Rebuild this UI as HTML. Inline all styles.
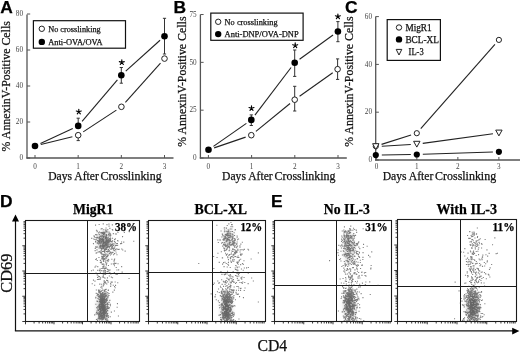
<!DOCTYPE html>
<html><head><meta charset="utf-8"><style>
html,body{margin:0;padding:0;background:#fff;}
body{width:520px;height:352px;overflow:hidden;font-family:"Liberation Serif",serif;}
svg{display:block;filter:grayscale(1);}
</style></head><body>
<svg width="520" height="352" viewBox="0 0 520 352">
<rect width="520" height="352" fill="#fff"/>
<text x="0.3" y="12.9" font-family="Liberation Sans" font-size="17.4" font-weight="bold" text-anchor="start" fill="#000" stroke="#000" stroke-width="0.25" >A</text>
<text x="173.6" y="12.6" font-family="Liberation Sans" font-size="17.4" font-weight="bold" text-anchor="start" fill="#000" stroke="#000" stroke-width="0.25" >B</text>
<text x="345.0" y="12.7" font-family="Liberation Sans" font-size="17.4" font-weight="bold" text-anchor="start" fill="#000" stroke="#000" stroke-width="0.25" >C</text>
<text x="0.0" y="207.3" font-family="Liberation Sans" font-size="17.4" font-weight="bold" text-anchor="start" fill="#000" stroke="#000" stroke-width="0.25" >D</text>
<text x="270.9" y="207.3" font-family="Liberation Sans" font-size="17.4" font-weight="bold" text-anchor="start" fill="#000" stroke="#000" stroke-width="0.25" >E</text>
<line x1="27" y1="14.5" x2="27" y2="158.5" stroke="#555" stroke-width="1.3"/>
<line x1="26.4" y1="158" x2="173.5" y2="158" stroke="#555" stroke-width="1.3"/>
<line x1="27" y1="158.0" x2="30.2" y2="158.0" stroke="#555" stroke-width="1"/>
<text x="23" y="160.2" font-family="Liberation Serif" font-size="7.2" font-weight="normal" text-anchor="end" fill="#444" >0</text>
<line x1="27" y1="122.0" x2="30.2" y2="122.0" stroke="#555" stroke-width="1"/>
<text x="23" y="124.2" font-family="Liberation Serif" font-size="7.2" font-weight="normal" text-anchor="end" fill="#444" >20</text>
<line x1="27" y1="86.0" x2="30.2" y2="86.0" stroke="#555" stroke-width="1"/>
<text x="23" y="88.2" font-family="Liberation Serif" font-size="7.2" font-weight="normal" text-anchor="end" fill="#444" >40</text>
<line x1="27" y1="50.0" x2="30.2" y2="50.0" stroke="#555" stroke-width="1"/>
<text x="23" y="52.2" font-family="Liberation Serif" font-size="7.2" font-weight="normal" text-anchor="end" fill="#444" >60</text>
<line x1="27" y1="14.0" x2="30.2" y2="14.0" stroke="#555" stroke-width="1"/>
<text x="23" y="16.2" font-family="Liberation Serif" font-size="7.2" font-weight="normal" text-anchor="end" fill="#444" >80</text>
<line x1="35.0" y1="158" x2="35.0" y2="155" stroke="#555" stroke-width="1"/>
<text x="35.0" y="168.5" font-family="Liberation Serif" font-size="7.2" font-weight="normal" text-anchor="middle" fill="#444" >0</text>
<line x1="78.17" y1="158" x2="78.17" y2="155" stroke="#555" stroke-width="1"/>
<text x="78.17" y="168.5" font-family="Liberation Serif" font-size="7.2" font-weight="normal" text-anchor="middle" fill="#444" >1</text>
<line x1="121.34" y1="158" x2="121.34" y2="155" stroke="#555" stroke-width="1"/>
<text x="121.34" y="168.5" font-family="Liberation Serif" font-size="7.2" font-weight="normal" text-anchor="middle" fill="#444" >2</text>
<line x1="164.51" y1="158" x2="164.51" y2="155" stroke="#555" stroke-width="1"/>
<text x="164.51" y="168.5" font-family="Liberation Serif" font-size="7.2" font-weight="normal" text-anchor="middle" fill="#444" >3</text>
<text x="0" y="0" font-family="Liberation Serif" font-size="12" text-anchor="middle" fill="#111" stroke="#111" stroke-width="0.25" textLength="130.2" lengthAdjust="spacingAndGlyphs" transform="translate(10.3,86.3) rotate(-90)">% AnnexinV-Positive Cells</text>
<text x="48.2" y="179.5" font-family="Liberation Serif" font-size="12" font-weight="normal" text-anchor="start" fill="#111" textLength="50.6" lengthAdjust="spacingAndGlyphs" stroke="#111" stroke-width="0.25" >Days After</text>
<text x="100.6" y="179.5" font-family="Liberation Serif" font-size="12" font-weight="normal" text-anchor="start" fill="#111" textLength="61.0" lengthAdjust="spacingAndGlyphs" stroke="#111" stroke-width="0.25" >Crosslinking</text>
<rect x="33.4" y="20.7" width="92.1" height="27.500000000000004" fill="#fff" stroke="#111" stroke-width="1.2"/>
<circle cx="41.8" cy="28.8" r="2.7" fill="#fff" stroke="#222" stroke-width="1"/>
<text x="48.2" y="31.605" font-family="Liberation Serif" font-size="8.5" font-weight="normal" text-anchor="start" fill="#111" textLength="52.5" lengthAdjust="spacingAndGlyphs" stroke="#111" stroke-width="0.25" >No crosslinking</text>
<circle cx="41.8" cy="41.9" r="3.2" fill="#000"/>
<text x="48.2" y="44.705" font-family="Liberation Serif" font-size="8.5" font-weight="normal" text-anchor="start" fill="#111" textLength="54.4" lengthAdjust="spacingAndGlyphs" stroke="#111" stroke-width="0.25" >Anti-OVA/OVA</text>
<line x1="40.82" y1="144.54" x2="72.38" y2="136.66" stroke="#222" stroke-width="1.1"/>
<line x1="40.44" y1="143.47" x2="72.76" y2="128.43" stroke="#222" stroke-width="1.1"/>
<line x1="83.21" y1="131.9" x2="116.39" y2="110.1" stroke="#222" stroke-width="1.1"/>
<line x1="82.09" y1="121.33" x2="117.41" y2="79.77" stroke="#222" stroke-width="1.1"/>
<line x1="125.4" y1="102.33" x2="160.5" y2="63.07" stroke="#222" stroke-width="1.1"/>
<line x1="125.75" y1="71.18" x2="160.05" y2="40.22" stroke="#222" stroke-width="1.1"/>
<line x1="78.2" y1="118.2" x2="78.2" y2="126" stroke="#333" stroke-width="1"/>
<line x1="76.60000000000001" y1="118.2" x2="79.8" y2="118.2" stroke="#333" stroke-width="1"/>
<line x1="76.60000000000001" y1="126" x2="79.8" y2="126" stroke="#333" stroke-width="1"/>
<line x1="78.2" y1="135" x2="78.2" y2="140.6" stroke="#333" stroke-width="1"/>
<line x1="76.60000000000001" y1="135" x2="79.8" y2="135" stroke="#333" stroke-width="1"/>
<line x1="76.60000000000001" y1="140.6" x2="79.8" y2="140.6" stroke="#333" stroke-width="1"/>
<line x1="121.3" y1="67.5" x2="121.3" y2="83.2" stroke="#333" stroke-width="1"/>
<line x1="119.7" y1="67.5" x2="122.89999999999999" y2="67.5" stroke="#333" stroke-width="1"/>
<line x1="119.7" y1="83.2" x2="122.89999999999999" y2="83.2" stroke="#333" stroke-width="1"/>
<line x1="164.5" y1="18.3" x2="164.5" y2="54" stroke="#333" stroke-width="1"/>
<line x1="162.9" y1="18.3" x2="166.1" y2="18.3" stroke="#333" stroke-width="1"/>
<line x1="162.9" y1="54" x2="166.1" y2="54" stroke="#333" stroke-width="1"/>
<circle cx="78.2" cy="135.2" r="2.8" fill="#fff" stroke="#222" stroke-width="1"/>
<circle cx="121.4" cy="106.8" r="2.8" fill="#fff" stroke="#222" stroke-width="1"/>
<circle cx="164.5" cy="58.6" r="2.8" fill="#fff" stroke="#222" stroke-width="1"/>
<circle cx="35" cy="146" r="3.3" fill="#000"/>
<circle cx="78.2" cy="125.9" r="3.3" fill="#000"/>
<circle cx="121.3" cy="75.2" r="3.3" fill="#000"/>
<circle cx="164.5" cy="36.2" r="3.3" fill="#000"/>
<path d="M78.80,111.80L78.80,109.20M78.80,111.80L81.27,111.00M78.80,111.80L76.33,111.00M78.80,111.80L77.27,113.90M78.80,111.80L80.33,113.90" stroke="#000" stroke-width="1.15" stroke-linecap="round" fill="none"/>
<path d="M121.80,62.40L121.80,59.80M121.80,62.40L124.27,61.60M121.80,62.40L119.33,61.60M121.80,62.40L120.27,64.50M121.80,62.40L123.33,64.50" stroke="#000" stroke-width="1.15" stroke-linecap="round" fill="none"/>
<line x1="200.4" y1="14.5" x2="200.4" y2="158.5" stroke="#555" stroke-width="1.3"/>
<line x1="199.8" y1="158" x2="346.8" y2="158" stroke="#555" stroke-width="1.3"/>
<line x1="200.4" y1="158.0" x2="203.6" y2="158.0" stroke="#555" stroke-width="1"/>
<text x="196.6" y="160.2" font-family="Liberation Serif" font-size="7.2" font-weight="normal" text-anchor="end" fill="#444" >0</text>
<line x1="200.4" y1="110.175" x2="203.6" y2="110.175" stroke="#555" stroke-width="1"/>
<text x="196.6" y="112.375" font-family="Liberation Serif" font-size="7.2" font-weight="normal" text-anchor="end" fill="#444" >25</text>
<line x1="200.4" y1="62.349999999999994" x2="203.6" y2="62.349999999999994" stroke="#555" stroke-width="1"/>
<text x="196.6" y="64.55" font-family="Liberation Serif" font-size="7.2" font-weight="normal" text-anchor="end" fill="#444" >50</text>
<line x1="200.4" y1="14.525000000000006" x2="203.6" y2="14.525000000000006" stroke="#555" stroke-width="1"/>
<text x="196.6" y="16.725000000000005" font-family="Liberation Serif" font-size="7.2" font-weight="normal" text-anchor="end" fill="#444" >75</text>
<line x1="208.4" y1="158" x2="208.4" y2="155" stroke="#555" stroke-width="1"/>
<text x="208.4" y="168.5" font-family="Liberation Serif" font-size="7.2" font-weight="normal" text-anchor="middle" fill="#444" >0</text>
<line x1="251.60000000000002" y1="158" x2="251.60000000000002" y2="155" stroke="#555" stroke-width="1"/>
<text x="251.60000000000002" y="168.5" font-family="Liberation Serif" font-size="7.2" font-weight="normal" text-anchor="middle" fill="#444" >1</text>
<line x1="294.8" y1="158" x2="294.8" y2="155" stroke="#555" stroke-width="1"/>
<text x="294.8" y="168.5" font-family="Liberation Serif" font-size="7.2" font-weight="normal" text-anchor="middle" fill="#444" >2</text>
<line x1="338.0" y1="158" x2="338.0" y2="155" stroke="#555" stroke-width="1"/>
<text x="338.0" y="168.5" font-family="Liberation Serif" font-size="7.2" font-weight="normal" text-anchor="middle" fill="#444" >3</text>
<text x="0" y="0" font-family="Liberation Serif" font-size="12" text-anchor="middle" fill="#111" stroke="#111" stroke-width="0.25" textLength="130.2" lengthAdjust="spacingAndGlyphs" transform="translate(186,81.6) rotate(-90)">% AnnexinV-Positive Cells</text>
<text x="222.1" y="179.5" font-family="Liberation Serif" font-size="12" font-weight="normal" text-anchor="start" fill="#111" textLength="50.6" lengthAdjust="spacingAndGlyphs" stroke="#111" stroke-width="0.25" >Days After</text>
<text x="274.5" y="179.5" font-family="Liberation Serif" font-size="12" font-weight="normal" text-anchor="start" fill="#111" textLength="61.0" lengthAdjust="spacingAndGlyphs" stroke="#111" stroke-width="0.25" >Crosslinking</text>
<rect x="210.8" y="13.1" width="92.30000000000001" height="27.199999999999996" fill="#fff" stroke="#111" stroke-width="1.2"/>
<circle cx="218.2" cy="21.8" r="2.7" fill="#fff" stroke="#222" stroke-width="1"/>
<text x="224.6" y="24.605" font-family="Liberation Serif" font-size="8.5" font-weight="normal" text-anchor="start" fill="#111" textLength="53.1" lengthAdjust="spacingAndGlyphs" stroke="#111" stroke-width="0.25" >No crosslinking</text>
<circle cx="218.2" cy="34.1" r="3.2" fill="#000"/>
<text x="224.6" y="36.905" font-family="Liberation Serif" font-size="8.5" font-weight="normal" text-anchor="start" fill="#111" textLength="74" lengthAdjust="spacingAndGlyphs" stroke="#111" stroke-width="0.25" >Anti-DNP/OVA-DNP</text>
<line x1="214.18" y1="147.86" x2="245.62" y2="137.14" stroke="#222" stroke-width="1.1"/>
<line x1="213.42" y1="146.36" x2="246.38" y2="123.34" stroke="#222" stroke-width="1.1"/>
<line x1="255.94" y1="131.4" x2="290.06" y2="103.5" stroke="#222" stroke-width="1.1"/>
<line x1="254.93" y1="115.12" x2="291.07" y2="67.48" stroke="#222" stroke-width="1.1"/>
<line x1="299.59" y1="96.22" x2="332.71" y2="72.68" stroke="#222" stroke-width="1.1"/>
<line x1="299.56" y1="59.19" x2="333.04" y2="35.01" stroke="#222" stroke-width="1.1"/>
<line x1="251.3" y1="114.9" x2="251.3" y2="125.5" stroke="#333" stroke-width="1"/>
<line x1="249.70000000000002" y1="114.9" x2="252.9" y2="114.9" stroke="#333" stroke-width="1"/>
<line x1="249.70000000000002" y1="125.5" x2="252.9" y2="125.5" stroke="#333" stroke-width="1"/>
<line x1="294.7" y1="50" x2="294.7" y2="76.4" stroke="#333" stroke-width="1"/>
<line x1="293.09999999999997" y1="50" x2="296.3" y2="50" stroke="#333" stroke-width="1"/>
<line x1="293.09999999999997" y1="76.4" x2="296.3" y2="76.4" stroke="#333" stroke-width="1"/>
<line x1="294.7" y1="86.3" x2="294.7" y2="111" stroke="#333" stroke-width="1"/>
<line x1="293.09999999999997" y1="86.3" x2="296.3" y2="86.3" stroke="#333" stroke-width="1"/>
<line x1="293.09999999999997" y1="111" x2="296.3" y2="111" stroke="#333" stroke-width="1"/>
<line x1="337.9" y1="21.6" x2="337.9" y2="41.7" stroke="#333" stroke-width="1"/>
<line x1="336.29999999999995" y1="21.6" x2="339.5" y2="21.6" stroke="#333" stroke-width="1"/>
<line x1="336.29999999999995" y1="41.7" x2="339.5" y2="41.7" stroke="#333" stroke-width="1"/>
<line x1="337.6" y1="58.9" x2="337.6" y2="79.4" stroke="#333" stroke-width="1"/>
<line x1="336.0" y1="58.9" x2="339.20000000000005" y2="58.9" stroke="#333" stroke-width="1"/>
<line x1="336.0" y1="79.4" x2="339.20000000000005" y2="79.4" stroke="#333" stroke-width="1"/>
<circle cx="251.3" cy="135.2" r="2.8" fill="#fff" stroke="#222" stroke-width="1"/>
<circle cx="294.7" cy="99.7" r="2.8" fill="#fff" stroke="#222" stroke-width="1"/>
<circle cx="337.6" cy="69.2" r="2.8" fill="#fff" stroke="#222" stroke-width="1"/>
<circle cx="208.5" cy="149.8" r="3.3" fill="#000"/>
<circle cx="251.3" cy="119.9" r="3.3" fill="#000"/>
<circle cx="294.7" cy="62.7" r="3.3" fill="#000"/>
<circle cx="337.9" cy="31.5" r="3.3" fill="#000"/>
<path d="M251.50,108.30L251.50,105.70M251.50,108.30L253.97,107.50M251.50,108.30L249.03,107.50M251.50,108.30L249.97,110.40M251.50,108.30L253.03,110.40" stroke="#000" stroke-width="1.15" stroke-linecap="round" fill="none"/>
<path d="M295.20,45.50L295.20,42.90M295.20,45.50L297.67,44.70M295.20,45.50L292.73,44.70M295.20,45.50L293.67,47.60M295.20,45.50L296.73,47.60" stroke="#000" stroke-width="1.15" stroke-linecap="round" fill="none"/>
<path d="M337.90,16.60L337.90,14.00M337.90,16.60L340.37,15.80M337.90,16.60L335.43,15.80M337.90,16.60L336.37,18.70M337.90,16.60L339.43,18.70" stroke="#000" stroke-width="1.15" stroke-linecap="round" fill="none"/>
<line x1="375.7" y1="16.5" x2="375.7" y2="160.5" stroke="#555" stroke-width="1.3"/>
<line x1="375.09999999999997" y1="160" x2="520" y2="160" stroke="#555" stroke-width="1.3"/>
<line x1="375.7" y1="160.0" x2="378.9" y2="160.0" stroke="#555" stroke-width="1"/>
<text x="372" y="162.2" font-family="Liberation Serif" font-size="7.2" font-weight="normal" text-anchor="end" fill="#444" >0</text>
<line x1="375.7" y1="112.19999999999999" x2="378.9" y2="112.19999999999999" stroke="#555" stroke-width="1"/>
<text x="372" y="114.39999999999999" font-family="Liberation Serif" font-size="7.2" font-weight="normal" text-anchor="end" fill="#444" >20</text>
<line x1="375.7" y1="64.39999999999999" x2="378.9" y2="64.39999999999999" stroke="#555" stroke-width="1"/>
<text x="372" y="66.6" font-family="Liberation Serif" font-size="7.2" font-weight="normal" text-anchor="end" fill="#444" >40</text>
<line x1="375.7" y1="16.599999999999994" x2="378.9" y2="16.599999999999994" stroke="#555" stroke-width="1"/>
<text x="372" y="18.799999999999994" font-family="Liberation Serif" font-size="7.2" font-weight="normal" text-anchor="end" fill="#444" >60</text>
<line x1="376.6" y1="160" x2="376.6" y2="157" stroke="#555" stroke-width="1"/>
<text x="376.6" y="169.3" font-family="Liberation Serif" font-size="7.2" font-weight="normal" text-anchor="middle" fill="#444" >0</text>
<line x1="416.83000000000004" y1="160" x2="416.83000000000004" y2="157" stroke="#555" stroke-width="1"/>
<text x="416.83000000000004" y="169.3" font-family="Liberation Serif" font-size="7.2" font-weight="normal" text-anchor="middle" fill="#444" >1</text>
<line x1="457.86" y1="160" x2="457.86" y2="157" stroke="#555" stroke-width="1"/>
<text x="457.86" y="169.3" font-family="Liberation Serif" font-size="7.2" font-weight="normal" text-anchor="middle" fill="#444" >2</text>
<line x1="498.89" y1="160" x2="498.89" y2="157" stroke="#555" stroke-width="1"/>
<text x="498.89" y="169.3" font-family="Liberation Serif" font-size="7.2" font-weight="normal" text-anchor="middle" fill="#444" >3</text>
<text x="0" y="0" font-family="Liberation Serif" font-size="12" text-anchor="middle" fill="#111" stroke="#111" stroke-width="0.25" textLength="130.2" lengthAdjust="spacingAndGlyphs" transform="translate(353.2,81.6) rotate(-90)">% AnnexinV-Positive Cells</text>
<text x="382.7" y="180" font-family="Liberation Serif" font-size="12" font-weight="normal" text-anchor="start" fill="#111" textLength="50.6" lengthAdjust="spacingAndGlyphs" stroke="#111" stroke-width="0.25" >Days After</text>
<text x="435.1" y="180" font-family="Liberation Serif" font-size="12" font-weight="normal" text-anchor="start" fill="#111" textLength="61.0" lengthAdjust="spacingAndGlyphs" stroke="#111" stroke-width="0.25" >Crosslinking</text>
<rect x="387.2" y="19.6" width="53.19999999999999" height="40.8" fill="#fff" stroke="#111" stroke-width="1.2"/>
<circle cx="399" cy="27.5" r="2.7" fill="#fff" stroke="#222" stroke-width="1"/>
<text x="405.4" y="30.602" font-family="Liberation Serif" font-size="9.4" font-weight="normal" text-anchor="start" fill="#111" textLength="26.3" lengthAdjust="spacingAndGlyphs" stroke="#111" stroke-width="0.25" >MigR1</text>
<circle cx="399" cy="39.4" r="3.2" fill="#000"/>
<text x="405.4" y="42.501999999999995" font-family="Liberation Serif" font-size="9.4" font-weight="normal" text-anchor="start" fill="#111" textLength="33.4" lengthAdjust="spacingAndGlyphs" stroke="#111" stroke-width="0.25" >BCL-XL</text>
<path d="M396.2,49.400000000000006 L401.8,49.400000000000006 L399,55.0 Z" fill="#fff" stroke="#222" stroke-width="1"/>
<text x="408.6" y="55.30200000000001" font-family="Liberation Serif" font-size="9.4" font-weight="normal" text-anchor="start" fill="#111" textLength="15.1" lengthAdjust="spacingAndGlyphs" stroke="#111" stroke-width="0.25" >IL-3</text>
<line x1="381.52" y1="144.39" x2="411.08" y2="135.01" stroke="#222" stroke-width="1.1"/>
<line x1="420.76" y1="128.7" x2="494.94" y2="44.4" stroke="#222" stroke-width="1.1"/>
<line x1="381.8" y1="154.93" x2="410.8" y2="154.57" stroke="#222" stroke-width="1.1"/>
<line x1="422.8" y1="154.3" x2="492.9" y2="152.0" stroke="#222" stroke-width="1.1"/>
<line x1="381.79" y1="146.25" x2="410.81" y2="144.55" stroke="#222" stroke-width="1.1"/>
<line x1="422.74" y1="143.39" x2="492.96" y2="133.81" stroke="#222" stroke-width="1.1"/>
<circle cx="375.8" cy="146.2" r="2.6" fill="#fff" stroke="#222" stroke-width="1"/>
<circle cx="416.8" cy="133.2" r="2.6" fill="#fff" stroke="#222" stroke-width="1"/>
<circle cx="498.9" cy="39.9" r="2.6" fill="#fff" stroke="#222" stroke-width="1"/>
<path d="M372.6,143.7 L379.0,143.7 L375.8,149.5 Z" fill="#fff" stroke="#222" stroke-width="1"/>
<path d="M413.6,141.29999999999998 L420.0,141.29999999999998 L416.8,147.1 Z" fill="#fff" stroke="#222" stroke-width="1"/>
<path d="M495.7,130.1 L502.09999999999997,130.1 L498.9,135.9 Z" fill="#fff" stroke="#222" stroke-width="1"/>
<circle cx="375.8" cy="155" r="3.1" fill="#000"/>
<circle cx="416.8" cy="154.5" r="3.1" fill="#000"/>
<circle cx="498.9" cy="151.8" r="3.1" fill="#000"/>
<line x1="15.5" y1="220" x2="15.5" y2="331" stroke="#111" stroke-width="1.2"/>
<path d="M12,221.5 L15.5,214.6 L19,221.5 Z" fill="#000"/>
<line x1="14.9" y1="330.9" x2="513" y2="330.9" stroke="#111" stroke-width="1.3"/>
<path d="M512.2,327.8 L519.4,331 L512.2,334.6 Z" fill="#000"/>
<text x="11.6" y="273.2" font-family="Liberation Serif" font-size="16.3" font-weight="normal" text-anchor="middle" fill="#111" textLength="39" lengthAdjust="spacingAndGlyphs" stroke="#111" stroke-width="0.25" transform="rotate(-90 11.6 273.2)">CD69</text>
<text x="257.4" y="350.8" font-family="Liberation Serif" font-size="16" font-weight="normal" text-anchor="start" fill="#111" textLength="29.8" lengthAdjust="spacingAndGlyphs" stroke="#111" stroke-width="0.25" >CD4</text>
<line x1="22.3" y1="321.5" x2="25.5" y2="321.5" stroke="#222" stroke-width="0.9"/>
<line x1="23.5" y1="313.9" x2="25.5" y2="313.9" stroke="#222" stroke-width="0.9"/>
<line x1="23.5" y1="309.45" x2="25.5" y2="309.45" stroke="#222" stroke-width="0.9"/>
<line x1="23.5" y1="306.3" x2="25.5" y2="306.3" stroke="#222" stroke-width="0.9"/>
<line x1="23.5" y1="303.85" x2="25.5" y2="303.85" stroke="#222" stroke-width="0.9"/>
<line x1="23.5" y1="301.85" x2="25.5" y2="301.85" stroke="#222" stroke-width="0.9"/>
<line x1="23.5" y1="300.16" x2="25.5" y2="300.16" stroke="#222" stroke-width="0.9"/>
<line x1="23.5" y1="298.7" x2="25.5" y2="298.7" stroke="#222" stroke-width="0.9"/>
<line x1="23.5" y1="297.41" x2="25.5" y2="297.41" stroke="#222" stroke-width="0.9"/>
<line x1="22.3" y1="296.25" x2="25.5" y2="296.25" stroke="#222" stroke-width="0.9"/>
<line x1="23.5" y1="288.65" x2="25.5" y2="288.65" stroke="#222" stroke-width="0.9"/>
<line x1="23.5" y1="284.2" x2="25.5" y2="284.2" stroke="#222" stroke-width="0.9"/>
<line x1="23.5" y1="281.05" x2="25.5" y2="281.05" stroke="#222" stroke-width="0.9"/>
<line x1="23.5" y1="278.6" x2="25.5" y2="278.6" stroke="#222" stroke-width="0.9"/>
<line x1="23.5" y1="276.6" x2="25.5" y2="276.6" stroke="#222" stroke-width="0.9"/>
<line x1="23.5" y1="274.91" x2="25.5" y2="274.91" stroke="#222" stroke-width="0.9"/>
<line x1="23.5" y1="273.45" x2="25.5" y2="273.45" stroke="#222" stroke-width="0.9"/>
<line x1="23.5" y1="272.16" x2="25.5" y2="272.16" stroke="#222" stroke-width="0.9"/>
<line x1="22.3" y1="271.0" x2="25.5" y2="271.0" stroke="#222" stroke-width="0.9"/>
<line x1="23.5" y1="263.4" x2="25.5" y2="263.4" stroke="#222" stroke-width="0.9"/>
<line x1="23.5" y1="258.95" x2="25.5" y2="258.95" stroke="#222" stroke-width="0.9"/>
<line x1="23.5" y1="255.8" x2="25.5" y2="255.8" stroke="#222" stroke-width="0.9"/>
<line x1="23.5" y1="253.35" x2="25.5" y2="253.35" stroke="#222" stroke-width="0.9"/>
<line x1="23.5" y1="251.35" x2="25.5" y2="251.35" stroke="#222" stroke-width="0.9"/>
<line x1="23.5" y1="249.66" x2="25.5" y2="249.66" stroke="#222" stroke-width="0.9"/>
<line x1="23.5" y1="248.2" x2="25.5" y2="248.2" stroke="#222" stroke-width="0.9"/>
<line x1="23.5" y1="246.91" x2="25.5" y2="246.91" stroke="#222" stroke-width="0.9"/>
<line x1="22.3" y1="245.75" x2="25.5" y2="245.75" stroke="#222" stroke-width="0.9"/>
<line x1="23.5" y1="238.15" x2="25.5" y2="238.15" stroke="#222" stroke-width="0.9"/>
<line x1="23.5" y1="233.7" x2="25.5" y2="233.7" stroke="#222" stroke-width="0.9"/>
<line x1="23.5" y1="230.55" x2="25.5" y2="230.55" stroke="#222" stroke-width="0.9"/>
<line x1="23.5" y1="228.1" x2="25.5" y2="228.1" stroke="#222" stroke-width="0.9"/>
<line x1="23.5" y1="226.1" x2="25.5" y2="226.1" stroke="#222" stroke-width="0.9"/>
<line x1="23.5" y1="224.41" x2="25.5" y2="224.41" stroke="#222" stroke-width="0.9"/>
<line x1="23.5" y1="222.95" x2="25.5" y2="222.95" stroke="#222" stroke-width="0.9"/>
<line x1="23.5" y1="221.66" x2="25.5" y2="221.66" stroke="#222" stroke-width="0.9"/>
<line x1="25.5" y1="321.5" x2="25.5" y2="324.3" stroke="#222" stroke-width="0.9"/>
<line x1="34.08" y1="321.5" x2="34.08" y2="323.5" stroke="#222" stroke-width="0.9"/>
<line x1="39.1" y1="321.5" x2="39.1" y2="323.5" stroke="#222" stroke-width="0.9"/>
<line x1="42.66" y1="321.5" x2="42.66" y2="323.5" stroke="#222" stroke-width="0.9"/>
<line x1="45.42" y1="321.5" x2="45.42" y2="323.5" stroke="#222" stroke-width="0.9"/>
<line x1="47.68" y1="321.5" x2="47.68" y2="323.5" stroke="#222" stroke-width="0.9"/>
<line x1="49.59" y1="321.5" x2="49.59" y2="323.5" stroke="#222" stroke-width="0.9"/>
<line x1="51.24" y1="321.5" x2="51.24" y2="323.5" stroke="#222" stroke-width="0.9"/>
<line x1="52.7" y1="321.5" x2="52.7" y2="323.5" stroke="#222" stroke-width="0.9"/>
<line x1="54.0" y1="321.5" x2="54.0" y2="324.3" stroke="#222" stroke-width="0.9"/>
<line x1="62.58" y1="321.5" x2="62.58" y2="323.5" stroke="#222" stroke-width="0.9"/>
<line x1="67.6" y1="321.5" x2="67.6" y2="323.5" stroke="#222" stroke-width="0.9"/>
<line x1="71.16" y1="321.5" x2="71.16" y2="323.5" stroke="#222" stroke-width="0.9"/>
<line x1="73.92" y1="321.5" x2="73.92" y2="323.5" stroke="#222" stroke-width="0.9"/>
<line x1="76.18" y1="321.5" x2="76.18" y2="323.5" stroke="#222" stroke-width="0.9"/>
<line x1="78.09" y1="321.5" x2="78.09" y2="323.5" stroke="#222" stroke-width="0.9"/>
<line x1="79.74" y1="321.5" x2="79.74" y2="323.5" stroke="#222" stroke-width="0.9"/>
<line x1="81.2" y1="321.5" x2="81.2" y2="323.5" stroke="#222" stroke-width="0.9"/>
<line x1="82.5" y1="321.5" x2="82.5" y2="324.3" stroke="#222" stroke-width="0.9"/>
<line x1="91.08" y1="321.5" x2="91.08" y2="323.5" stroke="#222" stroke-width="0.9"/>
<line x1="96.1" y1="321.5" x2="96.1" y2="323.5" stroke="#222" stroke-width="0.9"/>
<line x1="99.66" y1="321.5" x2="99.66" y2="323.5" stroke="#222" stroke-width="0.9"/>
<line x1="102.42" y1="321.5" x2="102.42" y2="323.5" stroke="#222" stroke-width="0.9"/>
<line x1="104.68" y1="321.5" x2="104.68" y2="323.5" stroke="#222" stroke-width="0.9"/>
<line x1="106.59" y1="321.5" x2="106.59" y2="323.5" stroke="#222" stroke-width="0.9"/>
<line x1="108.24" y1="321.5" x2="108.24" y2="323.5" stroke="#222" stroke-width="0.9"/>
<line x1="109.7" y1="321.5" x2="109.7" y2="323.5" stroke="#222" stroke-width="0.9"/>
<line x1="111.0" y1="321.5" x2="111.0" y2="324.3" stroke="#222" stroke-width="0.9"/>
<line x1="119.58" y1="321.5" x2="119.58" y2="323.5" stroke="#222" stroke-width="0.9"/>
<line x1="124.6" y1="321.5" x2="124.6" y2="323.5" stroke="#222" stroke-width="0.9"/>
<line x1="128.16" y1="321.5" x2="128.16" y2="323.5" stroke="#222" stroke-width="0.9"/>
<line x1="130.92" y1="321.5" x2="130.92" y2="323.5" stroke="#222" stroke-width="0.9"/>
<line x1="133.18" y1="321.5" x2="133.18" y2="323.5" stroke="#222" stroke-width="0.9"/>
<line x1="135.09" y1="321.5" x2="135.09" y2="323.5" stroke="#222" stroke-width="0.9"/>
<line x1="136.74" y1="321.5" x2="136.74" y2="323.5" stroke="#222" stroke-width="0.9"/>
<line x1="138.2" y1="321.5" x2="138.2" y2="323.5" stroke="#222" stroke-width="0.9"/>
<rect x="25.5" y="220.5" width="114.0" height="101.0" fill="none" stroke="#1a1a1a" stroke-width="1.1"/>
<line x1="25.5" y1="273.5" x2="139.5" y2="273.5" stroke="#1a1a1a" stroke-width="1.0"/>
<line x1="87.5" y1="220.5" x2="87.5" y2="321.5" stroke="#1a1a1a" stroke-width="1.0"/>
<text x="73" y="213.8" font-family="Liberation Serif" font-size="14" font-weight="bold" text-anchor="start" fill="#000" textLength="40.3" lengthAdjust="spacingAndGlyphs" stroke="#000" stroke-width="0.25" >MigR1</text>
<text x="115" y="230.8" font-family="Liberation Serif" font-size="12" font-weight="bold" text-anchor="start" fill="#000" textLength="22" lengthAdjust="spacingAndGlyphs" stroke="#000" stroke-width="0.25" >38%</text>
<line x1="145.3" y1="321.5" x2="148.5" y2="321.5" stroke="#222" stroke-width="0.9"/>
<line x1="146.5" y1="313.9" x2="148.5" y2="313.9" stroke="#222" stroke-width="0.9"/>
<line x1="146.5" y1="309.45" x2="148.5" y2="309.45" stroke="#222" stroke-width="0.9"/>
<line x1="146.5" y1="306.3" x2="148.5" y2="306.3" stroke="#222" stroke-width="0.9"/>
<line x1="146.5" y1="303.85" x2="148.5" y2="303.85" stroke="#222" stroke-width="0.9"/>
<line x1="146.5" y1="301.85" x2="148.5" y2="301.85" stroke="#222" stroke-width="0.9"/>
<line x1="146.5" y1="300.16" x2="148.5" y2="300.16" stroke="#222" stroke-width="0.9"/>
<line x1="146.5" y1="298.7" x2="148.5" y2="298.7" stroke="#222" stroke-width="0.9"/>
<line x1="146.5" y1="297.41" x2="148.5" y2="297.41" stroke="#222" stroke-width="0.9"/>
<line x1="145.3" y1="296.25" x2="148.5" y2="296.25" stroke="#222" stroke-width="0.9"/>
<line x1="146.5" y1="288.65" x2="148.5" y2="288.65" stroke="#222" stroke-width="0.9"/>
<line x1="146.5" y1="284.2" x2="148.5" y2="284.2" stroke="#222" stroke-width="0.9"/>
<line x1="146.5" y1="281.05" x2="148.5" y2="281.05" stroke="#222" stroke-width="0.9"/>
<line x1="146.5" y1="278.6" x2="148.5" y2="278.6" stroke="#222" stroke-width="0.9"/>
<line x1="146.5" y1="276.6" x2="148.5" y2="276.6" stroke="#222" stroke-width="0.9"/>
<line x1="146.5" y1="274.91" x2="148.5" y2="274.91" stroke="#222" stroke-width="0.9"/>
<line x1="146.5" y1="273.45" x2="148.5" y2="273.45" stroke="#222" stroke-width="0.9"/>
<line x1="146.5" y1="272.16" x2="148.5" y2="272.16" stroke="#222" stroke-width="0.9"/>
<line x1="145.3" y1="271.0" x2="148.5" y2="271.0" stroke="#222" stroke-width="0.9"/>
<line x1="146.5" y1="263.4" x2="148.5" y2="263.4" stroke="#222" stroke-width="0.9"/>
<line x1="146.5" y1="258.95" x2="148.5" y2="258.95" stroke="#222" stroke-width="0.9"/>
<line x1="146.5" y1="255.8" x2="148.5" y2="255.8" stroke="#222" stroke-width="0.9"/>
<line x1="146.5" y1="253.35" x2="148.5" y2="253.35" stroke="#222" stroke-width="0.9"/>
<line x1="146.5" y1="251.35" x2="148.5" y2="251.35" stroke="#222" stroke-width="0.9"/>
<line x1="146.5" y1="249.66" x2="148.5" y2="249.66" stroke="#222" stroke-width="0.9"/>
<line x1="146.5" y1="248.2" x2="148.5" y2="248.2" stroke="#222" stroke-width="0.9"/>
<line x1="146.5" y1="246.91" x2="148.5" y2="246.91" stroke="#222" stroke-width="0.9"/>
<line x1="145.3" y1="245.75" x2="148.5" y2="245.75" stroke="#222" stroke-width="0.9"/>
<line x1="146.5" y1="238.15" x2="148.5" y2="238.15" stroke="#222" stroke-width="0.9"/>
<line x1="146.5" y1="233.7" x2="148.5" y2="233.7" stroke="#222" stroke-width="0.9"/>
<line x1="146.5" y1="230.55" x2="148.5" y2="230.55" stroke="#222" stroke-width="0.9"/>
<line x1="146.5" y1="228.1" x2="148.5" y2="228.1" stroke="#222" stroke-width="0.9"/>
<line x1="146.5" y1="226.1" x2="148.5" y2="226.1" stroke="#222" stroke-width="0.9"/>
<line x1="146.5" y1="224.41" x2="148.5" y2="224.41" stroke="#222" stroke-width="0.9"/>
<line x1="146.5" y1="222.95" x2="148.5" y2="222.95" stroke="#222" stroke-width="0.9"/>
<line x1="146.5" y1="221.66" x2="148.5" y2="221.66" stroke="#222" stroke-width="0.9"/>
<line x1="148.5" y1="321.5" x2="148.5" y2="324.3" stroke="#222" stroke-width="0.9"/>
<line x1="157.31" y1="321.5" x2="157.31" y2="323.5" stroke="#222" stroke-width="0.9"/>
<line x1="162.46" y1="321.5" x2="162.46" y2="323.5" stroke="#222" stroke-width="0.9"/>
<line x1="166.11" y1="321.5" x2="166.11" y2="323.5" stroke="#222" stroke-width="0.9"/>
<line x1="168.94" y1="321.5" x2="168.94" y2="323.5" stroke="#222" stroke-width="0.9"/>
<line x1="171.26" y1="321.5" x2="171.26" y2="323.5" stroke="#222" stroke-width="0.9"/>
<line x1="173.22" y1="321.5" x2="173.22" y2="323.5" stroke="#222" stroke-width="0.9"/>
<line x1="174.92" y1="321.5" x2="174.92" y2="323.5" stroke="#222" stroke-width="0.9"/>
<line x1="176.41" y1="321.5" x2="176.41" y2="323.5" stroke="#222" stroke-width="0.9"/>
<line x1="177.75" y1="321.5" x2="177.75" y2="324.3" stroke="#222" stroke-width="0.9"/>
<line x1="186.56" y1="321.5" x2="186.56" y2="323.5" stroke="#222" stroke-width="0.9"/>
<line x1="191.71" y1="321.5" x2="191.71" y2="323.5" stroke="#222" stroke-width="0.9"/>
<line x1="195.36" y1="321.5" x2="195.36" y2="323.5" stroke="#222" stroke-width="0.9"/>
<line x1="198.19" y1="321.5" x2="198.19" y2="323.5" stroke="#222" stroke-width="0.9"/>
<line x1="200.51" y1="321.5" x2="200.51" y2="323.5" stroke="#222" stroke-width="0.9"/>
<line x1="202.47" y1="321.5" x2="202.47" y2="323.5" stroke="#222" stroke-width="0.9"/>
<line x1="204.17" y1="321.5" x2="204.17" y2="323.5" stroke="#222" stroke-width="0.9"/>
<line x1="205.66" y1="321.5" x2="205.66" y2="323.5" stroke="#222" stroke-width="0.9"/>
<line x1="207.0" y1="321.5" x2="207.0" y2="324.3" stroke="#222" stroke-width="0.9"/>
<line x1="215.81" y1="321.5" x2="215.81" y2="323.5" stroke="#222" stroke-width="0.9"/>
<line x1="220.96" y1="321.5" x2="220.96" y2="323.5" stroke="#222" stroke-width="0.9"/>
<line x1="224.61" y1="321.5" x2="224.61" y2="323.5" stroke="#222" stroke-width="0.9"/>
<line x1="227.44" y1="321.5" x2="227.44" y2="323.5" stroke="#222" stroke-width="0.9"/>
<line x1="229.76" y1="321.5" x2="229.76" y2="323.5" stroke="#222" stroke-width="0.9"/>
<line x1="231.72" y1="321.5" x2="231.72" y2="323.5" stroke="#222" stroke-width="0.9"/>
<line x1="233.42" y1="321.5" x2="233.42" y2="323.5" stroke="#222" stroke-width="0.9"/>
<line x1="234.91" y1="321.5" x2="234.91" y2="323.5" stroke="#222" stroke-width="0.9"/>
<line x1="236.25" y1="321.5" x2="236.25" y2="324.3" stroke="#222" stroke-width="0.9"/>
<line x1="245.06" y1="321.5" x2="245.06" y2="323.5" stroke="#222" stroke-width="0.9"/>
<line x1="250.21" y1="321.5" x2="250.21" y2="323.5" stroke="#222" stroke-width="0.9"/>
<line x1="253.86" y1="321.5" x2="253.86" y2="323.5" stroke="#222" stroke-width="0.9"/>
<line x1="256.69" y1="321.5" x2="256.69" y2="323.5" stroke="#222" stroke-width="0.9"/>
<line x1="259.01" y1="321.5" x2="259.01" y2="323.5" stroke="#222" stroke-width="0.9"/>
<line x1="260.97" y1="321.5" x2="260.97" y2="323.5" stroke="#222" stroke-width="0.9"/>
<line x1="262.67" y1="321.5" x2="262.67" y2="323.5" stroke="#222" stroke-width="0.9"/>
<line x1="264.16" y1="321.5" x2="264.16" y2="323.5" stroke="#222" stroke-width="0.9"/>
<rect x="148.5" y="220.5" width="117.0" height="101.0" fill="none" stroke="#1a1a1a" stroke-width="1.1"/>
<line x1="148.5" y1="272.5" x2="265.5" y2="272.5" stroke="#1a1a1a" stroke-width="1.0"/>
<line x1="212.5" y1="220.5" x2="212.5" y2="321.5" stroke="#1a1a1a" stroke-width="1.0"/>
<text x="194.5" y="213.8" font-family="Liberation Serif" font-size="14" font-weight="bold" text-anchor="start" fill="#000" textLength="52.5" lengthAdjust="spacingAndGlyphs" stroke="#000" stroke-width="0.25" >BCL-XL</text>
<text x="240.4" y="230.8" font-family="Liberation Serif" font-size="12" font-weight="bold" text-anchor="start" fill="#000" textLength="21.9" lengthAdjust="spacingAndGlyphs" stroke="#000" stroke-width="0.25" >12%</text>
<line x1="271.3" y1="321.5" x2="274.5" y2="321.5" stroke="#222" stroke-width="0.9"/>
<line x1="272.5" y1="313.9" x2="274.5" y2="313.9" stroke="#222" stroke-width="0.9"/>
<line x1="272.5" y1="309.45" x2="274.5" y2="309.45" stroke="#222" stroke-width="0.9"/>
<line x1="272.5" y1="306.3" x2="274.5" y2="306.3" stroke="#222" stroke-width="0.9"/>
<line x1="272.5" y1="303.85" x2="274.5" y2="303.85" stroke="#222" stroke-width="0.9"/>
<line x1="272.5" y1="301.85" x2="274.5" y2="301.85" stroke="#222" stroke-width="0.9"/>
<line x1="272.5" y1="300.16" x2="274.5" y2="300.16" stroke="#222" stroke-width="0.9"/>
<line x1="272.5" y1="298.7" x2="274.5" y2="298.7" stroke="#222" stroke-width="0.9"/>
<line x1="272.5" y1="297.41" x2="274.5" y2="297.41" stroke="#222" stroke-width="0.9"/>
<line x1="271.3" y1="296.25" x2="274.5" y2="296.25" stroke="#222" stroke-width="0.9"/>
<line x1="272.5" y1="288.65" x2="274.5" y2="288.65" stroke="#222" stroke-width="0.9"/>
<line x1="272.5" y1="284.2" x2="274.5" y2="284.2" stroke="#222" stroke-width="0.9"/>
<line x1="272.5" y1="281.05" x2="274.5" y2="281.05" stroke="#222" stroke-width="0.9"/>
<line x1="272.5" y1="278.6" x2="274.5" y2="278.6" stroke="#222" stroke-width="0.9"/>
<line x1="272.5" y1="276.6" x2="274.5" y2="276.6" stroke="#222" stroke-width="0.9"/>
<line x1="272.5" y1="274.91" x2="274.5" y2="274.91" stroke="#222" stroke-width="0.9"/>
<line x1="272.5" y1="273.45" x2="274.5" y2="273.45" stroke="#222" stroke-width="0.9"/>
<line x1="272.5" y1="272.16" x2="274.5" y2="272.16" stroke="#222" stroke-width="0.9"/>
<line x1="271.3" y1="271.0" x2="274.5" y2="271.0" stroke="#222" stroke-width="0.9"/>
<line x1="272.5" y1="263.4" x2="274.5" y2="263.4" stroke="#222" stroke-width="0.9"/>
<line x1="272.5" y1="258.95" x2="274.5" y2="258.95" stroke="#222" stroke-width="0.9"/>
<line x1="272.5" y1="255.8" x2="274.5" y2="255.8" stroke="#222" stroke-width="0.9"/>
<line x1="272.5" y1="253.35" x2="274.5" y2="253.35" stroke="#222" stroke-width="0.9"/>
<line x1="272.5" y1="251.35" x2="274.5" y2="251.35" stroke="#222" stroke-width="0.9"/>
<line x1="272.5" y1="249.66" x2="274.5" y2="249.66" stroke="#222" stroke-width="0.9"/>
<line x1="272.5" y1="248.2" x2="274.5" y2="248.2" stroke="#222" stroke-width="0.9"/>
<line x1="272.5" y1="246.91" x2="274.5" y2="246.91" stroke="#222" stroke-width="0.9"/>
<line x1="271.3" y1="245.75" x2="274.5" y2="245.75" stroke="#222" stroke-width="0.9"/>
<line x1="272.5" y1="238.15" x2="274.5" y2="238.15" stroke="#222" stroke-width="0.9"/>
<line x1="272.5" y1="233.7" x2="274.5" y2="233.7" stroke="#222" stroke-width="0.9"/>
<line x1="272.5" y1="230.55" x2="274.5" y2="230.55" stroke="#222" stroke-width="0.9"/>
<line x1="272.5" y1="228.1" x2="274.5" y2="228.1" stroke="#222" stroke-width="0.9"/>
<line x1="272.5" y1="226.1" x2="274.5" y2="226.1" stroke="#222" stroke-width="0.9"/>
<line x1="272.5" y1="224.41" x2="274.5" y2="224.41" stroke="#222" stroke-width="0.9"/>
<line x1="272.5" y1="222.95" x2="274.5" y2="222.95" stroke="#222" stroke-width="0.9"/>
<line x1="272.5" y1="221.66" x2="274.5" y2="221.66" stroke="#222" stroke-width="0.9"/>
<line x1="274.5" y1="321.5" x2="274.5" y2="324.3" stroke="#222" stroke-width="0.9"/>
<line x1="283.31" y1="321.5" x2="283.31" y2="323.5" stroke="#222" stroke-width="0.9"/>
<line x1="288.46" y1="321.5" x2="288.46" y2="323.5" stroke="#222" stroke-width="0.9"/>
<line x1="292.11" y1="321.5" x2="292.11" y2="323.5" stroke="#222" stroke-width="0.9"/>
<line x1="294.94" y1="321.5" x2="294.94" y2="323.5" stroke="#222" stroke-width="0.9"/>
<line x1="297.26" y1="321.5" x2="297.26" y2="323.5" stroke="#222" stroke-width="0.9"/>
<line x1="299.22" y1="321.5" x2="299.22" y2="323.5" stroke="#222" stroke-width="0.9"/>
<line x1="300.92" y1="321.5" x2="300.92" y2="323.5" stroke="#222" stroke-width="0.9"/>
<line x1="302.41" y1="321.5" x2="302.41" y2="323.5" stroke="#222" stroke-width="0.9"/>
<line x1="303.75" y1="321.5" x2="303.75" y2="324.3" stroke="#222" stroke-width="0.9"/>
<line x1="312.56" y1="321.5" x2="312.56" y2="323.5" stroke="#222" stroke-width="0.9"/>
<line x1="317.71" y1="321.5" x2="317.71" y2="323.5" stroke="#222" stroke-width="0.9"/>
<line x1="321.36" y1="321.5" x2="321.36" y2="323.5" stroke="#222" stroke-width="0.9"/>
<line x1="324.19" y1="321.5" x2="324.19" y2="323.5" stroke="#222" stroke-width="0.9"/>
<line x1="326.51" y1="321.5" x2="326.51" y2="323.5" stroke="#222" stroke-width="0.9"/>
<line x1="328.47" y1="321.5" x2="328.47" y2="323.5" stroke="#222" stroke-width="0.9"/>
<line x1="330.17" y1="321.5" x2="330.17" y2="323.5" stroke="#222" stroke-width="0.9"/>
<line x1="331.66" y1="321.5" x2="331.66" y2="323.5" stroke="#222" stroke-width="0.9"/>
<line x1="333.0" y1="321.5" x2="333.0" y2="324.3" stroke="#222" stroke-width="0.9"/>
<line x1="341.81" y1="321.5" x2="341.81" y2="323.5" stroke="#222" stroke-width="0.9"/>
<line x1="346.96" y1="321.5" x2="346.96" y2="323.5" stroke="#222" stroke-width="0.9"/>
<line x1="350.61" y1="321.5" x2="350.61" y2="323.5" stroke="#222" stroke-width="0.9"/>
<line x1="353.44" y1="321.5" x2="353.44" y2="323.5" stroke="#222" stroke-width="0.9"/>
<line x1="355.76" y1="321.5" x2="355.76" y2="323.5" stroke="#222" stroke-width="0.9"/>
<line x1="357.72" y1="321.5" x2="357.72" y2="323.5" stroke="#222" stroke-width="0.9"/>
<line x1="359.42" y1="321.5" x2="359.42" y2="323.5" stroke="#222" stroke-width="0.9"/>
<line x1="360.91" y1="321.5" x2="360.91" y2="323.5" stroke="#222" stroke-width="0.9"/>
<line x1="362.25" y1="321.5" x2="362.25" y2="324.3" stroke="#222" stroke-width="0.9"/>
<line x1="371.06" y1="321.5" x2="371.06" y2="323.5" stroke="#222" stroke-width="0.9"/>
<line x1="376.21" y1="321.5" x2="376.21" y2="323.5" stroke="#222" stroke-width="0.9"/>
<line x1="379.86" y1="321.5" x2="379.86" y2="323.5" stroke="#222" stroke-width="0.9"/>
<line x1="382.69" y1="321.5" x2="382.69" y2="323.5" stroke="#222" stroke-width="0.9"/>
<line x1="385.01" y1="321.5" x2="385.01" y2="323.5" stroke="#222" stroke-width="0.9"/>
<line x1="386.97" y1="321.5" x2="386.97" y2="323.5" stroke="#222" stroke-width="0.9"/>
<line x1="388.67" y1="321.5" x2="388.67" y2="323.5" stroke="#222" stroke-width="0.9"/>
<line x1="390.16" y1="321.5" x2="390.16" y2="323.5" stroke="#222" stroke-width="0.9"/>
<rect x="274.5" y="220.5" width="117.0" height="101.0" fill="none" stroke="#1a1a1a" stroke-width="1.1"/>
<line x1="274.5" y1="285.5" x2="391.5" y2="285.5" stroke="#1a1a1a" stroke-width="1.0"/>
<line x1="336.5" y1="220.5" x2="336.5" y2="321.5" stroke="#1a1a1a" stroke-width="1.0"/>
<text x="323.8" y="213.8" font-family="Liberation Serif" font-size="14" font-weight="bold" text-anchor="start" fill="#000" textLength="46.2" lengthAdjust="spacingAndGlyphs" stroke="#000" stroke-width="0.25" >No IL-3</text>
<text x="365.3" y="230.8" font-family="Liberation Serif" font-size="12" font-weight="bold" text-anchor="start" fill="#000" textLength="22.2" lengthAdjust="spacingAndGlyphs" stroke="#000" stroke-width="0.25" >31%</text>
<line x1="394.3" y1="321.5" x2="397.5" y2="321.5" stroke="#222" stroke-width="0.9"/>
<line x1="395.5" y1="313.82" x2="397.5" y2="313.82" stroke="#222" stroke-width="0.9"/>
<line x1="395.5" y1="309.33" x2="397.5" y2="309.33" stroke="#222" stroke-width="0.9"/>
<line x1="395.5" y1="306.15" x2="397.5" y2="306.15" stroke="#222" stroke-width="0.9"/>
<line x1="395.5" y1="303.68" x2="397.5" y2="303.68" stroke="#222" stroke-width="0.9"/>
<line x1="395.5" y1="301.66" x2="397.5" y2="301.66" stroke="#222" stroke-width="0.9"/>
<line x1="395.5" y1="299.95" x2="397.5" y2="299.95" stroke="#222" stroke-width="0.9"/>
<line x1="395.5" y1="298.47" x2="397.5" y2="298.47" stroke="#222" stroke-width="0.9"/>
<line x1="395.5" y1="297.17" x2="397.5" y2="297.17" stroke="#222" stroke-width="0.9"/>
<line x1="394.3" y1="296.0" x2="397.5" y2="296.0" stroke="#222" stroke-width="0.9"/>
<line x1="395.5" y1="288.32" x2="397.5" y2="288.32" stroke="#222" stroke-width="0.9"/>
<line x1="395.5" y1="283.83" x2="397.5" y2="283.83" stroke="#222" stroke-width="0.9"/>
<line x1="395.5" y1="280.65" x2="397.5" y2="280.65" stroke="#222" stroke-width="0.9"/>
<line x1="395.5" y1="278.18" x2="397.5" y2="278.18" stroke="#222" stroke-width="0.9"/>
<line x1="395.5" y1="276.16" x2="397.5" y2="276.16" stroke="#222" stroke-width="0.9"/>
<line x1="395.5" y1="274.45" x2="397.5" y2="274.45" stroke="#222" stroke-width="0.9"/>
<line x1="395.5" y1="272.97" x2="397.5" y2="272.97" stroke="#222" stroke-width="0.9"/>
<line x1="395.5" y1="271.67" x2="397.5" y2="271.67" stroke="#222" stroke-width="0.9"/>
<line x1="394.3" y1="270.5" x2="397.5" y2="270.5" stroke="#222" stroke-width="0.9"/>
<line x1="395.5" y1="262.82" x2="397.5" y2="262.82" stroke="#222" stroke-width="0.9"/>
<line x1="395.5" y1="258.33" x2="397.5" y2="258.33" stroke="#222" stroke-width="0.9"/>
<line x1="395.5" y1="255.15" x2="397.5" y2="255.15" stroke="#222" stroke-width="0.9"/>
<line x1="395.5" y1="252.68" x2="397.5" y2="252.68" stroke="#222" stroke-width="0.9"/>
<line x1="395.5" y1="250.66" x2="397.5" y2="250.66" stroke="#222" stroke-width="0.9"/>
<line x1="395.5" y1="248.95" x2="397.5" y2="248.95" stroke="#222" stroke-width="0.9"/>
<line x1="395.5" y1="247.47" x2="397.5" y2="247.47" stroke="#222" stroke-width="0.9"/>
<line x1="395.5" y1="246.17" x2="397.5" y2="246.17" stroke="#222" stroke-width="0.9"/>
<line x1="394.3" y1="245.0" x2="397.5" y2="245.0" stroke="#222" stroke-width="0.9"/>
<line x1="395.5" y1="237.32" x2="397.5" y2="237.32" stroke="#222" stroke-width="0.9"/>
<line x1="395.5" y1="232.83" x2="397.5" y2="232.83" stroke="#222" stroke-width="0.9"/>
<line x1="395.5" y1="229.65" x2="397.5" y2="229.65" stroke="#222" stroke-width="0.9"/>
<line x1="395.5" y1="227.18" x2="397.5" y2="227.18" stroke="#222" stroke-width="0.9"/>
<line x1="395.5" y1="225.16" x2="397.5" y2="225.16" stroke="#222" stroke-width="0.9"/>
<line x1="395.5" y1="223.45" x2="397.5" y2="223.45" stroke="#222" stroke-width="0.9"/>
<line x1="395.5" y1="221.97" x2="397.5" y2="221.97" stroke="#222" stroke-width="0.9"/>
<line x1="395.5" y1="220.67" x2="397.5" y2="220.67" stroke="#222" stroke-width="0.9"/>
<line x1="397.5" y1="321.5" x2="397.5" y2="324.3" stroke="#222" stroke-width="0.9"/>
<line x1="406.46" y1="321.5" x2="406.46" y2="323.5" stroke="#222" stroke-width="0.9"/>
<line x1="411.69" y1="321.5" x2="411.69" y2="323.5" stroke="#222" stroke-width="0.9"/>
<line x1="415.41" y1="321.5" x2="415.41" y2="323.5" stroke="#222" stroke-width="0.9"/>
<line x1="418.29" y1="321.5" x2="418.29" y2="323.5" stroke="#222" stroke-width="0.9"/>
<line x1="420.65" y1="321.5" x2="420.65" y2="323.5" stroke="#222" stroke-width="0.9"/>
<line x1="422.64" y1="321.5" x2="422.64" y2="323.5" stroke="#222" stroke-width="0.9"/>
<line x1="424.37" y1="321.5" x2="424.37" y2="323.5" stroke="#222" stroke-width="0.9"/>
<line x1="425.89" y1="321.5" x2="425.89" y2="323.5" stroke="#222" stroke-width="0.9"/>
<line x1="427.25" y1="321.5" x2="427.25" y2="324.3" stroke="#222" stroke-width="0.9"/>
<line x1="436.21" y1="321.5" x2="436.21" y2="323.5" stroke="#222" stroke-width="0.9"/>
<line x1="441.44" y1="321.5" x2="441.44" y2="323.5" stroke="#222" stroke-width="0.9"/>
<line x1="445.16" y1="321.5" x2="445.16" y2="323.5" stroke="#222" stroke-width="0.9"/>
<line x1="448.04" y1="321.5" x2="448.04" y2="323.5" stroke="#222" stroke-width="0.9"/>
<line x1="450.4" y1="321.5" x2="450.4" y2="323.5" stroke="#222" stroke-width="0.9"/>
<line x1="452.39" y1="321.5" x2="452.39" y2="323.5" stroke="#222" stroke-width="0.9"/>
<line x1="454.12" y1="321.5" x2="454.12" y2="323.5" stroke="#222" stroke-width="0.9"/>
<line x1="455.64" y1="321.5" x2="455.64" y2="323.5" stroke="#222" stroke-width="0.9"/>
<line x1="457.0" y1="321.5" x2="457.0" y2="324.3" stroke="#222" stroke-width="0.9"/>
<line x1="465.96" y1="321.5" x2="465.96" y2="323.5" stroke="#222" stroke-width="0.9"/>
<line x1="471.19" y1="321.5" x2="471.19" y2="323.5" stroke="#222" stroke-width="0.9"/>
<line x1="474.91" y1="321.5" x2="474.91" y2="323.5" stroke="#222" stroke-width="0.9"/>
<line x1="477.79" y1="321.5" x2="477.79" y2="323.5" stroke="#222" stroke-width="0.9"/>
<line x1="480.15" y1="321.5" x2="480.15" y2="323.5" stroke="#222" stroke-width="0.9"/>
<line x1="482.14" y1="321.5" x2="482.14" y2="323.5" stroke="#222" stroke-width="0.9"/>
<line x1="483.87" y1="321.5" x2="483.87" y2="323.5" stroke="#222" stroke-width="0.9"/>
<line x1="485.39" y1="321.5" x2="485.39" y2="323.5" stroke="#222" stroke-width="0.9"/>
<line x1="486.75" y1="321.5" x2="486.75" y2="324.3" stroke="#222" stroke-width="0.9"/>
<line x1="495.71" y1="321.5" x2="495.71" y2="323.5" stroke="#222" stroke-width="0.9"/>
<line x1="500.94" y1="321.5" x2="500.94" y2="323.5" stroke="#222" stroke-width="0.9"/>
<line x1="504.66" y1="321.5" x2="504.66" y2="323.5" stroke="#222" stroke-width="0.9"/>
<line x1="507.54" y1="321.5" x2="507.54" y2="323.5" stroke="#222" stroke-width="0.9"/>
<line x1="509.9" y1="321.5" x2="509.9" y2="323.5" stroke="#222" stroke-width="0.9"/>
<line x1="511.89" y1="321.5" x2="511.89" y2="323.5" stroke="#222" stroke-width="0.9"/>
<line x1="513.62" y1="321.5" x2="513.62" y2="323.5" stroke="#222" stroke-width="0.9"/>
<line x1="515.14" y1="321.5" x2="515.14" y2="323.5" stroke="#222" stroke-width="0.9"/>
<rect x="397.5" y="219.5" width="119.0" height="102.0" fill="none" stroke="#1a1a1a" stroke-width="1.1"/>
<line x1="397.5" y1="286.5" x2="516.5" y2="286.5" stroke="#1a1a1a" stroke-width="1.0"/>
<line x1="460.5" y1="219.5" x2="460.5" y2="321.5" stroke="#1a1a1a" stroke-width="1.0"/>
<text x="436.5" y="213.8" font-family="Liberation Serif" font-size="14" font-weight="bold" text-anchor="start" fill="#000" textLength="60.6" lengthAdjust="spacingAndGlyphs" stroke="#000" stroke-width="0.25" >With IL-3</text>
<text x="492.5" y="230.8" font-family="Liberation Serif" font-size="12" font-weight="bold" text-anchor="start" fill="#000" textLength="22.3" lengthAdjust="spacingAndGlyphs" stroke="#000" stroke-width="0.25" >11%</text>
<defs><filter id="bl" x="-50%" y="-50%" width="200%" height="200%"><feGaussianBlur stdDeviation="2.2"/></filter></defs>
<clipPath id="cp0"><rect x="26.1" y="221.1" width="112.8" height="99.8"/></clipPath>
<clipPath id="cp1"><rect x="149.1" y="221.1" width="115.8" height="99.8"/></clipPath>
<clipPath id="cp2"><rect x="275.1" y="221.1" width="115.8" height="99.8"/></clipPath>
<clipPath id="cp3"><rect x="398.1" y="220.1" width="117.8" height="100.8"/></clipPath>
<g clip-path="url(#cp0)"><ellipse cx="103.5" cy="241" rx="6" ry="9" fill="#555" fill-opacity="0.35" filter="url(#bl)"/></g>
<g clip-path="url(#cp0)"><ellipse cx="102.5" cy="307" rx="4.5" ry="13" fill="#555" fill-opacity="0.45" filter="url(#bl)"/></g>
<path d="M102.3 244.3h1.1v1.1h-1.1zM102.5 239.0h1.1v1.1h-1.1zM99.3 239.6h1.1v1.1h-1.1zM108.5 243.8h1.1v1.1h-1.1zM108.2 242.6h1.1v1.1h-1.1zM105.3 242.2h1.1v1.1h-1.1zM96.0 246.6h1.1v1.1h-1.1zM105.8 244.2h1.1v1.1h-1.1zM95.9 229.7h1.1v1.1h-1.1zM99.5 238.0h1.1v1.1h-1.1zM104.9 240.7h1.1v1.1h-1.1zM105.8 236.8h1.1v1.1h-1.1zM104.9 243.6h1.1v1.1h-1.1zM100.5 252.2h1.1v1.1h-1.1zM106.0 248.8h1.1v1.1h-1.1zM100.7 236.2h1.1v1.1h-1.1zM102.0 240.3h1.1v1.1h-1.1zM106.3 242.6h1.1v1.1h-1.1zM101.5 234.8h1.1v1.1h-1.1zM101.2 248.9h1.1v1.1h-1.1zM99.9 242.6h1.1v1.1h-1.1zM105.4 231.3h1.1v1.1h-1.1zM103.7 249.5h1.1v1.1h-1.1zM94.4 238.9h1.1v1.1h-1.1zM103.0 235.7h1.1v1.1h-1.1zM105.7 240.6h1.1v1.1h-1.1zM96.9 246.4h1.1v1.1h-1.1zM106.5 247.1h1.1v1.1h-1.1zM110.0 243.4h1.1v1.1h-1.1zM104.0 232.6h1.1v1.1h-1.1zM106.3 237.0h1.1v1.1h-1.1zM101.5 232.8h1.1v1.1h-1.1zM99.1 237.5h1.1v1.1h-1.1zM109.3 227.8h1.1v1.1h-1.1zM96.9 242.6h1.1v1.1h-1.1zM110.0 244.8h1.1v1.1h-1.1zM95.0 224.6h1.1v1.1h-1.1zM105.1 236.2h1.1v1.1h-1.1zM98.5 247.4h1.1v1.1h-1.1zM108.5 242.0h1.1v1.1h-1.1zM104.6 243.8h1.1v1.1h-1.1zM110.7 245.0h1.1v1.1h-1.1zM105.8 244.6h1.1v1.1h-1.1zM96.4 249.3h1.1v1.1h-1.1zM107.8 244.4h1.1v1.1h-1.1zM94.6 236.9h1.1v1.1h-1.1zM107.3 229.2h1.1v1.1h-1.1zM102.7 247.6h1.1v1.1h-1.1zM97.6 251.5h1.1v1.1h-1.1zM106.0 240.0h1.1v1.1h-1.1zM105.0 245.2h1.1v1.1h-1.1zM104.0 248.4h1.1v1.1h-1.1zM100.5 238.3h1.1v1.1h-1.1zM108.2 241.2h1.1v1.1h-1.1zM99.5 247.2h1.1v1.1h-1.1zM110.1 238.1h1.1v1.1h-1.1zM97.3 240.1h1.1v1.1h-1.1zM102.8 239.1h1.1v1.1h-1.1zM109.8 234.3h1.1v1.1h-1.1zM109.2 232.8h1.1v1.1h-1.1zM100.0 245.1h1.1v1.1h-1.1zM108.6 246.6h1.1v1.1h-1.1zM105.1 241.9h1.1v1.1h-1.1zM104.2 244.7h1.1v1.1h-1.1zM102.7 242.8h1.1v1.1h-1.1zM106.1 241.0h1.1v1.1h-1.1zM106.9 244.7h1.1v1.1h-1.1zM112.5 243.1h1.1v1.1h-1.1zM101.6 238.6h1.1v1.1h-1.1zM103.4 247.0h1.1v1.1h-1.1zM102.0 243.5h1.1v1.1h-1.1zM111.8 224.3h1.1v1.1h-1.1zM98.4 242.6h1.1v1.1h-1.1zM105.3 242.6h1.1v1.1h-1.1zM101.6 245.3h1.1v1.1h-1.1zM104.8 237.6h1.1v1.1h-1.1zM114.4 243.3h1.1v1.1h-1.1zM101.0 240.4h1.1v1.1h-1.1zM102.5 240.6h1.1v1.1h-1.1zM91.2 237.8h1.1v1.1h-1.1zM108.0 233.4h1.1v1.1h-1.1zM103.2 247.2h1.1v1.1h-1.1zM107.4 250.7h1.1v1.1h-1.1zM95.8 238.7h1.1v1.1h-1.1zM102.0 245.1h1.1v1.1h-1.1zM108.4 223.6h1.1v1.1h-1.1zM108.4 231.6h1.1v1.1h-1.1zM106.6 231.3h1.1v1.1h-1.1zM104.3 248.8h1.1v1.1h-1.1zM102.8 242.2h1.1v1.1h-1.1zM107.1 241.9h1.1v1.1h-1.1zM103.1 251.0h1.1v1.1h-1.1zM108.2 239.1h1.1v1.1h-1.1zM115.9 233.5h1.1v1.1h-1.1zM107.6 239.3h1.1v1.1h-1.1zM104.1 245.6h1.1v1.1h-1.1zM104.5 245.2h1.1v1.1h-1.1zM96.6 231.2h1.1v1.1h-1.1zM106.3 234.7h1.1v1.1h-1.1zM98.9 231.4h1.1v1.1h-1.1zM109.2 245.9h1.1v1.1h-1.1zM110.1 234.9h1.1v1.1h-1.1zM103.5 233.6h1.1v1.1h-1.1zM106.9 251.3h1.1v1.1h-1.1zM99.5 251.1h1.1v1.1h-1.1zM107.9 239.8h1.1v1.1h-1.1zM94.6 250.1h1.1v1.1h-1.1zM103.1 237.1h1.1v1.1h-1.1zM105.3 243.7h1.1v1.1h-1.1zM110.2 234.4h1.1v1.1h-1.1zM108.6 250.7h1.1v1.1h-1.1zM110.0 239.8h1.1v1.1h-1.1zM100.2 247.6h1.1v1.1h-1.1zM104.0 241.8h1.1v1.1h-1.1zM109.9 239.3h1.1v1.1h-1.1zM93.2 238.5h1.1v1.1h-1.1zM95.2 246.3h1.1v1.1h-1.1zM104.9 237.0h1.1v1.1h-1.1zM103.5 246.4h1.1v1.1h-1.1zM103.9 249.6h1.1v1.1h-1.1zM103.2 247.8h1.1v1.1h-1.1zM110.2 251.5h1.1v1.1h-1.1zM100.5 246.7h1.1v1.1h-1.1zM95.1 234.0h1.1v1.1h-1.1zM94.7 247.9h1.1v1.1h-1.1zM98.0 240.9h1.1v1.1h-1.1zM102.6 240.8h1.1v1.1h-1.1zM100.8 242.5h1.1v1.1h-1.1zM111.6 241.3h1.1v1.1h-1.1zM105.9 247.5h1.1v1.1h-1.1zM102.6 232.8h1.1v1.1h-1.1zM101.0 248.0h1.1v1.1h-1.1zM96.1 237.1h1.1v1.1h-1.1zM108.0 246.2h1.1v1.1h-1.1zM103.5 246.2h1.1v1.1h-1.1zM104.2 233.3h1.1v1.1h-1.1zM96.5 236.8h1.1v1.1h-1.1zM107.7 237.3h1.1v1.1h-1.1zM99.4 236.0h1.1v1.1h-1.1zM96.6 240.2h1.1v1.1h-1.1zM98.2 243.4h1.1v1.1h-1.1zM92.9 243.1h1.1v1.1h-1.1zM100.6 228.4h1.1v1.1h-1.1zM106.8 239.2h1.1v1.1h-1.1zM93.5 235.3h1.1v1.1h-1.1zM104.8 238.0h1.1v1.1h-1.1zM107.0 245.9h1.1v1.1h-1.1zM106.5 243.1h1.1v1.1h-1.1zM109.5 245.3h1.1v1.1h-1.1zM105.5 227.5h1.1v1.1h-1.1zM107.5 249.5h1.1v1.1h-1.1zM102.2 237.9h1.1v1.1h-1.1zM112.2 229.6h1.1v1.1h-1.1zM105.6 256.8h1.1v1.1h-1.1zM99.3 245.5h1.1v1.1h-1.1zM112.0 240.2h1.1v1.1h-1.1zM106.0 246.9h1.1v1.1h-1.1zM99.4 240.4h1.1v1.1h-1.1zM104.8 246.4h1.1v1.1h-1.1zM103.3 239.7h1.1v1.1h-1.1zM98.9 238.7h1.1v1.1h-1.1zM107.5 241.7h1.1v1.1h-1.1zM99.7 235.5h1.1v1.1h-1.1zM115.5 248.4h1.1v1.1h-1.1zM106.4 224.1h1.1v1.1h-1.1zM106.3 244.1h1.1v1.1h-1.1zM111.1 243.8h1.1v1.1h-1.1zM103.2 244.4h1.1v1.1h-1.1zM94.8 247.7h1.1v1.1h-1.1zM105.0 236.4h1.1v1.1h-1.1zM109.5 252.8h1.1v1.1h-1.1zM97.2 236.7h1.1v1.1h-1.1zM104.8 242.2h1.1v1.1h-1.1zM101.7 234.7h1.1v1.1h-1.1zM113.0 247.7h1.1v1.1h-1.1zM98.1 232.3h1.1v1.1h-1.1zM111.2 247.4h1.1v1.1h-1.1zM111.7 246.3h1.1v1.1h-1.1zM99.6 242.7h1.1v1.1h-1.1zM93.8 236.1h1.1v1.1h-1.1zM103.2 244.4h1.1v1.1h-1.1zM100.2 240.2h1.1v1.1h-1.1zM105.6 243.4h1.1v1.1h-1.1zM106.4 242.4h1.1v1.1h-1.1zM102.0 246.1h1.1v1.1h-1.1zM103.7 235.6h1.1v1.1h-1.1zM100.7 241.0h1.1v1.1h-1.1zM103.0 242.0h1.1v1.1h-1.1zM103.5 242.1h1.1v1.1h-1.1zM102.9 232.8h1.1v1.1h-1.1zM105.4 247.8h1.1v1.1h-1.1zM105.5 239.8h1.1v1.1h-1.1zM105.5 234.7h1.1v1.1h-1.1zM95.0 241.4h1.1v1.1h-1.1zM99.3 245.8h1.1v1.1h-1.1zM98.6 223.9h1.1v1.1h-1.1zM98.8 251.3h1.1v1.1h-1.1zM101.8 232.1h1.1v1.1h-1.1zM100.1 244.4h1.1v1.1h-1.1zM105.7 242.1h1.1v1.1h-1.1zM110.2 245.6h1.1v1.1h-1.1zM103.4 244.9h1.1v1.1h-1.1zM110.9 247.3h1.1v1.1h-1.1zM108.1 234.0h1.1v1.1h-1.1zM102.8 245.7h1.1v1.1h-1.1zM102.2 247.9h1.1v1.1h-1.1zM106.2 246.9h1.1v1.1h-1.1zM102.5 257.6h1.1v1.1h-1.1zM109.1 239.6h1.1v1.1h-1.1zM103.9 257.9h1.1v1.1h-1.1zM102.0 246.7h1.1v1.1h-1.1zM107.9 241.0h1.1v1.1h-1.1zM98.2 242.2h1.1v1.1h-1.1zM105.1 248.3h1.1v1.1h-1.1zM107.0 241.2h1.1v1.1h-1.1zM107.3 244.5h1.1v1.1h-1.1zM104.4 241.4h1.1v1.1h-1.1zM102.4 245.5h1.1v1.1h-1.1zM98.8 236.9h1.1v1.1h-1.1zM103.5 231.5h1.1v1.1h-1.1zM101.5 227.9h1.1v1.1h-1.1zM100.4 244.7h1.1v1.1h-1.1zM106.0 240.6h1.1v1.1h-1.1zM102.5 231.8h1.1v1.1h-1.1zM111.7 244.4h1.1v1.1h-1.1zM108.4 235.3h1.1v1.1h-1.1zM102.7 229.2h1.1v1.1h-1.1zM107.0 247.1h1.1v1.1h-1.1zM95.0 240.7h1.1v1.1h-1.1zM106.3 229.5h1.1v1.1h-1.1zM95.3 234.1h1.1v1.1h-1.1zM100.7 231.9h1.1v1.1h-1.1zM103.6 242.6h1.1v1.1h-1.1zM106.4 245.6h1.1v1.1h-1.1zM110.3 248.6h1.1v1.1h-1.1zM97.6 237.7h1.1v1.1h-1.1zM98.7 234.0h1.1v1.1h-1.1zM103.1 241.0h1.1v1.1h-1.1zM105.7 230.7h1.1v1.1h-1.1zM97.9 240.8h1.1v1.1h-1.1zM102.6 239.0h1.1v1.1h-1.1zM103.2 236.1h1.1v1.1h-1.1zM106.7 243.3h1.1v1.1h-1.1zM103.1 236.6h1.1v1.1h-1.1zM102.7 223.3h1.1v1.1h-1.1zM99.1 241.2h1.1v1.1h-1.1zM96.7 242.3h1.1v1.1h-1.1zM104.2 232.0h1.1v1.1h-1.1zM102.4 239.0h1.1v1.1h-1.1zM105.6 245.0h1.1v1.1h-1.1zM103.3 235.5h1.1v1.1h-1.1zM102.9 240.6h1.1v1.1h-1.1zM106.8 242.9h1.1v1.1h-1.1zM100.2 232.2h1.1v1.1h-1.1zM101.8 236.2h1.1v1.1h-1.1zM98.5 240.2h1.1v1.1h-1.1zM101.3 241.7h1.1v1.1h-1.1zM105.9 238.3h1.1v1.1h-1.1zM114.0 238.9h1.1v1.1h-1.1zM108.5 241.8h1.1v1.1h-1.1zM108.5 225.6h1.1v1.1h-1.1zM100.1 242.6h1.1v1.1h-1.1zM106.2 256.2h1.1v1.1h-1.1zM105.0 249.3h1.1v1.1h-1.1zM106.9 247.2h1.1v1.1h-1.1zM105.8 240.0h1.1v1.1h-1.1zM105.8 234.0h1.1v1.1h-1.1zM108.8 234.4h1.1v1.1h-1.1zM104.6 254.8h1.1v1.1h-1.1zM102.5 241.1h1.1v1.1h-1.1zM108.7 241.2h1.1v1.1h-1.1zM99.9 242.7h1.1v1.1h-1.1zM106.1 245.6h1.1v1.1h-1.1zM100.0 252.4h1.1v1.1h-1.1zM111.0 241.1h1.1v1.1h-1.1zM104.7 238.2h1.1v1.1h-1.1zM109.9 236.4h1.1v1.1h-1.1zM106.5 237.9h1.1v1.1h-1.1zM100.4 245.7h1.1v1.1h-1.1zM109.5 240.9h1.1v1.1h-1.1zM100.5 246.3h1.1v1.1h-1.1zM103.3 243.0h1.1v1.1h-1.1zM110.4 248.4h1.1v1.1h-1.1zM101.2 255.8h1.1v1.1h-1.1zM103.5 246.1h1.1v1.1h-1.1zM100.6 240.7h1.1v1.1h-1.1zM95.6 252.6h1.1v1.1h-1.1zM109.6 233.1h1.1v1.1h-1.1zM96.7 230.5h1.1v1.1h-1.1zM108.8 238.0h1.1v1.1h-1.1zM103.2 239.0h1.1v1.1h-1.1zM103.0 233.9h1.1v1.1h-1.1zM103.6 231.7h1.1v1.1h-1.1zM103.2 243.0h1.1v1.1h-1.1zM105.6 239.5h1.1v1.1h-1.1zM99.4 242.0h1.1v1.1h-1.1zM101.3 251.2h1.1v1.1h-1.1zM107.0 240.3h1.1v1.1h-1.1zM101.4 236.4h1.1v1.1h-1.1zM99.3 238.7h1.1v1.1h-1.1zM113.8 250.1h1.1v1.1h-1.1zM115.4 262.8h1.1v1.1h-1.1zM107.8 246.1h1.1v1.1h-1.1zM128.8 231.1h1.1v1.1h-1.1zM108.9 247.4h1.1v1.1h-1.1zM112.9 249.3h1.1v1.1h-1.1zM110.6 248.9h1.1v1.1h-1.1zM112.3 252.2h1.1v1.1h-1.1zM100.6 238.9h1.1v1.1h-1.1zM112.0 237.7h1.1v1.1h-1.1zM105.7 251.0h1.1v1.1h-1.1zM108.1 251.1h1.1v1.1h-1.1zM116.5 248.5h1.1v1.1h-1.1zM115.0 245.2h1.1v1.1h-1.1zM103.5 245.8h1.1v1.1h-1.1zM114.7 241.8h1.1v1.1h-1.1zM111.4 252.0h1.1v1.1h-1.1zM106.7 251.1h1.1v1.1h-1.1zM123.2 241.6h1.1v1.1h-1.1zM112.9 244.8h1.1v1.1h-1.1zM121.2 248.5h1.1v1.1h-1.1zM117.4 240.5h1.1v1.1h-1.1zM111.9 245.9h1.1v1.1h-1.1zM101.3 257.5h1.1v1.1h-1.1zM117.4 232.0h1.1v1.1h-1.1zM116.5 245.0h1.1v1.1h-1.1zM114.7 248.9h1.1v1.1h-1.1zM103.0 244.3h1.1v1.1h-1.1zM121.0 241.4h1.1v1.1h-1.1zM105.9 235.1h1.1v1.1h-1.1zM104.7 248.7h1.1v1.1h-1.1zM122.2 249.4h1.1v1.1h-1.1zM113.5 263.9h1.1v1.1h-1.1zM108.9 240.6h1.1v1.1h-1.1zM115.2 250.4h1.1v1.1h-1.1zM105.9 236.6h1.1v1.1h-1.1zM113.7 248.0h1.1v1.1h-1.1zM104.2 244.4h1.1v1.1h-1.1zM108.7 249.7h1.1v1.1h-1.1zM111.3 245.3h1.1v1.1h-1.1zM109.9 254.4h1.1v1.1h-1.1zM120.3 243.1h1.1v1.1h-1.1zM117.1 239.9h1.1v1.1h-1.1zM112.4 252.0h1.1v1.1h-1.1zM121.1 242.9h1.1v1.1h-1.1zM111.6 247.6h1.1v1.1h-1.1zM103.0 246.1h1.1v1.1h-1.1zM107.9 249.0h1.1v1.1h-1.1zM105.2 230.2h1.1v1.1h-1.1zM112.2 248.1h1.1v1.1h-1.1zM108.7 253.1h1.1v1.1h-1.1zM110.4 241.2h1.1v1.1h-1.1zM114.9 233.5h1.1v1.1h-1.1zM107.9 245.8h1.1v1.1h-1.1zM117.1 244.7h1.1v1.1h-1.1zM113.9 240.8h1.1v1.1h-1.1zM113.8 259.3h1.1v1.1h-1.1zM107.9 264.9h1.1v1.1h-1.1zM108.1 246.1h1.1v1.1h-1.1zM113.0 254.2h1.1v1.1h-1.1zM104.6 229.2h1.1v1.1h-1.1zM115.6 252.4h1.1v1.1h-1.1zM115.7 267.0h1.1v1.1h-1.1zM113.2 248.0h1.1v1.1h-1.1zM117.6 249.0h1.1v1.1h-1.1zM122.0 236.1h1.1v1.1h-1.1zM116.9 243.0h1.1v1.1h-1.1zM117.5 263.2h1.1v1.1h-1.1zM112.0 244.0h1.1v1.1h-1.1zM109.0 239.3h1.1v1.1h-1.1zM108.2 251.1h1.1v1.1h-1.1zM112.2 246.5h1.1v1.1h-1.1zM111.0 253.3h1.1v1.1h-1.1zM115.0 244.9h1.1v1.1h-1.1zM116.0 244.8h1.1v1.1h-1.1zM105.1 257.6h1.1v1.1h-1.1zM114.8 238.3h1.1v1.1h-1.1zM118.5 248.8h1.1v1.1h-1.1zM102.6 258.9h1.1v1.1h-1.1zM114.0 253.1h1.1v1.1h-1.1zM113.2 244.8h1.1v1.1h-1.1zM102.7 253.8h1.1v1.1h-1.1zM112.2 243.7h1.1v1.1h-1.1zM114.1 246.6h1.1v1.1h-1.1zM116.1 243.0h1.1v1.1h-1.1zM111.8 228.9h1.1v1.1h-1.1zM109.5 251.4h1.1v1.1h-1.1zM120.0 243.1h1.1v1.1h-1.1zM111.3 258.7h1.1v1.1h-1.1zM110.0 251.9h1.1v1.1h-1.1zM96.3 252.2h1.1v1.1h-1.1zM102.8 265.7h1.1v1.1h-1.1zM104.2 252.0h1.1v1.1h-1.1zM104.5 270.9h1.1v1.1h-1.1zM103.3 256.4h1.1v1.1h-1.1zM98.4 256.9h1.1v1.1h-1.1zM98.9 269.7h1.1v1.1h-1.1zM105.6 258.1h1.1v1.1h-1.1zM103.9 269.6h1.1v1.1h-1.1zM104.1 267.8h1.1v1.1h-1.1zM102.1 251.0h1.1v1.1h-1.1zM97.0 277.0h1.1v1.1h-1.1zM103.7 258.3h1.1v1.1h-1.1zM99.8 261.9h1.1v1.1h-1.1zM105.1 254.5h1.1v1.1h-1.1zM97.2 266.1h1.1v1.1h-1.1zM107.0 268.7h1.1v1.1h-1.1zM101.8 256.4h1.1v1.1h-1.1zM105.1 268.0h1.1v1.1h-1.1zM108.1 259.5h1.1v1.1h-1.1zM105.7 263.2h1.1v1.1h-1.1zM102.9 271.4h1.1v1.1h-1.1zM95.4 265.5h1.1v1.1h-1.1zM103.9 250.5h1.1v1.1h-1.1zM102.6 270.1h1.1v1.1h-1.1zM104.3 259.1h1.1v1.1h-1.1zM99.5 268.4h1.1v1.1h-1.1zM100.6 261.3h1.1v1.1h-1.1zM95.9 258.3h1.1v1.1h-1.1zM100.6 251.9h1.1v1.1h-1.1zM104.2 255.8h1.1v1.1h-1.1zM107.1 256.2h1.1v1.1h-1.1zM103.4 265.8h1.1v1.1h-1.1zM101.3 258.3h1.1v1.1h-1.1zM108.1 259.6h1.1v1.1h-1.1zM103.5 264.4h1.1v1.1h-1.1zM101.7 257.6h1.1v1.1h-1.1zM107.0 255.5h1.1v1.1h-1.1zM105.5 260.2h1.1v1.1h-1.1zM106.6 271.0h1.1v1.1h-1.1zM106.0 256.0h1.1v1.1h-1.1zM104.5 272.1h1.1v1.1h-1.1zM103.3 267.4h1.1v1.1h-1.1zM105.6 267.6h1.1v1.1h-1.1zM100.8 262.2h1.1v1.1h-1.1zM103.4 257.9h1.1v1.1h-1.1zM102.3 266.2h1.1v1.1h-1.1zM105.6 263.4h1.1v1.1h-1.1zM106.6 254.6h1.1v1.1h-1.1zM105.2 273.2h1.1v1.1h-1.1zM102.6 270.2h1.1v1.1h-1.1zM100.1 259.8h1.1v1.1h-1.1zM105.3 266.4h1.1v1.1h-1.1zM100.6 262.4h1.1v1.1h-1.1zM107.5 271.2h1.1v1.1h-1.1zM106.3 253.5h1.1v1.1h-1.1zM104.9 270.0h1.1v1.1h-1.1zM102.7 258.4h1.1v1.1h-1.1zM107.8 254.6h1.1v1.1h-1.1zM104.0 273.3h1.1v1.1h-1.1zM104.4 271.6h1.1v1.1h-1.1zM100.8 252.4h1.1v1.1h-1.1zM105.9 264.4h1.1v1.1h-1.1zM105.0 261.6h1.1v1.1h-1.1zM103.2 261.0h1.1v1.1h-1.1zM103.1 263.5h1.1v1.1h-1.1zM99.7 268.4h1.1v1.1h-1.1zM103.2 254.8h1.1v1.1h-1.1zM103.6 253.9h1.1v1.1h-1.1zM102.9 260.7h1.1v1.1h-1.1zM105.4 268.2h1.1v1.1h-1.1zM102.9 267.7h1.1v1.1h-1.1zM108.1 259.0h1.1v1.1h-1.1zM95.2 259.0h1.1v1.1h-1.1zM101.2 267.9h1.1v1.1h-1.1zM103.4 267.6h1.1v1.1h-1.1zM107.6 273.0h1.1v1.1h-1.1zM104.1 273.2h1.1v1.1h-1.1zM108.4 270.2h1.1v1.1h-1.1zM101.5 258.2h1.1v1.1h-1.1zM102.0 263.7h1.1v1.1h-1.1zM102.9 255.8h1.1v1.1h-1.1zM104.6 253.3h1.1v1.1h-1.1zM97.2 269.8h1.1v1.1h-1.1zM101.6 255.8h1.1v1.1h-1.1zM100.9 261.9h1.1v1.1h-1.1zM101.7 267.9h1.1v1.1h-1.1zM108.8 275.5h1.1v1.1h-1.1zM106.3 262.4h1.1v1.1h-1.1zM102.8 260.2h1.1v1.1h-1.1zM99.8 259.8h1.1v1.1h-1.1zM102.1 255.7h1.1v1.1h-1.1zM107.3 269.2h1.1v1.1h-1.1zM100.7 270.1h1.1v1.1h-1.1zM103.0 259.1h1.1v1.1h-1.1zM100.9 253.5h1.1v1.1h-1.1zM102.0 263.6h1.1v1.1h-1.1zM102.5 256.5h1.1v1.1h-1.1zM104.1 251.5h1.1v1.1h-1.1zM106.9 259.9h1.1v1.1h-1.1zM99.6 278.8h1.1v1.1h-1.1zM98.2 276.2h1.1v1.1h-1.1zM112.3 291.6h1.1v1.1h-1.1zM103.1 284.4h1.1v1.1h-1.1zM110.1 285.8h1.1v1.1h-1.1zM110.2 273.4h1.1v1.1h-1.1zM99.2 283.7h1.1v1.1h-1.1zM111.6 281.6h1.1v1.1h-1.1zM97.8 278.9h1.1v1.1h-1.1zM99.0 275.9h1.1v1.1h-1.1zM112.0 277.2h1.1v1.1h-1.1zM103.1 294.0h1.1v1.1h-1.1zM110.1 283.0h1.1v1.1h-1.1zM99.3 283.5h1.1v1.1h-1.1zM112.7 284.7h1.1v1.1h-1.1zM110.6 281.6h1.1v1.1h-1.1zM106.1 279.8h1.1v1.1h-1.1zM105.6 288.8h1.1v1.1h-1.1zM94.4 280.6h1.1v1.1h-1.1zM104.4 277.6h1.1v1.1h-1.1zM101.2 285.7h1.1v1.1h-1.1zM115.0 284.8h1.1v1.1h-1.1zM105.0 271.7h1.1v1.1h-1.1zM114.6 281.5h1.1v1.1h-1.1zM102.8 274.3h1.1v1.1h-1.1zM102.7 274.4h1.1v1.1h-1.1zM103.4 283.8h1.1v1.1h-1.1zM103.2 282.7h1.1v1.1h-1.1zM97.9 289.6h1.1v1.1h-1.1zM99.1 270.1h1.1v1.1h-1.1zM101.9 276.4h1.1v1.1h-1.1zM96.9 278.9h1.1v1.1h-1.1zM104.7 273.9h1.1v1.1h-1.1zM102.2 289.6h1.1v1.1h-1.1zM107.1 280.1h1.1v1.1h-1.1zM103.8 280.3h1.1v1.1h-1.1zM102.7 285.4h1.1v1.1h-1.1zM102.4 266.6h1.1v1.1h-1.1zM102.9 275.7h1.1v1.1h-1.1zM106.9 277.3h1.1v1.1h-1.1zM103.9 294.1h1.1v1.1h-1.1zM96.7 274.3h1.1v1.1h-1.1zM94.5 266.6h1.1v1.1h-1.1zM91.7 283.2h1.1v1.1h-1.1zM99.2 269.8h1.1v1.1h-1.1zM94.1 284.7h1.1v1.1h-1.1zM98.3 278.8h1.1v1.1h-1.1zM105.0 289.1h1.1v1.1h-1.1zM114.6 287.2h1.1v1.1h-1.1zM103.9 282.1h1.1v1.1h-1.1zM113.8 289.6h1.1v1.1h-1.1zM101.1 283.7h1.1v1.1h-1.1zM104.7 281.3h1.1v1.1h-1.1zM100.0 273.0h1.1v1.1h-1.1zM99.8 271.7h1.1v1.1h-1.1zM110.3 284.2h1.1v1.1h-1.1zM95.8 289.4h1.1v1.1h-1.1zM108.4 269.5h1.1v1.1h-1.1zM114.0 285.9h1.1v1.1h-1.1zM115.4 273.6h1.1v1.1h-1.1zM106.2 283.5h1.1v1.1h-1.1zM104.2 282.0h1.1v1.1h-1.1zM109.3 272.0h1.1v1.1h-1.1zM95.5 272.6h1.1v1.1h-1.1zM99.7 277.4h1.1v1.1h-1.1zM105.2 282.6h1.1v1.1h-1.1zM103.2 276.9h1.1v1.1h-1.1zM100.3 286.7h1.1v1.1h-1.1zM107.6 281.6h1.1v1.1h-1.1zM101.1 290.3h1.1v1.1h-1.1zM109.3 299.8h1.1v1.1h-1.1zM99.0 307.8h1.1v1.1h-1.1zM104.0 290.1h1.1v1.1h-1.1zM106.1 312.4h1.1v1.1h-1.1zM108.1 308.0h1.1v1.1h-1.1zM100.6 294.2h1.1v1.1h-1.1zM107.2 292.0h1.1v1.1h-1.1zM100.5 306.1h1.1v1.1h-1.1zM106.9 303.7h1.1v1.1h-1.1zM101.5 300.4h1.1v1.1h-1.1zM99.0 296.7h1.1v1.1h-1.1zM101.4 293.8h1.1v1.1h-1.1zM97.3 313.5h1.1v1.1h-1.1zM104.7 308.6h1.1v1.1h-1.1zM101.5 303.5h1.1v1.1h-1.1zM102.6 319.0h1.1v1.1h-1.1zM100.2 300.8h1.1v1.1h-1.1zM100.8 303.5h1.1v1.1h-1.1zM101.3 301.5h1.1v1.1h-1.1zM100.1 312.5h1.1v1.1h-1.1zM107.1 303.0h1.1v1.1h-1.1zM100.5 310.8h1.1v1.1h-1.1zM98.4 304.6h1.1v1.1h-1.1zM103.8 290.7h1.1v1.1h-1.1zM104.7 298.7h1.1v1.1h-1.1zM100.9 312.7h1.1v1.1h-1.1zM105.0 295.7h1.1v1.1h-1.1zM104.6 307.6h1.1v1.1h-1.1zM101.5 299.9h1.1v1.1h-1.1zM102.0 295.0h1.1v1.1h-1.1zM101.8 306.1h1.1v1.1h-1.1zM103.1 311.8h1.1v1.1h-1.1zM103.6 311.2h1.1v1.1h-1.1zM102.9 304.6h1.1v1.1h-1.1zM99.0 313.9h1.1v1.1h-1.1zM102.7 308.9h1.1v1.1h-1.1zM105.1 306.4h1.1v1.1h-1.1zM104.0 315.9h1.1v1.1h-1.1zM103.3 312.2h1.1v1.1h-1.1zM98.8 315.2h1.1v1.1h-1.1zM98.7 313.8h1.1v1.1h-1.1zM103.0 308.6h1.1v1.1h-1.1zM104.1 311.6h1.1v1.1h-1.1zM98.2 313.8h1.1v1.1h-1.1zM103.8 296.5h1.1v1.1h-1.1zM104.7 307.1h1.1v1.1h-1.1zM106.3 320.1h1.1v1.1h-1.1zM104.5 312.6h1.1v1.1h-1.1zM95.3 296.8h1.1v1.1h-1.1zM104.6 308.7h1.1v1.1h-1.1zM98.8 306.7h1.1v1.1h-1.1zM99.1 311.3h1.1v1.1h-1.1zM101.6 304.6h1.1v1.1h-1.1zM105.5 308.9h1.1v1.1h-1.1zM102.0 296.5h1.1v1.1h-1.1zM105.3 292.4h1.1v1.1h-1.1zM103.8 289.6h1.1v1.1h-1.1zM104.2 311.0h1.1v1.1h-1.1zM95.2 297.5h1.1v1.1h-1.1zM107.6 307.5h1.1v1.1h-1.1zM103.8 303.0h1.1v1.1h-1.1zM98.3 315.3h1.1v1.1h-1.1zM101.5 303.8h1.1v1.1h-1.1zM105.7 318.2h1.1v1.1h-1.1zM99.2 316.5h1.1v1.1h-1.1zM101.8 298.8h1.1v1.1h-1.1zM106.9 313.6h1.1v1.1h-1.1zM103.9 297.9h1.1v1.1h-1.1zM102.5 303.8h1.1v1.1h-1.1zM104.5 312.4h1.1v1.1h-1.1zM102.7 298.0h1.1v1.1h-1.1zM99.9 309.1h1.1v1.1h-1.1zM101.5 319.3h1.1v1.1h-1.1zM99.4 318.7h1.1v1.1h-1.1zM98.6 296.6h1.1v1.1h-1.1zM102.8 296.4h1.1v1.1h-1.1zM103.7 310.7h1.1v1.1h-1.1zM107.5 295.6h1.1v1.1h-1.1zM107.6 303.9h1.1v1.1h-1.1zM107.8 316.8h1.1v1.1h-1.1zM97.9 309.8h1.1v1.1h-1.1zM96.7 318.7h1.1v1.1h-1.1zM98.8 296.1h1.1v1.1h-1.1zM104.6 309.4h1.1v1.1h-1.1zM104.5 307.5h1.1v1.1h-1.1zM102.3 294.5h1.1v1.1h-1.1zM105.0 306.4h1.1v1.1h-1.1zM100.8 302.1h1.1v1.1h-1.1zM99.5 292.4h1.1v1.1h-1.1zM97.3 305.9h1.1v1.1h-1.1zM106.0 297.8h1.1v1.1h-1.1zM99.1 291.4h1.1v1.1h-1.1zM99.4 289.5h1.1v1.1h-1.1zM109.7 316.2h1.1v1.1h-1.1zM102.9 302.1h1.1v1.1h-1.1zM98.2 291.5h1.1v1.1h-1.1zM100.1 302.4h1.1v1.1h-1.1zM101.5 301.8h1.1v1.1h-1.1zM103.5 295.4h1.1v1.1h-1.1zM100.1 308.4h1.1v1.1h-1.1zM104.3 313.9h1.1v1.1h-1.1zM102.0 293.7h1.1v1.1h-1.1zM99.7 311.1h1.1v1.1h-1.1zM106.1 299.7h1.1v1.1h-1.1zM101.5 310.2h1.1v1.1h-1.1zM99.8 314.6h1.1v1.1h-1.1zM102.6 292.4h1.1v1.1h-1.1zM100.4 299.1h1.1v1.1h-1.1zM95.9 311.8h1.1v1.1h-1.1zM99.5 307.3h1.1v1.1h-1.1zM99.7 309.4h1.1v1.1h-1.1zM99.4 296.3h1.1v1.1h-1.1zM103.4 314.9h1.1v1.1h-1.1zM95.7 292.8h1.1v1.1h-1.1zM106.4 308.1h1.1v1.1h-1.1zM101.4 313.2h1.1v1.1h-1.1zM103.5 298.5h1.1v1.1h-1.1zM96.9 301.0h1.1v1.1h-1.1zM102.0 292.1h1.1v1.1h-1.1zM98.7 295.5h1.1v1.1h-1.1zM102.5 318.2h1.1v1.1h-1.1zM98.4 298.7h1.1v1.1h-1.1zM102.8 318.4h1.1v1.1h-1.1zM100.7 293.2h1.1v1.1h-1.1zM102.3 295.7h1.1v1.1h-1.1zM107.7 315.3h1.1v1.1h-1.1zM101.1 294.4h1.1v1.1h-1.1zM100.1 291.2h1.1v1.1h-1.1zM103.2 313.3h1.1v1.1h-1.1zM96.6 313.3h1.1v1.1h-1.1zM104.4 315.3h1.1v1.1h-1.1zM104.0 307.8h1.1v1.1h-1.1zM101.2 301.7h1.1v1.1h-1.1zM102.7 294.2h1.1v1.1h-1.1zM103.5 317.0h1.1v1.1h-1.1zM107.4 314.9h1.1v1.1h-1.1zM103.4 307.4h1.1v1.1h-1.1zM104.0 305.5h1.1v1.1h-1.1zM99.6 295.9h1.1v1.1h-1.1zM100.0 308.9h1.1v1.1h-1.1zM95.3 303.7h1.1v1.1h-1.1zM101.3 313.0h1.1v1.1h-1.1zM101.5 295.9h1.1v1.1h-1.1zM105.9 314.5h1.1v1.1h-1.1zM105.0 296.5h1.1v1.1h-1.1zM98.6 301.2h1.1v1.1h-1.1zM100.0 318.5h1.1v1.1h-1.1zM105.4 290.9h1.1v1.1h-1.1zM96.6 310.3h1.1v1.1h-1.1zM97.6 294.1h1.1v1.1h-1.1zM101.3 315.6h1.1v1.1h-1.1zM98.0 317.6h1.1v1.1h-1.1zM103.3 317.9h1.1v1.1h-1.1zM100.4 308.0h1.1v1.1h-1.1zM101.4 314.8h1.1v1.1h-1.1zM99.3 308.2h1.1v1.1h-1.1zM107.3 297.1h1.1v1.1h-1.1zM102.6 313.9h1.1v1.1h-1.1zM100.1 315.4h1.1v1.1h-1.1zM98.5 311.7h1.1v1.1h-1.1zM102.9 304.0h1.1v1.1h-1.1zM104.1 297.1h1.1v1.1h-1.1zM105.2 310.4h1.1v1.1h-1.1zM102.1 301.9h1.1v1.1h-1.1zM102.2 294.3h1.1v1.1h-1.1zM98.4 291.8h1.1v1.1h-1.1zM100.7 294.2h1.1v1.1h-1.1zM102.4 307.1h1.1v1.1h-1.1zM107.5 307.8h1.1v1.1h-1.1zM100.6 307.0h1.1v1.1h-1.1zM101.8 317.1h1.1v1.1h-1.1zM104.1 292.5h1.1v1.1h-1.1zM103.5 295.9h1.1v1.1h-1.1zM104.2 312.4h1.1v1.1h-1.1zM107.5 306.6h1.1v1.1h-1.1zM100.6 296.1h1.1v1.1h-1.1zM99.7 318.7h1.1v1.1h-1.1zM108.9 307.2h1.1v1.1h-1.1zM107.5 296.1h1.1v1.1h-1.1zM101.5 318.5h1.1v1.1h-1.1zM98.1 313.9h1.1v1.1h-1.1zM100.6 316.4h1.1v1.1h-1.1zM99.6 297.1h1.1v1.1h-1.1zM104.4 293.5h1.1v1.1h-1.1zM102.5 293.5h1.1v1.1h-1.1zM105.8 300.0h1.1v1.1h-1.1zM100.4 291.1h1.1v1.1h-1.1zM101.4 293.3h1.1v1.1h-1.1zM102.7 294.3h1.1v1.1h-1.1zM98.8 320.4h1.1v1.1h-1.1zM107.0 302.6h1.1v1.1h-1.1zM101.1 304.6h1.1v1.1h-1.1zM104.0 300.6h1.1v1.1h-1.1zM107.1 310.1h1.1v1.1h-1.1zM103.2 298.0h1.1v1.1h-1.1zM100.0 300.1h1.1v1.1h-1.1zM102.4 294.3h1.1v1.1h-1.1zM99.6 295.1h1.1v1.1h-1.1zM102.6 295.7h1.1v1.1h-1.1zM105.0 299.3h1.1v1.1h-1.1zM108.5 292.9h1.1v1.1h-1.1zM99.8 292.5h1.1v1.1h-1.1zM102.4 301.3h1.1v1.1h-1.1zM102.0 314.7h1.1v1.1h-1.1zM101.2 305.3h1.1v1.1h-1.1zM103.7 309.0h1.1v1.1h-1.1zM100.4 313.8h1.1v1.1h-1.1zM104.4 295.7h1.1v1.1h-1.1zM104.3 305.7h1.1v1.1h-1.1zM97.0 308.4h1.1v1.1h-1.1zM103.4 308.7h1.1v1.1h-1.1zM104.9 310.3h1.1v1.1h-1.1zM99.8 293.3h1.1v1.1h-1.1zM99.7 317.8h1.1v1.1h-1.1zM100.5 293.4h1.1v1.1h-1.1zM104.2 317.0h1.1v1.1h-1.1zM103.6 315.1h1.1v1.1h-1.1zM102.1 302.0h1.1v1.1h-1.1zM103.5 304.3h1.1v1.1h-1.1zM96.9 293.8h1.1v1.1h-1.1zM106.6 315.6h1.1v1.1h-1.1zM101.2 302.4h1.1v1.1h-1.1zM101.3 319.4h1.1v1.1h-1.1zM101.6 304.0h1.1v1.1h-1.1zM101.9 293.0h1.1v1.1h-1.1zM103.7 297.7h1.1v1.1h-1.1zM102.6 316.4h1.1v1.1h-1.1zM102.8 312.1h1.1v1.1h-1.1zM100.6 306.8h1.1v1.1h-1.1zM105.9 315.3h1.1v1.1h-1.1zM102.7 313.5h1.1v1.1h-1.1zM102.3 304.2h1.1v1.1h-1.1zM103.2 293.8h1.1v1.1h-1.1zM101.0 309.5h1.1v1.1h-1.1zM100.5 308.2h1.1v1.1h-1.1zM101.2 317.6h1.1v1.1h-1.1zM99.2 304.9h1.1v1.1h-1.1zM100.4 306.1h1.1v1.1h-1.1zM105.0 301.3h1.1v1.1h-1.1zM101.7 307.7h1.1v1.1h-1.1zM97.0 319.9h1.1v1.1h-1.1zM101.5 287.6h1.1v1.1h-1.1zM105.4 319.0h1.1v1.1h-1.1zM105.1 308.4h1.1v1.1h-1.1zM103.8 290.9h1.1v1.1h-1.1zM108.4 295.0h1.1v1.1h-1.1zM100.7 316.9h1.1v1.1h-1.1zM98.2 318.4h1.1v1.1h-1.1zM100.5 291.0h1.1v1.1h-1.1zM106.0 311.0h1.1v1.1h-1.1zM100.7 317.6h1.1v1.1h-1.1zM105.3 302.1h1.1v1.1h-1.1zM106.4 298.6h1.1v1.1h-1.1zM98.1 290.5h1.1v1.1h-1.1zM105.6 306.2h1.1v1.1h-1.1zM103.5 307.6h1.1v1.1h-1.1zM105.3 294.4h1.1v1.1h-1.1zM103.6 299.7h1.1v1.1h-1.1zM98.8 308.9h1.1v1.1h-1.1zM100.7 307.3h1.1v1.1h-1.1zM103.2 309.9h1.1v1.1h-1.1zM102.8 307.7h1.1v1.1h-1.1zM105.8 298.7h1.1v1.1h-1.1zM102.1 302.2h1.1v1.1h-1.1zM100.6 302.5h1.1v1.1h-1.1zM102.4 306.1h1.1v1.1h-1.1zM107.3 319.7h1.1v1.1h-1.1zM104.8 299.5h1.1v1.1h-1.1zM103.4 306.0h1.1v1.1h-1.1zM100.9 304.1h1.1v1.1h-1.1zM101.1 300.9h1.1v1.1h-1.1zM104.7 294.7h1.1v1.1h-1.1zM98.4 308.4h1.1v1.1h-1.1zM101.8 312.4h1.1v1.1h-1.1zM98.9 313.4h1.1v1.1h-1.1zM95.9 313.4h1.1v1.1h-1.1zM102.1 294.9h1.1v1.1h-1.1zM100.5 312.0h1.1v1.1h-1.1zM100.9 318.0h1.1v1.1h-1.1zM99.4 316.4h1.1v1.1h-1.1zM103.3 300.3h1.1v1.1h-1.1zM105.2 312.2h1.1v1.1h-1.1zM104.1 306.3h1.1v1.1h-1.1zM99.4 316.0h1.1v1.1h-1.1zM104.6 305.0h1.1v1.1h-1.1zM100.5 293.0h1.1v1.1h-1.1zM101.0 295.2h1.1v1.1h-1.1zM95.9 319.0h1.1v1.1h-1.1zM105.2 293.2h1.1v1.1h-1.1zM103.4 293.8h1.1v1.1h-1.1zM99.8 308.9h1.1v1.1h-1.1zM102.3 309.6h1.1v1.1h-1.1zM99.6 305.7h1.1v1.1h-1.1zM100.7 300.2h1.1v1.1h-1.1zM99.0 318.3h1.1v1.1h-1.1zM104.5 292.5h1.1v1.1h-1.1zM99.5 304.2h1.1v1.1h-1.1zM102.6 317.8h1.1v1.1h-1.1zM102.2 311.6h1.1v1.1h-1.1zM100.6 307.4h1.1v1.1h-1.1zM101.5 304.2h1.1v1.1h-1.1zM106.4 309.6h1.1v1.1h-1.1zM94.1 314.3h1.1v1.1h-1.1zM103.1 316.6h1.1v1.1h-1.1zM102.0 297.3h1.1v1.1h-1.1zM106.2 297.8h1.1v1.1h-1.1zM109.9 305.2h1.1v1.1h-1.1zM103.1 312.1h1.1v1.1h-1.1zM106.6 313.6h1.1v1.1h-1.1zM107.7 289.8h1.1v1.1h-1.1zM100.6 307.9h1.1v1.1h-1.1zM101.5 304.5h1.1v1.1h-1.1zM100.3 303.7h1.1v1.1h-1.1zM103.1 307.4h1.1v1.1h-1.1zM100.9 295.8h1.1v1.1h-1.1zM105.5 295.2h1.1v1.1h-1.1zM98.8 312.9h1.1v1.1h-1.1zM102.7 296.3h1.1v1.1h-1.1zM99.6 300.3h1.1v1.1h-1.1zM103.7 296.0h1.1v1.1h-1.1zM100.9 316.5h1.1v1.1h-1.1zM103.0 304.0h1.1v1.1h-1.1zM98.5 313.3h1.1v1.1h-1.1zM100.7 303.1h1.1v1.1h-1.1zM99.8 295.9h1.1v1.1h-1.1zM99.0 303.4h1.1v1.1h-1.1zM97.7 296.1h1.1v1.1h-1.1zM101.6 307.3h1.1v1.1h-1.1zM100.2 302.4h1.1v1.1h-1.1zM99.9 301.9h1.1v1.1h-1.1zM104.2 314.8h1.1v1.1h-1.1zM109.7 303.8h1.1v1.1h-1.1zM101.7 298.8h1.1v1.1h-1.1zM104.3 305.5h1.1v1.1h-1.1zM106.2 295.6h1.1v1.1h-1.1zM104.3 301.6h1.1v1.1h-1.1zM103.1 299.6h1.1v1.1h-1.1zM103.8 310.3h1.1v1.1h-1.1zM103.6 313.5h1.1v1.1h-1.1zM104.6 317.6h1.1v1.1h-1.1zM100.6 316.5h1.1v1.1h-1.1zM99.4 301.3h1.1v1.1h-1.1zM105.6 306.5h1.1v1.1h-1.1zM100.1 294.5h1.1v1.1h-1.1zM100.8 316.4h1.1v1.1h-1.1zM101.0 297.3h1.1v1.1h-1.1zM104.8 318.9h1.1v1.1h-1.1zM107.4 306.8h1.1v1.1h-1.1zM99.1 301.1h1.1v1.1h-1.1zM103.1 299.7h1.1v1.1h-1.1zM100.2 297.4h1.1v1.1h-1.1zM104.7 312.9h1.1v1.1h-1.1zM102.3 300.2h1.1v1.1h-1.1zM104.3 292.4h1.1v1.1h-1.1zM99.9 294.4h1.1v1.1h-1.1zM99.5 306.0h1.1v1.1h-1.1zM101.1 318.2h1.1v1.1h-1.1zM103.1 302.3h1.1v1.1h-1.1zM104.8 309.7h1.1v1.1h-1.1zM100.1 310.3h1.1v1.1h-1.1zM105.7 314.7h1.1v1.1h-1.1zM106.7 299.8h1.1v1.1h-1.1zM101.5 312.9h1.1v1.1h-1.1zM104.0 292.9h1.1v1.1h-1.1zM102.9 299.7h1.1v1.1h-1.1zM100.9 299.5h1.1v1.1h-1.1zM100.3 313.3h1.1v1.1h-1.1zM104.1 295.9h1.1v1.1h-1.1zM102.3 305.3h1.1v1.1h-1.1zM103.2 314.2h1.1v1.1h-1.1zM101.7 316.1h1.1v1.1h-1.1zM105.7 301.0h1.1v1.1h-1.1zM99.7 300.2h1.1v1.1h-1.1zM99.5 292.9h1.1v1.1h-1.1zM100.2 314.2h1.1v1.1h-1.1zM101.3 295.7h1.1v1.1h-1.1zM97.7 317.7h1.1v1.1h-1.1zM99.9 314.4h1.1v1.1h-1.1zM99.3 292.0h1.1v1.1h-1.1zM101.6 307.3h1.1v1.1h-1.1zM103.6 316.9h1.1v1.1h-1.1zM106.1 315.0h1.1v1.1h-1.1zM99.4 318.5h1.1v1.1h-1.1zM103.3 300.2h1.1v1.1h-1.1zM104.8 303.9h1.1v1.1h-1.1zM98.0 294.3h1.1v1.1h-1.1zM105.9 298.3h1.1v1.1h-1.1zM101.2 306.1h1.1v1.1h-1.1zM101.2 300.8h1.1v1.1h-1.1zM107.1 306.1h1.1v1.1h-1.1zM100.5 307.5h1.1v1.1h-1.1zM100.4 309.2h1.1v1.1h-1.1zM101.0 314.5h1.1v1.1h-1.1zM103.9 298.8h1.1v1.1h-1.1zM104.3 292.6h1.1v1.1h-1.1zM102.8 311.1h1.1v1.1h-1.1zM102.9 298.9h1.1v1.1h-1.1zM102.5 296.3h1.1v1.1h-1.1zM101.8 315.1h1.1v1.1h-1.1zM102.5 292.1h1.1v1.1h-1.1zM102.2 296.4h1.1v1.1h-1.1zM99.0 316.9h1.1v1.1h-1.1zM100.4 318.2h1.1v1.1h-1.1zM102.8 298.7h1.1v1.1h-1.1zM100.2 315.1h1.1v1.1h-1.1zM97.9 294.1h1.1v1.1h-1.1zM99.6 315.8h1.1v1.1h-1.1zM100.0 297.3h1.1v1.1h-1.1zM101.4 300.2h1.1v1.1h-1.1zM103.2 316.0h1.1v1.1h-1.1zM98.3 305.4h1.1v1.1h-1.1zM98.2 316.2h1.1v1.1h-1.1zM102.3 304.7h1.1v1.1h-1.1zM101.7 299.3h1.1v1.1h-1.1zM105.1 312.8h1.1v1.1h-1.1zM106.8 305.3h1.1v1.1h-1.1zM97.3 293.2h1.1v1.1h-1.1zM103.4 313.2h1.1v1.1h-1.1zM102.0 308.8h1.1v1.1h-1.1zM104.0 298.4h1.1v1.1h-1.1zM101.3 316.8h1.1v1.1h-1.1zM103.7 297.5h1.1v1.1h-1.1zM103.5 301.7h1.1v1.1h-1.1zM104.3 295.5h1.1v1.1h-1.1zM98.6 317.2h1.1v1.1h-1.1zM98.6 291.6h1.1v1.1h-1.1zM99.1 295.5h1.1v1.1h-1.1zM100.3 304.4h1.1v1.1h-1.1zM101.8 301.7h1.1v1.1h-1.1zM99.4 295.7h1.1v1.1h-1.1zM99.9 292.5h1.1v1.1h-1.1zM104.1 306.3h1.1v1.1h-1.1zM103.2 307.2h1.1v1.1h-1.1zM99.9 298.4h1.1v1.1h-1.1zM100.6 295.4h1.1v1.1h-1.1zM101.9 292.4h1.1v1.1h-1.1zM101.6 304.3h1.1v1.1h-1.1zM104.6 310.0h1.1v1.1h-1.1zM103.8 310.4h1.1v1.1h-1.1zM104.5 289.5h1.1v1.1h-1.1zM97.4 306.8h1.1v1.1h-1.1zM102.0 297.6h1.1v1.1h-1.1zM99.7 295.0h1.1v1.1h-1.1zM101.3 298.6h1.1v1.1h-1.1zM106.2 316.5h1.1v1.1h-1.1zM105.2 292.9h1.1v1.1h-1.1zM101.1 290.3h1.1v1.1h-1.1zM99.3 299.4h1.1v1.1h-1.1zM98.1 314.7h1.1v1.1h-1.1zM99.3 311.4h1.1v1.1h-1.1zM99.6 296.0h1.1v1.1h-1.1zM97.2 312.3h1.1v1.1h-1.1zM105.8 292.4h1.1v1.1h-1.1zM101.4 319.3h1.1v1.1h-1.1zM104.5 311.2h1.1v1.1h-1.1zM106.8 318.5h1.1v1.1h-1.1zM104.3 311.2h1.1v1.1h-1.1zM98.9 305.8h1.1v1.1h-1.1zM102.5 295.4h1.1v1.1h-1.1zM105.8 316.0h1.1v1.1h-1.1zM99.6 298.9h1.1v1.1h-1.1zM99.7 297.1h1.1v1.1h-1.1zM95.5 313.4h1.1v1.1h-1.1zM103.7 290.8h1.1v1.1h-1.1zM98.4 308.6h1.1v1.1h-1.1zM107.3 293.6h1.1v1.1h-1.1zM104.4 309.6h1.1v1.1h-1.1zM99.8 296.9h1.1v1.1h-1.1zM101.5 316.6h1.1v1.1h-1.1zM108.5 301.8h1.1v1.1h-1.1zM102.8 309.9h1.1v1.1h-1.1zM103.1 299.3h1.1v1.1h-1.1zM102.6 302.5h1.1v1.1h-1.1zM102.8 308.2h1.1v1.1h-1.1zM102.2 305.4h1.1v1.1h-1.1zM100.2 294.6h1.1v1.1h-1.1zM102.3 297.6h1.1v1.1h-1.1zM101.0 303.1h1.1v1.1h-1.1zM98.6 316.5h1.1v1.1h-1.1zM100.2 308.7h1.1v1.1h-1.1zM96.5 300.6h1.1v1.1h-1.1zM100.0 318.4h1.1v1.1h-1.1zM98.7 313.7h1.1v1.1h-1.1zM105.4 308.6h1.1v1.1h-1.1zM103.3 304.9h1.1v1.1h-1.1zM102.1 303.0h1.1v1.1h-1.1zM104.5 302.1h1.1v1.1h-1.1zM102.6 301.6h1.1v1.1h-1.1zM103.2 315.1h1.1v1.1h-1.1zM104.0 307.7h1.1v1.1h-1.1zM104.7 292.4h1.1v1.1h-1.1zM100.1 308.3h1.1v1.1h-1.1zM100.4 303.5h1.1v1.1h-1.1zM105.9 294.5h1.1v1.1h-1.1zM106.4 318.5h1.1v1.1h-1.1zM101.5 304.4h1.1v1.1h-1.1zM100.9 306.8h1.1v1.1h-1.1zM102.6 299.9h1.1v1.1h-1.1zM100.3 298.6h1.1v1.1h-1.1zM106.2 303.8h1.1v1.1h-1.1zM100.7 316.1h1.1v1.1h-1.1zM101.4 315.7h1.1v1.1h-1.1zM96.6 294.9h1.1v1.1h-1.1zM103.8 302.1h1.1v1.1h-1.1zM99.3 309.1h1.1v1.1h-1.1zM104.9 319.1h1.1v1.1h-1.1zM99.8 312.3h1.1v1.1h-1.1zM103.2 311.0h1.1v1.1h-1.1zM103.5 306.1h1.1v1.1h-1.1zM102.4 298.3h1.1v1.1h-1.1zM102.4 298.4h1.1v1.1h-1.1zM98.8 313.3h1.1v1.1h-1.1zM99.1 290.3h1.1v1.1h-1.1zM103.3 301.8h1.1v1.1h-1.1zM101.0 295.4h1.1v1.1h-1.1zM104.0 313.2h1.1v1.1h-1.1zM100.8 305.9h1.1v1.1h-1.1zM106.6 307.4h1.1v1.1h-1.1zM97.4 297.9h1.1v1.1h-1.1zM107.1 313.0h1.1v1.1h-1.1zM121.1 266.1h1.1v1.1h-1.1zM105.4 300.0h1.1v1.1h-1.1zM113.9 265.2h1.1v1.1h-1.1zM121.6 271.6h1.1v1.1h-1.1zM96.4 234.3h1.1v1.1h-1.1zM110.8 311.6h1.1v1.1h-1.1zM110.4 273.2h1.1v1.1h-1.1zM110.8 276.6h1.1v1.1h-1.1zM92.7 269.6h1.1v1.1h-1.1zM103.5 280.6h1.1v1.1h-1.1zM116.6 306.7h1.1v1.1h-1.1zM114.3 263.0h1.1v1.1h-1.1zM128.5 277.9h1.1v1.1h-1.1zM90.9 270.2h1.1v1.1h-1.1zM96.0 307.2h1.1v1.1h-1.1zM97.7 275.5h1.1v1.1h-1.1zM112.7 263.2h1.1v1.1h-1.1zM107.5 260.9h1.1v1.1h-1.1zM100.6 249.9h1.1v1.1h-1.1zM110.8 263.4h1.1v1.1h-1.1zM96.7 259.9h1.1v1.1h-1.1zM133.2 240.7h1.1v1.1h-1.1zM102.0 257.2h1.1v1.1h-1.1zM107.9 289.5h1.1v1.1h-1.1zM100.0 277.3h1.1v1.1h-1.1zM113.9 310.4h1.1v1.1h-1.1zM101.7 253.6h1.1v1.1h-1.1zM116.4 269.4h1.1v1.1h-1.1zM101.7 263.8h1.1v1.1h-1.1zM123.8 231.8h1.1v1.1h-1.1zM105.8 311.5h1.1v1.1h-1.1zM112.3 251.7h1.1v1.1h-1.1zM101.2 295.1h1.1v1.1h-1.1zM113.5 260.6h1.1v1.1h-1.1zM101.4 239.2h1.1v1.1h-1.1zM92.9 279.6h1.1v1.1h-1.1zM114.1 258.5h1.1v1.1h-1.1zM116.4 254.2h1.1v1.1h-1.1zM117.9 315.5h1.1v1.1h-1.1zM118.1 269.3h1.1v1.1h-1.1zM113.8 271.9h1.1v1.1h-1.1zM109.6 269.4h1.1v1.1h-1.1zM113.8 262.5h1.1v1.1h-1.1zM107.5 258.7h1.1v1.1h-1.1zM116.9 303.1h1.1v1.1h-1.1zM117.2 282.2h1.1v1.1h-1.1zM124.6 250.6h1.1v1.1h-1.1zM132.7 222.9h1.1v1.1h-1.1zM116.6 273.8h1.1v1.1h-1.1zM112.8 233.1h1.1v1.1h-1.1z" fill="#333" fill-opacity="0.62"/>
<g clip-path="url(#cp1)"><ellipse cx="228.5" cy="238" rx="4.5" ry="9" fill="#555" fill-opacity="0.2" filter="url(#bl)"/></g>
<g clip-path="url(#cp1)"><ellipse cx="226.5" cy="308" rx="4.5" ry="13" fill="#555" fill-opacity="0.45" filter="url(#bl)"/></g>
<path d="M233.1 241.2h1.1v1.1h-1.1zM229.0 247.4h1.1v1.1h-1.1zM229.1 240.0h1.1v1.1h-1.1zM232.0 238.6h1.1v1.1h-1.1zM230.0 236.2h1.1v1.1h-1.1zM226.3 239.3h1.1v1.1h-1.1zM226.2 241.2h1.1v1.1h-1.1zM227.6 234.8h1.1v1.1h-1.1zM228.2 229.6h1.1v1.1h-1.1zM231.3 243.8h1.1v1.1h-1.1zM219.5 239.4h1.1v1.1h-1.1zM226.9 243.5h1.1v1.1h-1.1zM236.6 235.6h1.1v1.1h-1.1zM228.1 232.7h1.1v1.1h-1.1zM229.9 244.6h1.1v1.1h-1.1zM229.6 240.0h1.1v1.1h-1.1zM224.4 238.5h1.1v1.1h-1.1zM224.9 236.4h1.1v1.1h-1.1zM234.6 239.8h1.1v1.1h-1.1zM225.6 230.8h1.1v1.1h-1.1zM222.7 235.3h1.1v1.1h-1.1zM236.6 237.2h1.1v1.1h-1.1zM227.7 231.1h1.1v1.1h-1.1zM226.8 246.6h1.1v1.1h-1.1zM232.4 237.7h1.1v1.1h-1.1zM225.4 244.4h1.1v1.1h-1.1zM237.4 261.4h1.1v1.1h-1.1zM234.0 239.4h1.1v1.1h-1.1zM231.2 236.3h1.1v1.1h-1.1zM225.5 234.0h1.1v1.1h-1.1zM228.7 244.3h1.1v1.1h-1.1zM234.2 249.3h1.1v1.1h-1.1zM230.4 221.9h1.1v1.1h-1.1zM234.4 242.8h1.1v1.1h-1.1zM225.9 249.3h1.1v1.1h-1.1zM225.2 236.9h1.1v1.1h-1.1zM228.7 238.9h1.1v1.1h-1.1zM228.3 223.3h1.1v1.1h-1.1zM223.2 238.3h1.1v1.1h-1.1zM231.4 238.8h1.1v1.1h-1.1zM224.0 229.4h1.1v1.1h-1.1zM223.9 247.7h1.1v1.1h-1.1zM224.7 245.1h1.1v1.1h-1.1zM223.9 231.2h1.1v1.1h-1.1zM226.0 249.1h1.1v1.1h-1.1zM225.8 237.5h1.1v1.1h-1.1zM226.1 234.9h1.1v1.1h-1.1zM232.3 234.1h1.1v1.1h-1.1zM227.6 229.4h1.1v1.1h-1.1zM225.7 239.8h1.1v1.1h-1.1zM234.2 253.3h1.1v1.1h-1.1zM223.7 237.2h1.1v1.1h-1.1zM221.3 236.5h1.1v1.1h-1.1zM228.7 243.9h1.1v1.1h-1.1zM230.4 231.0h1.1v1.1h-1.1zM223.7 227.4h1.1v1.1h-1.1zM234.8 229.1h1.1v1.1h-1.1zM232.3 241.1h1.1v1.1h-1.1zM232.1 226.2h1.1v1.1h-1.1zM230.2 242.2h1.1v1.1h-1.1zM228.5 242.7h1.1v1.1h-1.1zM224.0 250.3h1.1v1.1h-1.1zM224.1 237.8h1.1v1.1h-1.1zM231.9 243.2h1.1v1.1h-1.1zM234.7 238.8h1.1v1.1h-1.1zM224.2 241.9h1.1v1.1h-1.1zM230.5 226.1h1.1v1.1h-1.1zM232.1 248.8h1.1v1.1h-1.1zM225.2 246.2h1.1v1.1h-1.1zM228.8 246.7h1.1v1.1h-1.1zM226.4 245.6h1.1v1.1h-1.1zM231.2 239.6h1.1v1.1h-1.1zM227.3 237.8h1.1v1.1h-1.1zM231.3 250.5h1.1v1.1h-1.1zM228.0 246.0h1.1v1.1h-1.1zM228.9 254.1h1.1v1.1h-1.1zM233.3 245.2h1.1v1.1h-1.1zM230.2 234.8h1.1v1.1h-1.1zM222.2 245.6h1.1v1.1h-1.1zM225.7 233.8h1.1v1.1h-1.1zM232.7 241.4h1.1v1.1h-1.1zM224.3 248.4h1.1v1.1h-1.1zM227.4 246.9h1.1v1.1h-1.1zM224.1 227.3h1.1v1.1h-1.1zM226.1 245.3h1.1v1.1h-1.1zM220.5 230.4h1.1v1.1h-1.1zM232.3 258.9h1.1v1.1h-1.1zM227.6 231.5h1.1v1.1h-1.1zM226.7 232.8h1.1v1.1h-1.1zM234.6 244.8h1.1v1.1h-1.1zM225.0 245.7h1.1v1.1h-1.1zM219.9 239.4h1.1v1.1h-1.1zM228.5 237.2h1.1v1.1h-1.1zM224.8 234.1h1.1v1.1h-1.1zM221.1 242.6h1.1v1.1h-1.1zM224.6 243.6h1.1v1.1h-1.1zM231.8 233.5h1.1v1.1h-1.1zM223.7 239.5h1.1v1.1h-1.1zM231.2 228.4h1.1v1.1h-1.1zM228.3 230.9h1.1v1.1h-1.1zM234.3 242.0h1.1v1.1h-1.1zM222.0 234.5h1.1v1.1h-1.1zM228.7 235.0h1.1v1.1h-1.1zM228.8 242.2h1.1v1.1h-1.1zM229.3 235.6h1.1v1.1h-1.1zM234.2 246.0h1.1v1.1h-1.1zM227.3 237.9h1.1v1.1h-1.1zM225.9 227.6h1.1v1.1h-1.1zM227.2 239.3h1.1v1.1h-1.1zM227.0 231.2h1.1v1.1h-1.1zM216.3 224.7h1.1v1.1h-1.1zM231.8 224.2h1.1v1.1h-1.1zM230.7 244.7h1.1v1.1h-1.1zM228.1 238.9h1.1v1.1h-1.1zM231.7 238.5h1.1v1.1h-1.1zM228.2 245.9h1.1v1.1h-1.1zM228.3 254.8h1.1v1.1h-1.1zM224.0 235.7h1.1v1.1h-1.1zM227.4 240.2h1.1v1.1h-1.1zM225.8 254.1h1.1v1.1h-1.1zM231.0 224.1h1.1v1.1h-1.1zM228.4 244.4h1.1v1.1h-1.1zM233.2 242.2h1.1v1.1h-1.1zM225.4 245.4h1.1v1.1h-1.1zM223.2 239.7h1.1v1.1h-1.1zM223.7 249.7h1.1v1.1h-1.1zM231.3 256.1h1.1v1.1h-1.1zM227.3 238.1h1.1v1.1h-1.1zM226.6 248.1h1.1v1.1h-1.1zM224.2 244.6h1.1v1.1h-1.1zM227.1 244.7h1.1v1.1h-1.1zM229.4 232.6h1.1v1.1h-1.1zM226.7 225.0h1.1v1.1h-1.1zM224.8 234.2h1.1v1.1h-1.1zM232.5 235.5h1.1v1.1h-1.1zM229.5 237.1h1.1v1.1h-1.1zM223.3 243.6h1.1v1.1h-1.1zM236.1 243.8h1.1v1.1h-1.1zM233.3 243.7h1.1v1.1h-1.1zM232.3 255.4h1.1v1.1h-1.1zM221.8 233.6h1.1v1.1h-1.1zM222.5 239.1h1.1v1.1h-1.1zM227.0 233.0h1.1v1.1h-1.1zM230.4 253.8h1.1v1.1h-1.1zM233.9 253.2h1.1v1.1h-1.1zM229.0 242.6h1.1v1.1h-1.1zM234.3 246.9h1.1v1.1h-1.1zM232.4 236.5h1.1v1.1h-1.1zM226.8 233.8h1.1v1.1h-1.1zM233.6 232.2h1.1v1.1h-1.1zM229.3 241.3h1.1v1.1h-1.1zM228.1 236.8h1.1v1.1h-1.1zM230.2 233.3h1.1v1.1h-1.1zM229.1 249.5h1.1v1.1h-1.1zM226.4 248.3h1.1v1.1h-1.1zM233.5 253.5h1.1v1.1h-1.1zM225.0 252.7h1.1v1.1h-1.1zM232.6 250.7h1.1v1.1h-1.1zM232.5 238.0h1.1v1.1h-1.1zM232.3 240.6h1.1v1.1h-1.1zM226.7 234.6h1.1v1.1h-1.1zM226.8 238.0h1.1v1.1h-1.1zM222.2 241.9h1.1v1.1h-1.1zM223.0 244.1h1.1v1.1h-1.1zM234.2 248.9h1.1v1.1h-1.1zM235.0 251.6h1.1v1.1h-1.1zM238.0 238.5h1.1v1.1h-1.1zM225.2 237.9h1.1v1.1h-1.1zM224.7 249.9h1.1v1.1h-1.1zM219.3 239.4h1.1v1.1h-1.1zM232.3 244.1h1.1v1.1h-1.1zM232.0 230.9h1.1v1.1h-1.1zM226.8 238.1h1.1v1.1h-1.1zM230.5 243.9h1.1v1.1h-1.1zM234.5 229.4h1.1v1.1h-1.1zM229.8 257.0h1.1v1.1h-1.1zM233.8 241.2h1.1v1.1h-1.1zM232.1 237.5h1.1v1.1h-1.1zM234.0 235.0h1.1v1.1h-1.1zM231.9 241.2h1.1v1.1h-1.1zM225.6 240.9h1.1v1.1h-1.1zM228.4 234.0h1.1v1.1h-1.1zM229.3 232.5h1.1v1.1h-1.1zM233.1 243.3h1.1v1.1h-1.1zM232.7 244.7h1.1v1.1h-1.1zM229.8 228.5h1.1v1.1h-1.1zM227.5 239.5h1.1v1.1h-1.1zM226.7 238.7h1.1v1.1h-1.1zM227.2 235.6h1.1v1.1h-1.1zM225.2 235.5h1.1v1.1h-1.1zM226.7 266.4h1.1v1.1h-1.1zM236.2 261.7h1.1v1.1h-1.1zM239.9 254.1h1.1v1.1h-1.1zM241.8 241.7h1.1v1.1h-1.1zM230.1 257.6h1.1v1.1h-1.1zM246.0 267.3h1.1v1.1h-1.1zM240.1 264.1h1.1v1.1h-1.1zM230.6 256.0h1.1v1.1h-1.1zM229.9 258.1h1.1v1.1h-1.1zM225.9 254.6h1.1v1.1h-1.1zM230.9 261.4h1.1v1.1h-1.1zM230.1 260.5h1.1v1.1h-1.1zM237.6 261.8h1.1v1.1h-1.1zM239.7 249.3h1.1v1.1h-1.1zM234.9 256.0h1.1v1.1h-1.1zM241.6 253.4h1.1v1.1h-1.1zM236.3 245.7h1.1v1.1h-1.1zM232.1 251.0h1.1v1.1h-1.1zM234.0 251.8h1.1v1.1h-1.1zM233.8 259.2h1.1v1.1h-1.1zM227.4 263.8h1.1v1.1h-1.1zM230.2 275.3h1.1v1.1h-1.1zM241.9 263.0h1.1v1.1h-1.1zM234.9 269.0h1.1v1.1h-1.1zM236.3 243.1h1.1v1.1h-1.1zM238.9 259.6h1.1v1.1h-1.1zM217.8 242.0h1.1v1.1h-1.1zM243.4 260.2h1.1v1.1h-1.1zM229.4 241.6h1.1v1.1h-1.1zM227.0 270.7h1.1v1.1h-1.1zM218.7 261.8h1.1v1.1h-1.1zM250.6 258.4h1.1v1.1h-1.1zM227.9 261.8h1.1v1.1h-1.1zM238.5 260.5h1.1v1.1h-1.1zM232.9 243.5h1.1v1.1h-1.1zM237.7 263.7h1.1v1.1h-1.1zM237.0 261.6h1.1v1.1h-1.1zM235.2 264.9h1.1v1.1h-1.1zM257.8 252.3h1.1v1.1h-1.1zM236.1 247.1h1.1v1.1h-1.1zM221.8 257.3h1.1v1.1h-1.1zM243.8 248.8h1.1v1.1h-1.1zM230.9 252.5h1.1v1.1h-1.1zM224.4 244.7h1.1v1.1h-1.1zM234.7 253.1h1.1v1.1h-1.1zM232.7 248.8h1.1v1.1h-1.1zM243.5 276.9h1.1v1.1h-1.1zM228.6 243.8h1.1v1.1h-1.1zM242.7 269.7h1.1v1.1h-1.1zM248.0 249.5h1.1v1.1h-1.1zM233.6 240.0h1.1v1.1h-1.1zM237.0 245.6h1.1v1.1h-1.1zM222.0 263.6h1.1v1.1h-1.1zM237.0 239.2h1.1v1.1h-1.1zM228.6 278.8h1.1v1.1h-1.1zM217.4 252.7h1.1v1.1h-1.1zM247.7 272.7h1.1v1.1h-1.1zM235.2 250.3h1.1v1.1h-1.1zM236.7 251.4h1.1v1.1h-1.1zM236.5 266.4h1.1v1.1h-1.1zM234.7 267.4h1.1v1.1h-1.1zM242.9 249.5h1.1v1.1h-1.1zM232.3 248.3h1.1v1.1h-1.1zM236.6 241.4h1.1v1.1h-1.1zM227.2 237.4h1.1v1.1h-1.1zM237.3 248.8h1.1v1.1h-1.1zM242.7 263.8h1.1v1.1h-1.1zM237.3 250.0h1.1v1.1h-1.1zM223.0 247.4h1.1v1.1h-1.1zM234.2 256.2h1.1v1.1h-1.1zM232.7 257.1h1.1v1.1h-1.1zM243.8 267.5h1.1v1.1h-1.1zM225.7 263.0h1.1v1.1h-1.1zM227.9 259.1h1.1v1.1h-1.1zM235.5 265.2h1.1v1.1h-1.1zM239.4 246.6h1.1v1.1h-1.1zM233.2 260.7h1.1v1.1h-1.1zM232.6 270.9h1.1v1.1h-1.1zM224.4 261.7h1.1v1.1h-1.1zM235.2 252.7h1.1v1.1h-1.1zM233.2 254.6h1.1v1.1h-1.1zM236.0 251.9h1.1v1.1h-1.1zM231.6 279.4h1.1v1.1h-1.1zM230.8 261.9h1.1v1.1h-1.1zM241.4 249.1h1.1v1.1h-1.1zM239.5 251.4h1.1v1.1h-1.1zM216.5 257.0h1.1v1.1h-1.1zM213.1 255.9h1.1v1.1h-1.1zM238.9 272.7h1.1v1.1h-1.1zM238.5 266.4h1.1v1.1h-1.1zM238.3 257.0h1.1v1.1h-1.1zM241.3 253.6h1.1v1.1h-1.1zM235.9 250.6h1.1v1.1h-1.1zM232.1 260.3h1.1v1.1h-1.1zM220.8 251.2h1.1v1.1h-1.1zM227.2 256.2h1.1v1.1h-1.1zM247.4 248.7h1.1v1.1h-1.1zM232.6 253.9h1.1v1.1h-1.1zM228.6 250.1h1.1v1.1h-1.1zM240.4 254.8h1.1v1.1h-1.1zM228.8 246.2h1.1v1.1h-1.1zM228.0 264.7h1.1v1.1h-1.1zM227.2 239.4h1.1v1.1h-1.1zM227.3 257.1h1.1v1.1h-1.1zM236.4 256.5h1.1v1.1h-1.1zM239.4 245.2h1.1v1.1h-1.1zM226.9 253.5h1.1v1.1h-1.1zM234.1 238.0h1.1v1.1h-1.1zM232.5 242.1h1.1v1.1h-1.1zM240.1 258.7h1.1v1.1h-1.1zM242.9 297.1h1.1v1.1h-1.1zM233.5 281.5h1.1v1.1h-1.1zM221.1 279.2h1.1v1.1h-1.1zM237.6 286.0h1.1v1.1h-1.1zM229.8 274.0h1.1v1.1h-1.1zM227.4 295.6h1.1v1.1h-1.1zM227.4 292.5h1.1v1.1h-1.1zM210.6 293.3h1.1v1.1h-1.1zM221.4 273.8h1.1v1.1h-1.1zM226.5 277.9h1.1v1.1h-1.1zM242.2 281.5h1.1v1.1h-1.1zM227.7 278.7h1.1v1.1h-1.1zM235.5 291.8h1.1v1.1h-1.1zM236.5 273.0h1.1v1.1h-1.1zM227.5 287.1h1.1v1.1h-1.1zM213.7 282.6h1.1v1.1h-1.1zM236.9 293.8h1.1v1.1h-1.1zM233.3 289.3h1.1v1.1h-1.1zM236.3 285.9h1.1v1.1h-1.1zM214.5 296.3h1.1v1.1h-1.1zM235.0 282.9h1.1v1.1h-1.1zM223.0 299.6h1.1v1.1h-1.1zM232.3 289.8h1.1v1.1h-1.1zM226.5 285.3h1.1v1.1h-1.1zM229.5 291.0h1.1v1.1h-1.1zM214.5 295.9h1.1v1.1h-1.1zM229.4 288.7h1.1v1.1h-1.1zM237.4 279.8h1.1v1.1h-1.1zM235.9 275.5h1.1v1.1h-1.1zM231.2 278.0h1.1v1.1h-1.1zM237.8 293.6h1.1v1.1h-1.1zM219.9 285.7h1.1v1.1h-1.1zM223.6 273.7h1.1v1.1h-1.1zM228.8 290.6h1.1v1.1h-1.1zM238.5 279.7h1.1v1.1h-1.1zM227.3 293.6h1.1v1.1h-1.1zM229.2 296.0h1.1v1.1h-1.1zM244.5 287.4h1.1v1.1h-1.1zM223.2 281.3h1.1v1.1h-1.1zM235.8 282.0h1.1v1.1h-1.1zM230.1 286.7h1.1v1.1h-1.1zM217.2 280.5h1.1v1.1h-1.1zM226.4 277.5h1.1v1.1h-1.1zM231.4 280.8h1.1v1.1h-1.1zM226.0 293.4h1.1v1.1h-1.1zM241.1 282.0h1.1v1.1h-1.1zM225.1 272.7h1.1v1.1h-1.1zM215.0 294.2h1.1v1.1h-1.1zM229.7 277.6h1.1v1.1h-1.1zM218.7 291.9h1.1v1.1h-1.1zM227.0 287.6h1.1v1.1h-1.1zM236.8 277.8h1.1v1.1h-1.1zM218.2 282.6h1.1v1.1h-1.1zM233.5 281.8h1.1v1.1h-1.1zM228.4 286.2h1.1v1.1h-1.1zM221.9 288.3h1.1v1.1h-1.1zM237.1 275.7h1.1v1.1h-1.1zM222.8 280.7h1.1v1.1h-1.1zM224.3 281.5h1.1v1.1h-1.1zM237.9 273.8h1.1v1.1h-1.1zM232.4 280.6h1.1v1.1h-1.1zM223.7 273.7h1.1v1.1h-1.1zM212.9 283.9h1.1v1.1h-1.1zM240.6 277.1h1.1v1.1h-1.1zM235.0 274.9h1.1v1.1h-1.1zM233.1 281.4h1.1v1.1h-1.1zM226.5 273.5h1.1v1.1h-1.1zM225.1 280.4h1.1v1.1h-1.1zM239.9 287.9h1.1v1.1h-1.1zM232.9 279.0h1.1v1.1h-1.1zM231.3 288.9h1.1v1.1h-1.1zM240.0 289.8h1.1v1.1h-1.1zM244.2 282.0h1.1v1.1h-1.1zM222.1 292.4h1.1v1.1h-1.1zM243.7 289.9h1.1v1.1h-1.1zM229.7 284.5h1.1v1.1h-1.1zM227.0 281.2h1.1v1.1h-1.1zM229.6 286.4h1.1v1.1h-1.1zM220.4 287.0h1.1v1.1h-1.1zM230.8 282.1h1.1v1.1h-1.1zM231.8 281.0h1.1v1.1h-1.1zM231.8 293.7h1.1v1.1h-1.1zM226.2 289.3h1.1v1.1h-1.1zM224.9 282.0h1.1v1.1h-1.1zM231.5 279.4h1.1v1.1h-1.1zM237.8 273.2h1.1v1.1h-1.1zM228.1 283.6h1.1v1.1h-1.1zM230.3 282.3h1.1v1.1h-1.1zM221.6 283.8h1.1v1.1h-1.1zM240.4 287.8h1.1v1.1h-1.1zM228.3 274.8h1.1v1.1h-1.1zM222.2 288.9h1.1v1.1h-1.1zM225.1 281.3h1.1v1.1h-1.1zM247.8 266.9h1.1v1.1h-1.1zM236.8 267.2h1.1v1.1h-1.1zM218.8 302.0h1.1v1.1h-1.1zM238.2 287.5h1.1v1.1h-1.1zM235.9 289.7h1.1v1.1h-1.1zM224.8 274.0h1.1v1.1h-1.1zM223.0 285.8h1.1v1.1h-1.1zM233.0 290.6h1.1v1.1h-1.1zM228.9 288.5h1.1v1.1h-1.1zM229.2 275.6h1.1v1.1h-1.1zM225.1 285.7h1.1v1.1h-1.1zM228.5 279.6h1.1v1.1h-1.1zM229.0 292.9h1.1v1.1h-1.1zM223.5 266.1h1.1v1.1h-1.1zM229.7 267.0h1.1v1.1h-1.1zM241.2 278.6h1.1v1.1h-1.1zM229.5 281.5h1.1v1.1h-1.1zM230.4 285.1h1.1v1.1h-1.1zM238.4 275.5h1.1v1.1h-1.1zM225.7 280.0h1.1v1.1h-1.1zM227.1 287.3h1.1v1.1h-1.1zM213.3 268.0h1.1v1.1h-1.1zM229.2 286.0h1.1v1.1h-1.1zM233.4 289.8h1.1v1.1h-1.1zM241.6 276.5h1.1v1.1h-1.1zM226.4 284.9h1.1v1.1h-1.1zM233.6 286.5h1.1v1.1h-1.1zM231.6 276.2h1.1v1.1h-1.1zM247.6 283.1h1.1v1.1h-1.1zM232.5 276.4h1.1v1.1h-1.1zM231.8 280.7h1.1v1.1h-1.1zM238.0 289.7h1.1v1.1h-1.1zM224.5 283.8h1.1v1.1h-1.1zM230.0 285.4h1.1v1.1h-1.1zM240.6 278.0h1.1v1.1h-1.1zM251.1 277.4h1.1v1.1h-1.1zM218.0 288.4h1.1v1.1h-1.1zM220.6 304.0h1.1v1.1h-1.1zM226.5 296.4h1.1v1.1h-1.1zM226.6 308.4h1.1v1.1h-1.1zM222.8 316.4h1.1v1.1h-1.1zM223.8 294.2h1.1v1.1h-1.1zM230.3 291.9h1.1v1.1h-1.1zM226.7 314.7h1.1v1.1h-1.1zM233.2 297.4h1.1v1.1h-1.1zM228.9 304.6h1.1v1.1h-1.1zM229.7 295.5h1.1v1.1h-1.1zM222.5 306.5h1.1v1.1h-1.1zM228.4 307.1h1.1v1.1h-1.1zM226.9 290.6h1.1v1.1h-1.1zM224.0 310.9h1.1v1.1h-1.1zM222.9 309.7h1.1v1.1h-1.1zM224.0 297.5h1.1v1.1h-1.1zM235.7 293.3h1.1v1.1h-1.1zM229.8 295.1h1.1v1.1h-1.1zM222.4 313.5h1.1v1.1h-1.1zM231.2 296.7h1.1v1.1h-1.1zM226.5 315.7h1.1v1.1h-1.1zM225.3 299.5h1.1v1.1h-1.1zM224.4 313.7h1.1v1.1h-1.1zM228.1 318.5h1.1v1.1h-1.1zM224.8 291.6h1.1v1.1h-1.1zM224.3 319.9h1.1v1.1h-1.1zM229.6 316.5h1.1v1.1h-1.1zM219.8 295.1h1.1v1.1h-1.1zM222.9 308.7h1.1v1.1h-1.1zM223.1 306.6h1.1v1.1h-1.1zM227.6 295.7h1.1v1.1h-1.1zM226.5 299.5h1.1v1.1h-1.1zM227.2 317.1h1.1v1.1h-1.1zM226.7 314.4h1.1v1.1h-1.1zM229.6 311.1h1.1v1.1h-1.1zM225.7 296.8h1.1v1.1h-1.1zM229.2 304.3h1.1v1.1h-1.1zM225.1 317.0h1.1v1.1h-1.1zM231.4 300.9h1.1v1.1h-1.1zM220.8 291.1h1.1v1.1h-1.1zM226.4 314.9h1.1v1.1h-1.1zM222.3 293.5h1.1v1.1h-1.1zM227.2 304.6h1.1v1.1h-1.1zM220.6 306.7h1.1v1.1h-1.1zM219.5 314.3h1.1v1.1h-1.1zM225.5 316.0h1.1v1.1h-1.1zM223.6 312.7h1.1v1.1h-1.1zM233.2 319.4h1.1v1.1h-1.1zM223.9 303.8h1.1v1.1h-1.1zM228.6 299.0h1.1v1.1h-1.1zM229.5 288.6h1.1v1.1h-1.1zM224.1 313.7h1.1v1.1h-1.1zM226.1 319.4h1.1v1.1h-1.1zM229.6 299.2h1.1v1.1h-1.1zM232.9 292.1h1.1v1.1h-1.1zM231.1 317.0h1.1v1.1h-1.1zM222.7 317.0h1.1v1.1h-1.1zM230.0 309.9h1.1v1.1h-1.1zM224.1 299.1h1.1v1.1h-1.1zM225.9 308.3h1.1v1.1h-1.1zM223.1 305.5h1.1v1.1h-1.1zM230.2 315.4h1.1v1.1h-1.1zM226.0 312.5h1.1v1.1h-1.1zM233.1 296.4h1.1v1.1h-1.1zM231.4 291.2h1.1v1.1h-1.1zM221.4 310.4h1.1v1.1h-1.1zM228.8 313.6h1.1v1.1h-1.1zM224.3 291.3h1.1v1.1h-1.1zM225.3 301.6h1.1v1.1h-1.1zM222.7 307.2h1.1v1.1h-1.1zM227.4 311.6h1.1v1.1h-1.1zM226.6 294.9h1.1v1.1h-1.1zM228.7 297.0h1.1v1.1h-1.1zM223.9 319.5h1.1v1.1h-1.1zM227.6 314.5h1.1v1.1h-1.1zM228.9 297.5h1.1v1.1h-1.1zM224.9 304.2h1.1v1.1h-1.1zM231.4 316.9h1.1v1.1h-1.1zM224.3 292.6h1.1v1.1h-1.1zM221.8 317.6h1.1v1.1h-1.1zM226.4 300.6h1.1v1.1h-1.1zM230.2 319.7h1.1v1.1h-1.1zM224.6 307.9h1.1v1.1h-1.1zM231.5 300.0h1.1v1.1h-1.1zM222.9 301.0h1.1v1.1h-1.1zM226.5 298.0h1.1v1.1h-1.1zM232.3 320.1h1.1v1.1h-1.1zM224.6 301.7h1.1v1.1h-1.1zM229.4 314.6h1.1v1.1h-1.1zM227.9 307.8h1.1v1.1h-1.1zM229.4 314.4h1.1v1.1h-1.1zM228.4 314.2h1.1v1.1h-1.1zM228.3 296.1h1.1v1.1h-1.1zM227.4 306.3h1.1v1.1h-1.1zM221.1 290.6h1.1v1.1h-1.1zM226.9 300.2h1.1v1.1h-1.1zM227.6 291.4h1.1v1.1h-1.1zM228.8 295.5h1.1v1.1h-1.1zM229.7 296.5h1.1v1.1h-1.1zM227.6 296.3h1.1v1.1h-1.1zM224.7 307.4h1.1v1.1h-1.1zM231.5 293.7h1.1v1.1h-1.1zM220.3 311.4h1.1v1.1h-1.1zM231.2 320.4h1.1v1.1h-1.1zM228.3 306.8h1.1v1.1h-1.1zM227.6 317.1h1.1v1.1h-1.1zM224.7 300.9h1.1v1.1h-1.1zM227.9 314.9h1.1v1.1h-1.1zM230.8 301.4h1.1v1.1h-1.1zM232.6 306.0h1.1v1.1h-1.1zM226.7 305.6h1.1v1.1h-1.1zM226.2 310.1h1.1v1.1h-1.1zM222.3 305.0h1.1v1.1h-1.1zM226.3 295.3h1.1v1.1h-1.1zM230.9 312.7h1.1v1.1h-1.1zM220.0 319.1h1.1v1.1h-1.1zM225.1 303.1h1.1v1.1h-1.1zM222.3 294.3h1.1v1.1h-1.1zM227.1 293.6h1.1v1.1h-1.1zM227.9 305.0h1.1v1.1h-1.1zM222.5 309.4h1.1v1.1h-1.1zM225.8 302.9h1.1v1.1h-1.1zM229.9 319.7h1.1v1.1h-1.1zM225.1 308.6h1.1v1.1h-1.1zM224.8 319.7h1.1v1.1h-1.1zM238.4 318.4h1.1v1.1h-1.1zM234.4 305.5h1.1v1.1h-1.1zM227.9 299.1h1.1v1.1h-1.1zM226.7 313.0h1.1v1.1h-1.1zM226.2 295.9h1.1v1.1h-1.1zM229.8 309.1h1.1v1.1h-1.1zM224.6 307.6h1.1v1.1h-1.1zM231.9 301.9h1.1v1.1h-1.1zM229.3 297.1h1.1v1.1h-1.1zM225.6 309.0h1.1v1.1h-1.1zM230.0 299.3h1.1v1.1h-1.1zM229.9 301.1h1.1v1.1h-1.1zM220.1 314.1h1.1v1.1h-1.1zM225.1 301.0h1.1v1.1h-1.1zM225.5 293.4h1.1v1.1h-1.1zM228.9 291.1h1.1v1.1h-1.1zM221.6 309.0h1.1v1.1h-1.1zM226.2 309.6h1.1v1.1h-1.1zM222.7 296.9h1.1v1.1h-1.1zM221.4 319.2h1.1v1.1h-1.1zM229.4 300.6h1.1v1.1h-1.1zM230.8 309.4h1.1v1.1h-1.1zM229.3 298.8h1.1v1.1h-1.1zM225.2 306.4h1.1v1.1h-1.1zM223.8 311.6h1.1v1.1h-1.1zM225.9 311.2h1.1v1.1h-1.1zM221.8 303.9h1.1v1.1h-1.1zM233.6 312.6h1.1v1.1h-1.1zM229.7 314.8h1.1v1.1h-1.1zM229.5 320.3h1.1v1.1h-1.1zM229.9 311.2h1.1v1.1h-1.1zM227.9 315.0h1.1v1.1h-1.1zM227.2 297.4h1.1v1.1h-1.1zM228.2 293.3h1.1v1.1h-1.1zM222.5 289.2h1.1v1.1h-1.1zM230.2 306.4h1.1v1.1h-1.1zM229.6 305.2h1.1v1.1h-1.1zM224.6 291.0h1.1v1.1h-1.1zM225.0 305.4h1.1v1.1h-1.1zM222.8 314.3h1.1v1.1h-1.1zM225.9 313.4h1.1v1.1h-1.1zM228.6 313.5h1.1v1.1h-1.1zM222.6 312.5h1.1v1.1h-1.1zM225.2 316.1h1.1v1.1h-1.1zM225.2 288.3h1.1v1.1h-1.1zM226.4 299.3h1.1v1.1h-1.1zM226.0 296.1h1.1v1.1h-1.1zM231.3 297.6h1.1v1.1h-1.1zM226.0 320.2h1.1v1.1h-1.1zM225.9 299.3h1.1v1.1h-1.1zM226.6 302.0h1.1v1.1h-1.1zM227.3 293.7h1.1v1.1h-1.1zM222.8 291.5h1.1v1.1h-1.1zM221.3 299.7h1.1v1.1h-1.1zM226.4 300.0h1.1v1.1h-1.1zM225.9 318.3h1.1v1.1h-1.1zM223.3 294.9h1.1v1.1h-1.1zM232.0 313.0h1.1v1.1h-1.1zM228.7 317.3h1.1v1.1h-1.1zM220.7 295.8h1.1v1.1h-1.1zM227.7 314.8h1.1v1.1h-1.1zM225.6 309.9h1.1v1.1h-1.1zM225.5 296.0h1.1v1.1h-1.1zM228.8 310.1h1.1v1.1h-1.1zM225.2 300.6h1.1v1.1h-1.1zM224.1 291.7h1.1v1.1h-1.1zM222.5 297.8h1.1v1.1h-1.1zM225.0 310.5h1.1v1.1h-1.1zM224.2 299.5h1.1v1.1h-1.1zM231.7 296.2h1.1v1.1h-1.1zM218.4 314.7h1.1v1.1h-1.1zM228.9 314.2h1.1v1.1h-1.1zM227.8 315.2h1.1v1.1h-1.1zM227.5 296.0h1.1v1.1h-1.1zM223.6 299.3h1.1v1.1h-1.1zM227.8 305.2h1.1v1.1h-1.1zM225.9 304.3h1.1v1.1h-1.1zM225.3 309.1h1.1v1.1h-1.1zM227.6 296.0h1.1v1.1h-1.1zM231.1 305.5h1.1v1.1h-1.1zM229.6 296.7h1.1v1.1h-1.1zM223.2 312.6h1.1v1.1h-1.1zM223.0 308.6h1.1v1.1h-1.1zM228.5 311.3h1.1v1.1h-1.1zM227.2 310.0h1.1v1.1h-1.1zM224.5 303.7h1.1v1.1h-1.1zM220.8 293.1h1.1v1.1h-1.1zM227.9 305.8h1.1v1.1h-1.1zM226.1 294.5h1.1v1.1h-1.1zM224.6 299.8h1.1v1.1h-1.1zM227.1 295.3h1.1v1.1h-1.1zM224.6 307.6h1.1v1.1h-1.1zM222.9 296.4h1.1v1.1h-1.1zM228.0 302.2h1.1v1.1h-1.1zM221.9 316.6h1.1v1.1h-1.1zM225.1 307.8h1.1v1.1h-1.1zM227.4 296.6h1.1v1.1h-1.1zM227.8 313.9h1.1v1.1h-1.1zM228.8 301.2h1.1v1.1h-1.1zM226.2 306.2h1.1v1.1h-1.1zM228.1 316.1h1.1v1.1h-1.1zM228.0 312.6h1.1v1.1h-1.1zM220.6 305.3h1.1v1.1h-1.1zM226.7 311.6h1.1v1.1h-1.1zM221.6 313.2h1.1v1.1h-1.1zM221.5 303.0h1.1v1.1h-1.1zM228.6 297.7h1.1v1.1h-1.1zM227.4 300.9h1.1v1.1h-1.1zM224.5 299.5h1.1v1.1h-1.1zM222.8 312.6h1.1v1.1h-1.1zM223.5 301.5h1.1v1.1h-1.1zM221.0 320.3h1.1v1.1h-1.1zM231.0 315.3h1.1v1.1h-1.1zM224.9 303.0h1.1v1.1h-1.1zM231.4 305.3h1.1v1.1h-1.1zM221.1 303.5h1.1v1.1h-1.1zM232.1 320.4h1.1v1.1h-1.1zM222.1 312.0h1.1v1.1h-1.1zM223.4 294.2h1.1v1.1h-1.1zM231.0 302.8h1.1v1.1h-1.1zM224.7 315.4h1.1v1.1h-1.1zM227.8 301.2h1.1v1.1h-1.1zM227.2 304.3h1.1v1.1h-1.1zM226.8 298.5h1.1v1.1h-1.1zM229.7 313.9h1.1v1.1h-1.1zM218.8 304.7h1.1v1.1h-1.1zM221.3 297.4h1.1v1.1h-1.1zM223.2 307.7h1.1v1.1h-1.1zM223.3 302.2h1.1v1.1h-1.1zM223.2 291.0h1.1v1.1h-1.1zM226.6 304.5h1.1v1.1h-1.1zM224.4 316.7h1.1v1.1h-1.1zM232.4 298.6h1.1v1.1h-1.1zM231.3 315.0h1.1v1.1h-1.1zM224.5 290.3h1.1v1.1h-1.1zM226.9 311.7h1.1v1.1h-1.1zM221.2 308.2h1.1v1.1h-1.1zM231.5 302.3h1.1v1.1h-1.1zM232.8 315.9h1.1v1.1h-1.1zM227.6 319.0h1.1v1.1h-1.1zM225.4 313.5h1.1v1.1h-1.1zM230.9 298.5h1.1v1.1h-1.1zM225.2 294.4h1.1v1.1h-1.1zM232.6 314.2h1.1v1.1h-1.1zM224.2 317.7h1.1v1.1h-1.1zM224.1 298.6h1.1v1.1h-1.1zM224.1 315.1h1.1v1.1h-1.1zM227.0 318.8h1.1v1.1h-1.1zM222.2 309.5h1.1v1.1h-1.1zM225.8 315.0h1.1v1.1h-1.1zM229.8 309.5h1.1v1.1h-1.1zM228.3 312.7h1.1v1.1h-1.1zM229.6 298.4h1.1v1.1h-1.1zM226.6 305.5h1.1v1.1h-1.1zM230.6 289.5h1.1v1.1h-1.1zM228.8 313.6h1.1v1.1h-1.1zM230.2 307.7h1.1v1.1h-1.1zM230.4 318.9h1.1v1.1h-1.1zM221.3 312.6h1.1v1.1h-1.1zM232.3 311.8h1.1v1.1h-1.1zM226.9 304.9h1.1v1.1h-1.1zM224.7 314.4h1.1v1.1h-1.1zM217.8 300.3h1.1v1.1h-1.1zM223.9 301.2h1.1v1.1h-1.1zM229.1 298.1h1.1v1.1h-1.1zM228.1 309.2h1.1v1.1h-1.1zM227.4 298.7h1.1v1.1h-1.1zM226.2 299.2h1.1v1.1h-1.1zM229.5 300.4h1.1v1.1h-1.1zM225.1 307.7h1.1v1.1h-1.1zM225.3 296.0h1.1v1.1h-1.1zM228.5 298.9h1.1v1.1h-1.1zM228.0 318.5h1.1v1.1h-1.1zM230.2 301.9h1.1v1.1h-1.1zM231.5 305.1h1.1v1.1h-1.1zM226.6 312.1h1.1v1.1h-1.1zM229.9 311.1h1.1v1.1h-1.1zM228.3 316.9h1.1v1.1h-1.1zM224.7 297.2h1.1v1.1h-1.1zM225.7 314.1h1.1v1.1h-1.1zM221.8 304.1h1.1v1.1h-1.1zM223.7 307.9h1.1v1.1h-1.1zM225.3 317.4h1.1v1.1h-1.1zM230.8 299.7h1.1v1.1h-1.1zM226.8 316.8h1.1v1.1h-1.1zM226.4 303.5h1.1v1.1h-1.1zM229.5 316.4h1.1v1.1h-1.1zM223.5 317.4h1.1v1.1h-1.1zM229.2 298.9h1.1v1.1h-1.1zM229.4 314.5h1.1v1.1h-1.1zM231.7 299.8h1.1v1.1h-1.1zM229.1 306.9h1.1v1.1h-1.1zM230.4 317.3h1.1v1.1h-1.1zM227.3 291.9h1.1v1.1h-1.1zM228.1 316.0h1.1v1.1h-1.1zM231.5 292.4h1.1v1.1h-1.1zM222.2 316.7h1.1v1.1h-1.1zM225.6 308.3h1.1v1.1h-1.1zM227.1 317.6h1.1v1.1h-1.1zM223.8 314.7h1.1v1.1h-1.1zM222.5 296.1h1.1v1.1h-1.1zM226.2 309.5h1.1v1.1h-1.1zM226.8 293.0h1.1v1.1h-1.1zM225.2 311.6h1.1v1.1h-1.1zM230.3 297.0h1.1v1.1h-1.1zM225.7 313.0h1.1v1.1h-1.1zM227.6 318.5h1.1v1.1h-1.1zM234.9 299.2h1.1v1.1h-1.1zM228.7 297.5h1.1v1.1h-1.1zM227.7 315.4h1.1v1.1h-1.1zM227.0 313.5h1.1v1.1h-1.1zM224.7 312.8h1.1v1.1h-1.1zM224.6 316.0h1.1v1.1h-1.1zM224.1 306.6h1.1v1.1h-1.1zM225.6 317.4h1.1v1.1h-1.1zM229.6 294.0h1.1v1.1h-1.1zM221.0 292.3h1.1v1.1h-1.1zM226.5 310.0h1.1v1.1h-1.1zM222.7 302.2h1.1v1.1h-1.1zM230.7 308.6h1.1v1.1h-1.1zM228.1 299.4h1.1v1.1h-1.1zM220.9 319.0h1.1v1.1h-1.1zM226.0 318.7h1.1v1.1h-1.1zM223.8 300.6h1.1v1.1h-1.1zM231.6 311.5h1.1v1.1h-1.1zM233.5 305.0h1.1v1.1h-1.1zM224.0 296.5h1.1v1.1h-1.1zM222.1 295.7h1.1v1.1h-1.1zM224.6 316.4h1.1v1.1h-1.1zM227.9 293.9h1.1v1.1h-1.1zM228.1 314.1h1.1v1.1h-1.1zM221.7 298.3h1.1v1.1h-1.1zM226.5 290.7h1.1v1.1h-1.1zM224.2 296.5h1.1v1.1h-1.1zM222.6 306.3h1.1v1.1h-1.1zM228.2 318.6h1.1v1.1h-1.1zM222.8 315.4h1.1v1.1h-1.1zM230.9 312.9h1.1v1.1h-1.1zM229.9 307.6h1.1v1.1h-1.1zM225.3 295.1h1.1v1.1h-1.1zM225.0 317.5h1.1v1.1h-1.1zM223.9 293.7h1.1v1.1h-1.1zM225.5 298.7h1.1v1.1h-1.1zM229.5 308.7h1.1v1.1h-1.1zM227.1 320.0h1.1v1.1h-1.1zM221.2 304.4h1.1v1.1h-1.1zM225.5 302.5h1.1v1.1h-1.1zM224.8 295.5h1.1v1.1h-1.1zM226.3 294.8h1.1v1.1h-1.1zM224.8 298.0h1.1v1.1h-1.1zM233.4 314.6h1.1v1.1h-1.1zM223.9 299.9h1.1v1.1h-1.1zM223.6 308.3h1.1v1.1h-1.1zM223.3 297.1h1.1v1.1h-1.1zM224.0 311.4h1.1v1.1h-1.1zM219.0 307.2h1.1v1.1h-1.1zM230.4 320.3h1.1v1.1h-1.1zM227.4 306.6h1.1v1.1h-1.1zM227.0 292.8h1.1v1.1h-1.1zM229.3 297.3h1.1v1.1h-1.1zM225.3 312.8h1.1v1.1h-1.1zM232.3 314.2h1.1v1.1h-1.1zM229.0 318.1h1.1v1.1h-1.1zM226.7 301.7h1.1v1.1h-1.1zM230.7 294.1h1.1v1.1h-1.1zM224.7 310.8h1.1v1.1h-1.1zM224.9 304.6h1.1v1.1h-1.1zM222.7 309.2h1.1v1.1h-1.1zM224.6 300.5h1.1v1.1h-1.1zM234.9 320.3h1.1v1.1h-1.1zM226.6 295.5h1.1v1.1h-1.1zM226.2 296.2h1.1v1.1h-1.1zM222.1 314.6h1.1v1.1h-1.1zM226.3 313.0h1.1v1.1h-1.1zM225.8 305.5h1.1v1.1h-1.1zM226.5 310.1h1.1v1.1h-1.1zM223.1 314.9h1.1v1.1h-1.1zM228.2 291.8h1.1v1.1h-1.1zM230.7 319.7h1.1v1.1h-1.1zM223.7 300.8h1.1v1.1h-1.1zM225.6 302.7h1.1v1.1h-1.1zM228.8 315.4h1.1v1.1h-1.1zM228.7 300.3h1.1v1.1h-1.1zM223.4 317.0h1.1v1.1h-1.1zM223.0 318.7h1.1v1.1h-1.1zM222.3 295.5h1.1v1.1h-1.1zM224.9 303.0h1.1v1.1h-1.1zM227.8 295.9h1.1v1.1h-1.1zM224.5 309.0h1.1v1.1h-1.1zM224.5 303.8h1.1v1.1h-1.1zM226.1 303.0h1.1v1.1h-1.1zM227.4 291.4h1.1v1.1h-1.1zM232.3 313.9h1.1v1.1h-1.1zM228.3 300.1h1.1v1.1h-1.1zM231.0 300.9h1.1v1.1h-1.1zM221.0 295.8h1.1v1.1h-1.1zM226.2 300.0h1.1v1.1h-1.1zM227.4 309.4h1.1v1.1h-1.1zM227.5 293.0h1.1v1.1h-1.1zM227.6 308.9h1.1v1.1h-1.1zM225.4 307.7h1.1v1.1h-1.1zM229.0 295.0h1.1v1.1h-1.1zM223.0 317.7h1.1v1.1h-1.1zM226.8 297.0h1.1v1.1h-1.1zM224.8 315.7h1.1v1.1h-1.1zM227.7 312.0h1.1v1.1h-1.1zM229.5 303.7h1.1v1.1h-1.1zM226.2 311.3h1.1v1.1h-1.1zM228.2 308.4h1.1v1.1h-1.1zM226.1 293.9h1.1v1.1h-1.1zM227.6 296.6h1.1v1.1h-1.1zM216.9 291.2h1.1v1.1h-1.1zM231.0 300.7h1.1v1.1h-1.1zM229.2 295.2h1.1v1.1h-1.1zM227.3 304.3h1.1v1.1h-1.1zM225.9 311.8h1.1v1.1h-1.1zM226.2 291.7h1.1v1.1h-1.1zM223.0 295.7h1.1v1.1h-1.1zM233.5 314.0h1.1v1.1h-1.1zM226.6 314.3h1.1v1.1h-1.1zM229.8 307.6h1.1v1.1h-1.1zM222.2 307.1h1.1v1.1h-1.1zM220.7 291.6h1.1v1.1h-1.1zM227.3 294.1h1.1v1.1h-1.1zM223.4 308.2h1.1v1.1h-1.1zM230.1 309.8h1.1v1.1h-1.1zM225.8 301.4h1.1v1.1h-1.1zM229.1 293.8h1.1v1.1h-1.1zM224.9 316.2h1.1v1.1h-1.1zM224.8 317.0h1.1v1.1h-1.1zM226.1 302.3h1.1v1.1h-1.1zM231.5 289.8h1.1v1.1h-1.1zM232.7 319.1h1.1v1.1h-1.1zM223.1 316.3h1.1v1.1h-1.1zM220.2 317.1h1.1v1.1h-1.1zM230.0 308.8h1.1v1.1h-1.1zM228.9 304.5h1.1v1.1h-1.1zM225.1 305.1h1.1v1.1h-1.1zM226.2 297.0h1.1v1.1h-1.1zM224.5 302.9h1.1v1.1h-1.1zM231.7 306.4h1.1v1.1h-1.1zM222.5 312.6h1.1v1.1h-1.1zM224.6 300.6h1.1v1.1h-1.1zM229.4 301.7h1.1v1.1h-1.1zM223.0 313.2h1.1v1.1h-1.1zM229.7 313.4h1.1v1.1h-1.1zM229.1 301.1h1.1v1.1h-1.1zM224.1 313.5h1.1v1.1h-1.1zM221.7 298.6h1.1v1.1h-1.1zM222.6 309.3h1.1v1.1h-1.1zM227.4 300.9h1.1v1.1h-1.1zM225.4 294.3h1.1v1.1h-1.1zM225.1 314.6h1.1v1.1h-1.1zM227.6 297.4h1.1v1.1h-1.1zM222.6 314.7h1.1v1.1h-1.1zM230.0 301.8h1.1v1.1h-1.1zM222.5 315.4h1.1v1.1h-1.1zM227.5 315.1h1.1v1.1h-1.1zM226.0 301.7h1.1v1.1h-1.1zM233.4 294.9h1.1v1.1h-1.1zM231.7 314.7h1.1v1.1h-1.1zM227.2 316.5h1.1v1.1h-1.1zM227.4 313.5h1.1v1.1h-1.1zM227.5 316.2h1.1v1.1h-1.1zM226.9 308.8h1.1v1.1h-1.1zM226.6 302.5h1.1v1.1h-1.1zM223.4 302.3h1.1v1.1h-1.1zM224.8 310.5h1.1v1.1h-1.1zM222.4 290.4h1.1v1.1h-1.1zM232.3 301.0h1.1v1.1h-1.1zM230.5 318.6h1.1v1.1h-1.1zM227.1 308.0h1.1v1.1h-1.1zM222.9 299.1h1.1v1.1h-1.1zM227.8 307.3h1.1v1.1h-1.1zM227.8 298.7h1.1v1.1h-1.1zM236.9 262.8h1.1v1.1h-1.1zM240.9 268.4h1.1v1.1h-1.1zM237.6 255.4h1.1v1.1h-1.1zM222.0 257.3h1.1v1.1h-1.1zM252.8 280.5h1.1v1.1h-1.1zM235.5 251.6h1.1v1.1h-1.1zM234.2 241.8h1.1v1.1h-1.1zM236.0 269.3h1.1v1.1h-1.1zM225.7 282.3h1.1v1.1h-1.1zM217.3 239.3h1.1v1.1h-1.1zM240.3 243.6h1.1v1.1h-1.1zM215.7 299.2h1.1v1.1h-1.1zM239.4 281.9h1.1v1.1h-1.1zM232.2 243.1h1.1v1.1h-1.1zM237.2 269.5h1.1v1.1h-1.1zM223.9 274.1h1.1v1.1h-1.1zM237.3 270.1h1.1v1.1h-1.1zM241.7 283.0h1.1v1.1h-1.1zM219.0 282.2h1.1v1.1h-1.1zM227.4 307.7h1.1v1.1h-1.1zM198.2 262.9h1.1v1.1h-1.1zM239.0 296.1h1.1v1.1h-1.1zM220.4 271.0h1.1v1.1h-1.1zM237.3 256.9h1.1v1.1h-1.1zM240.1 253.6h1.1v1.1h-1.1zM223.5 299.7h1.1v1.1h-1.1zM223.0 262.1h1.1v1.1h-1.1zM257.8 301.5h1.1v1.1h-1.1zM228.0 279.0h1.1v1.1h-1.1zM223.8 244.4h1.1v1.1h-1.1z" fill="#333" fill-opacity="0.62"/>
<g clip-path="url(#cp2)"><ellipse cx="349" cy="248" rx="4.5" ry="16" fill="#555" fill-opacity="0.25" filter="url(#bl)"/></g>
<g clip-path="url(#cp2)"><ellipse cx="349.5" cy="305" rx="5" ry="13" fill="#555" fill-opacity="0.4" filter="url(#bl)"/></g>
<path d="M355.0 245.2h1.1v1.1h-1.1zM353.2 243.3h1.1v1.1h-1.1zM350.0 247.9h1.1v1.1h-1.1zM345.8 264.3h1.1v1.1h-1.1zM355.5 251.7h1.1v1.1h-1.1zM345.7 255.1h1.1v1.1h-1.1zM350.1 270.7h1.1v1.1h-1.1zM344.8 280.6h1.1v1.1h-1.1zM349.4 255.0h1.1v1.1h-1.1zM343.6 236.6h1.1v1.1h-1.1zM346.8 242.6h1.1v1.1h-1.1zM353.3 263.8h1.1v1.1h-1.1zM347.9 245.3h1.1v1.1h-1.1zM347.6 254.8h1.1v1.1h-1.1zM344.2 244.9h1.1v1.1h-1.1zM344.4 263.4h1.1v1.1h-1.1zM350.8 237.7h1.1v1.1h-1.1zM345.5 260.2h1.1v1.1h-1.1zM347.7 257.3h1.1v1.1h-1.1zM352.7 267.1h1.1v1.1h-1.1zM344.1 235.7h1.1v1.1h-1.1zM356.8 268.6h1.1v1.1h-1.1zM344.3 239.9h1.1v1.1h-1.1zM345.4 231.5h1.1v1.1h-1.1zM345.3 273.7h1.1v1.1h-1.1zM357.6 277.7h1.1v1.1h-1.1zM349.3 249.4h1.1v1.1h-1.1zM350.5 235.2h1.1v1.1h-1.1zM350.9 236.5h1.1v1.1h-1.1zM344.7 248.1h1.1v1.1h-1.1zM349.6 279.0h1.1v1.1h-1.1zM358.1 271.9h1.1v1.1h-1.1zM347.0 273.4h1.1v1.1h-1.1zM346.0 236.3h1.1v1.1h-1.1zM347.7 263.4h1.1v1.1h-1.1zM350.8 264.0h1.1v1.1h-1.1zM358.0 255.7h1.1v1.1h-1.1zM341.3 244.3h1.1v1.1h-1.1zM344.8 241.9h1.1v1.1h-1.1zM357.7 242.3h1.1v1.1h-1.1zM348.3 246.9h1.1v1.1h-1.1zM341.7 230.5h1.1v1.1h-1.1zM351.8 276.3h1.1v1.1h-1.1zM343.1 247.8h1.1v1.1h-1.1zM348.4 250.2h1.1v1.1h-1.1zM350.6 277.2h1.1v1.1h-1.1zM355.4 273.3h1.1v1.1h-1.1zM347.1 248.8h1.1v1.1h-1.1zM345.2 242.7h1.1v1.1h-1.1zM347.4 248.5h1.1v1.1h-1.1zM349.1 256.6h1.1v1.1h-1.1zM344.3 244.2h1.1v1.1h-1.1zM347.8 261.4h1.1v1.1h-1.1zM356.9 270.7h1.1v1.1h-1.1zM343.3 270.6h1.1v1.1h-1.1zM340.4 250.7h1.1v1.1h-1.1zM350.7 241.1h1.1v1.1h-1.1zM351.2 257.9h1.1v1.1h-1.1zM351.2 275.8h1.1v1.1h-1.1zM347.1 237.9h1.1v1.1h-1.1zM347.9 253.0h1.1v1.1h-1.1zM348.4 256.9h1.1v1.1h-1.1zM351.0 280.3h1.1v1.1h-1.1zM347.5 269.0h1.1v1.1h-1.1zM345.2 241.3h1.1v1.1h-1.1zM354.4 269.3h1.1v1.1h-1.1zM352.4 263.1h1.1v1.1h-1.1zM343.4 230.7h1.1v1.1h-1.1zM346.2 234.3h1.1v1.1h-1.1zM341.7 236.7h1.1v1.1h-1.1zM349.6 231.8h1.1v1.1h-1.1zM350.8 244.9h1.1v1.1h-1.1zM352.4 242.1h1.1v1.1h-1.1zM342.8 250.2h1.1v1.1h-1.1zM348.6 235.3h1.1v1.1h-1.1zM352.4 249.5h1.1v1.1h-1.1zM349.6 273.3h1.1v1.1h-1.1zM344.1 231.1h1.1v1.1h-1.1zM352.0 278.9h1.1v1.1h-1.1zM346.7 235.3h1.1v1.1h-1.1zM351.2 250.1h1.1v1.1h-1.1zM350.0 273.5h1.1v1.1h-1.1zM346.4 252.9h1.1v1.1h-1.1zM347.7 263.3h1.1v1.1h-1.1zM354.0 260.7h1.1v1.1h-1.1zM351.6 278.2h1.1v1.1h-1.1zM349.8 277.8h1.1v1.1h-1.1zM343.8 260.9h1.1v1.1h-1.1zM351.3 256.0h1.1v1.1h-1.1zM346.9 268.0h1.1v1.1h-1.1zM344.6 262.7h1.1v1.1h-1.1zM349.1 228.5h1.1v1.1h-1.1zM350.9 261.3h1.1v1.1h-1.1zM355.9 265.1h1.1v1.1h-1.1zM346.5 242.3h1.1v1.1h-1.1zM346.7 235.3h1.1v1.1h-1.1zM351.0 283.7h1.1v1.1h-1.1zM352.2 250.1h1.1v1.1h-1.1zM350.0 255.7h1.1v1.1h-1.1zM358.4 256.1h1.1v1.1h-1.1zM349.8 248.7h1.1v1.1h-1.1zM354.9 281.0h1.1v1.1h-1.1zM353.6 272.2h1.1v1.1h-1.1zM349.2 244.8h1.1v1.1h-1.1zM347.1 254.6h1.1v1.1h-1.1zM345.8 253.4h1.1v1.1h-1.1zM347.7 235.3h1.1v1.1h-1.1zM348.3 281.8h1.1v1.1h-1.1zM349.6 259.4h1.1v1.1h-1.1zM347.3 254.9h1.1v1.1h-1.1zM347.9 261.1h1.1v1.1h-1.1zM352.0 281.1h1.1v1.1h-1.1zM350.0 270.3h1.1v1.1h-1.1zM348.3 235.6h1.1v1.1h-1.1zM349.8 237.5h1.1v1.1h-1.1zM352.4 234.8h1.1v1.1h-1.1zM344.7 237.4h1.1v1.1h-1.1zM355.7 243.1h1.1v1.1h-1.1zM346.3 231.5h1.1v1.1h-1.1zM352.7 278.7h1.1v1.1h-1.1zM350.6 277.1h1.1v1.1h-1.1zM346.1 264.4h1.1v1.1h-1.1zM348.5 243.0h1.1v1.1h-1.1zM353.8 252.5h1.1v1.1h-1.1zM353.9 245.0h1.1v1.1h-1.1zM343.9 234.4h1.1v1.1h-1.1zM351.5 243.4h1.1v1.1h-1.1zM345.4 256.3h1.1v1.1h-1.1zM347.0 252.9h1.1v1.1h-1.1zM343.0 287.7h1.1v1.1h-1.1zM356.9 280.7h1.1v1.1h-1.1zM361.9 264.6h1.1v1.1h-1.1zM344.8 265.6h1.1v1.1h-1.1zM346.3 234.2h1.1v1.1h-1.1zM346.8 242.3h1.1v1.1h-1.1zM347.2 254.2h1.1v1.1h-1.1zM352.1 267.1h1.1v1.1h-1.1zM348.3 264.5h1.1v1.1h-1.1zM347.5 241.4h1.1v1.1h-1.1zM352.9 250.2h1.1v1.1h-1.1zM346.4 268.5h1.1v1.1h-1.1zM348.9 259.0h1.1v1.1h-1.1zM348.7 284.6h1.1v1.1h-1.1zM351.5 279.9h1.1v1.1h-1.1zM342.4 242.1h1.1v1.1h-1.1zM343.3 282.7h1.1v1.1h-1.1zM344.3 244.3h1.1v1.1h-1.1zM353.5 243.8h1.1v1.1h-1.1zM345.1 277.0h1.1v1.1h-1.1zM352.4 239.8h1.1v1.1h-1.1zM349.9 240.2h1.1v1.1h-1.1zM345.6 237.2h1.1v1.1h-1.1zM356.2 273.8h1.1v1.1h-1.1zM352.3 245.4h1.1v1.1h-1.1zM349.3 227.9h1.1v1.1h-1.1zM345.2 230.9h1.1v1.1h-1.1zM347.3 230.4h1.1v1.1h-1.1zM348.8 243.8h1.1v1.1h-1.1zM347.2 266.0h1.1v1.1h-1.1zM358.2 241.3h1.1v1.1h-1.1zM348.4 253.6h1.1v1.1h-1.1zM347.5 236.1h1.1v1.1h-1.1zM344.1 269.2h1.1v1.1h-1.1zM347.1 259.7h1.1v1.1h-1.1zM352.9 258.5h1.1v1.1h-1.1zM343.5 238.8h1.1v1.1h-1.1zM345.8 270.0h1.1v1.1h-1.1zM345.4 280.7h1.1v1.1h-1.1zM347.1 248.7h1.1v1.1h-1.1zM353.2 233.1h1.1v1.1h-1.1zM345.4 278.4h1.1v1.1h-1.1zM345.9 280.9h1.1v1.1h-1.1zM345.6 254.5h1.1v1.1h-1.1zM343.3 232.4h1.1v1.1h-1.1zM341.0 240.9h1.1v1.1h-1.1zM351.6 237.6h1.1v1.1h-1.1zM344.9 253.8h1.1v1.1h-1.1zM343.7 254.3h1.1v1.1h-1.1zM347.9 239.8h1.1v1.1h-1.1zM348.3 232.8h1.1v1.1h-1.1zM353.7 251.2h1.1v1.1h-1.1zM343.5 253.8h1.1v1.1h-1.1zM352.4 261.4h1.1v1.1h-1.1zM352.2 253.8h1.1v1.1h-1.1zM353.6 255.6h1.1v1.1h-1.1zM353.4 284.3h1.1v1.1h-1.1zM348.7 230.2h1.1v1.1h-1.1zM343.9 253.9h1.1v1.1h-1.1zM345.8 283.5h1.1v1.1h-1.1zM349.5 262.9h1.1v1.1h-1.1zM347.5 242.9h1.1v1.1h-1.1zM352.1 257.2h1.1v1.1h-1.1zM352.6 253.8h1.1v1.1h-1.1zM348.5 272.2h1.1v1.1h-1.1zM341.3 266.0h1.1v1.1h-1.1zM351.9 274.7h1.1v1.1h-1.1zM357.8 264.8h1.1v1.1h-1.1zM348.0 275.6h1.1v1.1h-1.1zM351.3 259.5h1.1v1.1h-1.1zM347.2 269.5h1.1v1.1h-1.1zM347.0 261.2h1.1v1.1h-1.1zM344.9 273.5h1.1v1.1h-1.1zM349.1 228.1h1.1v1.1h-1.1zM348.6 271.7h1.1v1.1h-1.1zM345.4 253.6h1.1v1.1h-1.1zM349.3 268.1h1.1v1.1h-1.1zM347.7 247.1h1.1v1.1h-1.1zM350.8 275.3h1.1v1.1h-1.1zM353.4 273.2h1.1v1.1h-1.1zM343.9 240.8h1.1v1.1h-1.1zM353.7 261.1h1.1v1.1h-1.1zM340.8 282.4h1.1v1.1h-1.1zM348.0 240.6h1.1v1.1h-1.1zM346.5 248.4h1.1v1.1h-1.1zM340.4 260.4h1.1v1.1h-1.1zM352.3 229.7h1.1v1.1h-1.1zM356.3 282.5h1.1v1.1h-1.1zM346.0 246.5h1.1v1.1h-1.1zM350.0 232.0h1.1v1.1h-1.1zM353.7 235.3h1.1v1.1h-1.1zM354.0 263.5h1.1v1.1h-1.1zM354.6 259.2h1.1v1.1h-1.1zM358.6 275.1h1.1v1.1h-1.1zM349.9 273.6h1.1v1.1h-1.1zM348.3 277.1h1.1v1.1h-1.1zM344.3 271.6h1.1v1.1h-1.1zM349.5 276.6h1.1v1.1h-1.1zM348.2 276.4h1.1v1.1h-1.1zM342.6 265.0h1.1v1.1h-1.1zM352.0 259.9h1.1v1.1h-1.1zM346.4 240.9h1.1v1.1h-1.1zM353.8 229.0h1.1v1.1h-1.1zM348.8 254.4h1.1v1.1h-1.1zM347.6 238.4h1.1v1.1h-1.1zM349.7 228.6h1.1v1.1h-1.1zM347.9 245.4h1.1v1.1h-1.1zM347.1 255.5h1.1v1.1h-1.1zM341.3 245.1h1.1v1.1h-1.1zM349.5 245.2h1.1v1.1h-1.1zM343.7 255.4h1.1v1.1h-1.1zM349.3 244.7h1.1v1.1h-1.1zM348.5 238.5h1.1v1.1h-1.1zM347.7 239.1h1.1v1.1h-1.1zM348.6 253.8h1.1v1.1h-1.1zM351.4 236.1h1.1v1.1h-1.1zM347.5 242.6h1.1v1.1h-1.1zM346.9 247.0h1.1v1.1h-1.1zM350.0 229.7h1.1v1.1h-1.1zM349.6 232.4h1.1v1.1h-1.1zM347.8 238.0h1.1v1.1h-1.1zM346.0 246.4h1.1v1.1h-1.1zM347.2 254.8h1.1v1.1h-1.1zM349.3 248.9h1.1v1.1h-1.1zM346.9 257.7h1.1v1.1h-1.1zM345.5 235.0h1.1v1.1h-1.1zM341.9 254.4h1.1v1.1h-1.1zM352.6 238.8h1.1v1.1h-1.1zM341.2 235.5h1.1v1.1h-1.1zM348.4 248.2h1.1v1.1h-1.1zM352.3 247.7h1.1v1.1h-1.1zM348.8 237.4h1.1v1.1h-1.1zM337.4 252.1h1.1v1.1h-1.1zM344.6 242.9h1.1v1.1h-1.1zM353.0 227.7h1.1v1.1h-1.1zM347.0 244.9h1.1v1.1h-1.1zM344.2 232.1h1.1v1.1h-1.1zM353.7 236.5h1.1v1.1h-1.1zM346.8 251.0h1.1v1.1h-1.1zM347.5 250.5h1.1v1.1h-1.1zM339.9 245.5h1.1v1.1h-1.1zM356.1 231.8h1.1v1.1h-1.1zM338.3 244.8h1.1v1.1h-1.1zM354.3 255.8h1.1v1.1h-1.1zM343.3 229.5h1.1v1.1h-1.1zM338.0 254.7h1.1v1.1h-1.1zM356.2 244.4h1.1v1.1h-1.1zM350.1 235.0h1.1v1.1h-1.1zM349.8 237.1h1.1v1.1h-1.1zM348.6 233.0h1.1v1.1h-1.1zM346.3 244.8h1.1v1.1h-1.1zM350.5 229.7h1.1v1.1h-1.1zM357.9 253.7h1.1v1.1h-1.1zM349.2 249.6h1.1v1.1h-1.1zM344.0 247.4h1.1v1.1h-1.1zM355.9 229.7h1.1v1.1h-1.1zM345.9 236.3h1.1v1.1h-1.1zM349.7 243.9h1.1v1.1h-1.1zM343.2 240.7h1.1v1.1h-1.1zM337.7 249.4h1.1v1.1h-1.1zM345.3 245.8h1.1v1.1h-1.1zM346.4 244.4h1.1v1.1h-1.1zM353.5 238.0h1.1v1.1h-1.1zM344.4 239.8h1.1v1.1h-1.1zM348.5 249.0h1.1v1.1h-1.1zM344.2 242.4h1.1v1.1h-1.1zM353.6 240.7h1.1v1.1h-1.1zM348.9 244.6h1.1v1.1h-1.1zM350.5 248.2h1.1v1.1h-1.1zM350.2 225.6h1.1v1.1h-1.1zM349.1 255.9h1.1v1.1h-1.1zM343.9 245.6h1.1v1.1h-1.1zM347.3 241.5h1.1v1.1h-1.1zM353.9 246.8h1.1v1.1h-1.1zM347.0 234.7h1.1v1.1h-1.1zM355.0 234.8h1.1v1.1h-1.1zM348.0 244.8h1.1v1.1h-1.1zM343.0 238.2h1.1v1.1h-1.1zM348.7 244.4h1.1v1.1h-1.1zM347.4 242.2h1.1v1.1h-1.1zM348.0 230.8h1.1v1.1h-1.1zM347.7 250.5h1.1v1.1h-1.1zM348.8 247.1h1.1v1.1h-1.1zM351.6 255.4h1.1v1.1h-1.1zM342.4 245.7h1.1v1.1h-1.1zM344.3 253.9h1.1v1.1h-1.1zM343.7 235.4h1.1v1.1h-1.1zM344.5 248.4h1.1v1.1h-1.1zM352.4 262.1h1.1v1.1h-1.1zM346.2 233.3h1.1v1.1h-1.1zM347.3 239.2h1.1v1.1h-1.1zM347.0 247.0h1.1v1.1h-1.1zM348.9 240.9h1.1v1.1h-1.1zM340.9 247.5h1.1v1.1h-1.1zM349.8 229.5h1.1v1.1h-1.1zM347.6 247.5h1.1v1.1h-1.1zM347.5 235.5h1.1v1.1h-1.1zM347.9 234.7h1.1v1.1h-1.1zM348.8 231.6h1.1v1.1h-1.1zM340.0 258.2h1.1v1.1h-1.1zM356.7 243.0h1.1v1.1h-1.1zM353.4 243.9h1.1v1.1h-1.1zM343.3 250.9h1.1v1.1h-1.1zM347.4 247.0h1.1v1.1h-1.1zM349.6 232.1h1.1v1.1h-1.1zM348.7 232.7h1.1v1.1h-1.1zM355.2 245.1h1.1v1.1h-1.1zM349.4 250.9h1.1v1.1h-1.1zM351.6 242.0h1.1v1.1h-1.1zM345.1 230.3h1.1v1.1h-1.1zM345.7 235.5h1.1v1.1h-1.1zM347.9 230.2h1.1v1.1h-1.1zM349.9 251.5h1.1v1.1h-1.1zM343.2 234.5h1.1v1.1h-1.1zM349.6 248.5h1.1v1.1h-1.1zM347.5 245.0h1.1v1.1h-1.1zM344.7 252.5h1.1v1.1h-1.1zM346.3 239.7h1.1v1.1h-1.1zM348.3 238.0h1.1v1.1h-1.1zM348.5 237.5h1.1v1.1h-1.1zM351.0 245.5h1.1v1.1h-1.1zM345.3 241.4h1.1v1.1h-1.1zM355.5 229.4h1.1v1.1h-1.1zM347.1 255.0h1.1v1.1h-1.1zM346.8 232.3h1.1v1.1h-1.1zM348.2 261.5h1.1v1.1h-1.1zM349.1 241.6h1.1v1.1h-1.1zM346.8 248.2h1.1v1.1h-1.1zM349.9 250.0h1.1v1.1h-1.1zM349.2 240.9h1.1v1.1h-1.1zM350.3 236.1h1.1v1.1h-1.1zM357.0 243.5h1.1v1.1h-1.1zM348.1 247.5h1.1v1.1h-1.1zM351.3 247.1h1.1v1.1h-1.1zM350.3 245.4h1.1v1.1h-1.1zM348.5 252.5h1.1v1.1h-1.1zM345.3 244.3h1.1v1.1h-1.1zM341.7 239.8h1.1v1.1h-1.1zM347.9 234.8h1.1v1.1h-1.1zM354.7 235.0h1.1v1.1h-1.1zM344.3 238.6h1.1v1.1h-1.1zM347.5 245.8h1.1v1.1h-1.1zM352.6 234.8h1.1v1.1h-1.1zM355.9 252.6h1.1v1.1h-1.1zM349.3 240.6h1.1v1.1h-1.1zM347.6 236.4h1.1v1.1h-1.1zM341.1 238.6h1.1v1.1h-1.1zM345.7 249.6h1.1v1.1h-1.1zM347.2 237.5h1.1v1.1h-1.1zM345.6 236.0h1.1v1.1h-1.1zM351.1 241.4h1.1v1.1h-1.1zM356.6 258.3h1.1v1.1h-1.1zM356.5 268.4h1.1v1.1h-1.1zM361.4 274.8h1.1v1.1h-1.1zM361.9 282.6h1.1v1.1h-1.1zM363.9 272.3h1.1v1.1h-1.1zM359.0 256.8h1.1v1.1h-1.1zM359.1 283.7h1.1v1.1h-1.1zM343.3 267.6h1.1v1.1h-1.1zM353.8 273.1h1.1v1.1h-1.1zM362.3 258.9h1.1v1.1h-1.1zM369.4 256.3h1.1v1.1h-1.1zM359.3 277.5h1.1v1.1h-1.1zM359.8 259.7h1.1v1.1h-1.1zM363.0 243.8h1.1v1.1h-1.1zM357.0 244.4h1.1v1.1h-1.1zM369.2 281.3h1.1v1.1h-1.1zM365.4 275.6h1.1v1.1h-1.1zM356.1 250.8h1.1v1.1h-1.1zM354.5 249.7h1.1v1.1h-1.1zM357.0 258.1h1.1v1.1h-1.1zM362.4 256.8h1.1v1.1h-1.1zM359.2 248.1h1.1v1.1h-1.1zM358.9 251.8h1.1v1.1h-1.1zM355.7 261.2h1.1v1.1h-1.1zM354.6 262.4h1.1v1.1h-1.1zM362.7 246.9h1.1v1.1h-1.1zM342.5 278.0h1.1v1.1h-1.1zM371.2 251.3h1.1v1.1h-1.1zM365.1 272.0h1.1v1.1h-1.1zM355.8 244.4h1.1v1.1h-1.1zM370.6 264.9h1.1v1.1h-1.1zM349.5 268.6h1.1v1.1h-1.1zM358.9 252.4h1.1v1.1h-1.1zM370.4 267.4h1.1v1.1h-1.1zM356.8 265.7h1.1v1.1h-1.1zM369.7 293.9h1.1v1.1h-1.1zM356.7 253.1h1.1v1.1h-1.1zM364.8 284.1h1.1v1.1h-1.1zM353.0 247.2h1.1v1.1h-1.1zM361.2 271.9h1.1v1.1h-1.1zM357.5 261.7h1.1v1.1h-1.1zM355.2 264.2h1.1v1.1h-1.1zM359.8 261.9h1.1v1.1h-1.1zM368.0 254.8h1.1v1.1h-1.1zM356.8 258.2h1.1v1.1h-1.1zM354.6 247.7h1.1v1.1h-1.1zM353.6 262.4h1.1v1.1h-1.1zM346.2 260.2h1.1v1.1h-1.1zM365.3 281.5h1.1v1.1h-1.1zM352.9 266.9h1.1v1.1h-1.1zM357.5 276.4h1.1v1.1h-1.1zM352.3 248.5h1.1v1.1h-1.1zM362.5 252.1h1.1v1.1h-1.1zM339.1 258.9h1.1v1.1h-1.1zM357.2 264.3h1.1v1.1h-1.1zM354.5 271.9h1.1v1.1h-1.1zM361.4 271.5h1.1v1.1h-1.1zM370.2 268.3h1.1v1.1h-1.1zM344.7 264.6h1.1v1.1h-1.1zM353.9 242.1h1.1v1.1h-1.1zM357.3 251.0h1.1v1.1h-1.1zM356.5 253.2h1.1v1.1h-1.1zM349.4 256.1h1.1v1.1h-1.1zM357.6 254.2h1.1v1.1h-1.1zM350.8 282.1h1.1v1.1h-1.1zM362.6 228.2h1.1v1.1h-1.1zM360.0 268.0h1.1v1.1h-1.1zM364.5 274.9h1.1v1.1h-1.1zM356.8 243.2h1.1v1.1h-1.1zM358.3 246.6h1.1v1.1h-1.1zM346.8 309.1h1.1v1.1h-1.1zM347.1 307.7h1.1v1.1h-1.1zM348.6 312.0h1.1v1.1h-1.1zM351.5 300.2h1.1v1.1h-1.1zM352.5 305.2h1.1v1.1h-1.1zM357.0 298.4h1.1v1.1h-1.1zM350.2 294.2h1.1v1.1h-1.1zM351.1 298.5h1.1v1.1h-1.1zM350.2 300.1h1.1v1.1h-1.1zM348.3 318.4h1.1v1.1h-1.1zM350.7 303.0h1.1v1.1h-1.1zM347.0 318.2h1.1v1.1h-1.1zM342.9 295.3h1.1v1.1h-1.1zM351.3 302.4h1.1v1.1h-1.1zM343.7 316.9h1.1v1.1h-1.1zM343.2 286.9h1.1v1.1h-1.1zM350.1 310.5h1.1v1.1h-1.1zM348.0 289.9h1.1v1.1h-1.1zM345.7 313.6h1.1v1.1h-1.1zM347.3 319.9h1.1v1.1h-1.1zM347.3 289.5h1.1v1.1h-1.1zM346.8 299.2h1.1v1.1h-1.1zM353.0 292.3h1.1v1.1h-1.1zM353.2 305.9h1.1v1.1h-1.1zM355.2 316.2h1.1v1.1h-1.1zM346.2 303.5h1.1v1.1h-1.1zM348.3 298.0h1.1v1.1h-1.1zM345.6 299.5h1.1v1.1h-1.1zM349.9 300.3h1.1v1.1h-1.1zM352.4 307.3h1.1v1.1h-1.1zM346.8 310.4h1.1v1.1h-1.1zM347.9 295.0h1.1v1.1h-1.1zM352.0 314.7h1.1v1.1h-1.1zM348.2 303.5h1.1v1.1h-1.1zM351.5 295.3h1.1v1.1h-1.1zM353.5 296.3h1.1v1.1h-1.1zM350.1 299.3h1.1v1.1h-1.1zM347.2 315.3h1.1v1.1h-1.1zM360.3 318.4h1.1v1.1h-1.1zM346.0 304.5h1.1v1.1h-1.1zM355.6 299.7h1.1v1.1h-1.1zM345.4 299.2h1.1v1.1h-1.1zM351.8 305.7h1.1v1.1h-1.1zM345.1 298.1h1.1v1.1h-1.1zM345.5 287.6h1.1v1.1h-1.1zM352.2 290.2h1.1v1.1h-1.1zM348.4 313.5h1.1v1.1h-1.1zM352.6 295.8h1.1v1.1h-1.1zM342.8 300.3h1.1v1.1h-1.1zM345.7 313.2h1.1v1.1h-1.1zM350.1 292.9h1.1v1.1h-1.1zM348.2 292.9h1.1v1.1h-1.1zM350.7 306.0h1.1v1.1h-1.1zM345.9 320.4h1.1v1.1h-1.1zM349.2 291.0h1.1v1.1h-1.1zM353.3 318.1h1.1v1.1h-1.1zM347.4 301.0h1.1v1.1h-1.1zM356.2 292.5h1.1v1.1h-1.1zM344.9 318.4h1.1v1.1h-1.1zM351.1 297.2h1.1v1.1h-1.1zM353.3 300.4h1.1v1.1h-1.1zM351.8 318.7h1.1v1.1h-1.1zM345.6 307.5h1.1v1.1h-1.1zM348.2 294.6h1.1v1.1h-1.1zM354.2 293.9h1.1v1.1h-1.1zM347.4 300.7h1.1v1.1h-1.1zM349.7 316.9h1.1v1.1h-1.1zM349.9 317.2h1.1v1.1h-1.1zM345.4 289.9h1.1v1.1h-1.1zM356.8 291.2h1.1v1.1h-1.1zM353.2 313.1h1.1v1.1h-1.1zM350.7 313.2h1.1v1.1h-1.1zM351.4 309.3h1.1v1.1h-1.1zM350.7 292.6h1.1v1.1h-1.1zM347.9 298.3h1.1v1.1h-1.1zM347.9 301.6h1.1v1.1h-1.1zM346.3 302.5h1.1v1.1h-1.1zM344.7 318.6h1.1v1.1h-1.1zM348.6 313.1h1.1v1.1h-1.1zM354.1 299.8h1.1v1.1h-1.1zM352.2 296.5h1.1v1.1h-1.1zM342.8 290.4h1.1v1.1h-1.1zM347.2 315.6h1.1v1.1h-1.1zM343.5 293.0h1.1v1.1h-1.1zM351.4 299.6h1.1v1.1h-1.1zM351.2 311.9h1.1v1.1h-1.1zM353.7 298.2h1.1v1.1h-1.1zM347.1 314.0h1.1v1.1h-1.1zM353.9 307.6h1.1v1.1h-1.1zM348.2 311.3h1.1v1.1h-1.1zM344.9 299.7h1.1v1.1h-1.1zM350.8 299.2h1.1v1.1h-1.1zM347.9 303.1h1.1v1.1h-1.1zM348.9 300.7h1.1v1.1h-1.1zM350.8 319.2h1.1v1.1h-1.1zM344.0 307.9h1.1v1.1h-1.1zM349.0 311.4h1.1v1.1h-1.1zM356.3 288.6h1.1v1.1h-1.1zM348.2 289.7h1.1v1.1h-1.1zM348.1 288.9h1.1v1.1h-1.1zM352.2 310.8h1.1v1.1h-1.1zM347.8 300.6h1.1v1.1h-1.1zM355.5 309.4h1.1v1.1h-1.1zM346.0 304.6h1.1v1.1h-1.1zM345.6 316.2h1.1v1.1h-1.1zM345.0 307.4h1.1v1.1h-1.1zM350.0 307.7h1.1v1.1h-1.1zM354.8 291.3h1.1v1.1h-1.1zM358.5 310.7h1.1v1.1h-1.1zM350.1 310.4h1.1v1.1h-1.1zM348.0 288.9h1.1v1.1h-1.1zM350.0 295.9h1.1v1.1h-1.1zM345.3 319.3h1.1v1.1h-1.1zM354.4 301.7h1.1v1.1h-1.1zM348.0 304.4h1.1v1.1h-1.1zM348.1 312.3h1.1v1.1h-1.1zM351.2 291.5h1.1v1.1h-1.1zM348.9 305.7h1.1v1.1h-1.1zM352.2 319.9h1.1v1.1h-1.1zM350.8 288.7h1.1v1.1h-1.1zM355.0 304.5h1.1v1.1h-1.1zM347.6 305.1h1.1v1.1h-1.1zM343.8 311.1h1.1v1.1h-1.1zM350.2 301.9h1.1v1.1h-1.1zM350.6 286.6h1.1v1.1h-1.1zM343.3 296.8h1.1v1.1h-1.1zM345.4 317.1h1.1v1.1h-1.1zM355.8 293.4h1.1v1.1h-1.1zM353.8 298.1h1.1v1.1h-1.1zM346.6 292.7h1.1v1.1h-1.1zM352.4 317.2h1.1v1.1h-1.1zM348.4 296.4h1.1v1.1h-1.1zM351.4 317.6h1.1v1.1h-1.1zM348.6 316.9h1.1v1.1h-1.1zM359.7 286.3h1.1v1.1h-1.1zM348.7 307.1h1.1v1.1h-1.1zM348.5 290.3h1.1v1.1h-1.1zM353.4 304.8h1.1v1.1h-1.1zM348.8 296.6h1.1v1.1h-1.1zM348.5 303.2h1.1v1.1h-1.1zM348.1 298.8h1.1v1.1h-1.1zM348.1 310.9h1.1v1.1h-1.1zM350.7 300.0h1.1v1.1h-1.1zM347.8 318.7h1.1v1.1h-1.1zM354.2 305.2h1.1v1.1h-1.1zM343.7 320.0h1.1v1.1h-1.1zM352.2 313.7h1.1v1.1h-1.1zM356.8 317.3h1.1v1.1h-1.1zM348.3 286.3h1.1v1.1h-1.1zM347.5 294.7h1.1v1.1h-1.1zM352.3 291.8h1.1v1.1h-1.1zM349.5 303.0h1.1v1.1h-1.1zM351.7 312.6h1.1v1.1h-1.1zM343.3 317.3h1.1v1.1h-1.1zM349.7 297.1h1.1v1.1h-1.1zM350.1 307.5h1.1v1.1h-1.1zM354.7 302.5h1.1v1.1h-1.1zM351.2 312.0h1.1v1.1h-1.1zM349.2 304.3h1.1v1.1h-1.1zM349.9 297.2h1.1v1.1h-1.1zM346.2 300.7h1.1v1.1h-1.1zM351.2 314.7h1.1v1.1h-1.1zM352.0 304.4h1.1v1.1h-1.1zM343.7 291.4h1.1v1.1h-1.1zM353.4 302.1h1.1v1.1h-1.1zM350.3 310.8h1.1v1.1h-1.1zM346.9 309.0h1.1v1.1h-1.1zM350.6 291.7h1.1v1.1h-1.1zM349.3 320.1h1.1v1.1h-1.1zM354.9 299.3h1.1v1.1h-1.1zM355.5 312.4h1.1v1.1h-1.1zM355.3 317.3h1.1v1.1h-1.1zM343.1 300.1h1.1v1.1h-1.1zM358.8 291.5h1.1v1.1h-1.1zM353.7 289.4h1.1v1.1h-1.1zM342.9 309.4h1.1v1.1h-1.1zM349.5 310.9h1.1v1.1h-1.1zM349.9 288.8h1.1v1.1h-1.1zM347.6 304.5h1.1v1.1h-1.1zM354.6 311.9h1.1v1.1h-1.1zM346.2 298.0h1.1v1.1h-1.1zM349.2 296.7h1.1v1.1h-1.1zM356.8 294.5h1.1v1.1h-1.1zM350.2 306.2h1.1v1.1h-1.1zM347.8 308.5h1.1v1.1h-1.1zM352.5 311.8h1.1v1.1h-1.1zM354.0 296.2h1.1v1.1h-1.1zM350.3 311.4h1.1v1.1h-1.1zM344.6 314.1h1.1v1.1h-1.1zM358.2 297.8h1.1v1.1h-1.1zM349.9 307.4h1.1v1.1h-1.1zM353.9 304.5h1.1v1.1h-1.1zM349.2 317.9h1.1v1.1h-1.1zM353.5 304.2h1.1v1.1h-1.1zM342.8 315.6h1.1v1.1h-1.1zM349.6 292.9h1.1v1.1h-1.1zM345.4 316.9h1.1v1.1h-1.1zM348.0 296.4h1.1v1.1h-1.1zM349.6 304.4h1.1v1.1h-1.1zM342.5 302.2h1.1v1.1h-1.1zM348.9 310.6h1.1v1.1h-1.1zM349.1 319.4h1.1v1.1h-1.1zM352.9 313.0h1.1v1.1h-1.1zM349.4 300.0h1.1v1.1h-1.1zM359.2 307.1h1.1v1.1h-1.1zM345.0 303.7h1.1v1.1h-1.1zM352.9 312.2h1.1v1.1h-1.1zM341.7 311.3h1.1v1.1h-1.1zM344.3 300.1h1.1v1.1h-1.1zM352.3 304.7h1.1v1.1h-1.1zM351.4 292.0h1.1v1.1h-1.1zM351.4 295.1h1.1v1.1h-1.1zM347.7 311.1h1.1v1.1h-1.1zM344.7 313.1h1.1v1.1h-1.1zM348.0 293.7h1.1v1.1h-1.1zM355.8 299.3h1.1v1.1h-1.1zM348.5 310.0h1.1v1.1h-1.1zM349.4 296.0h1.1v1.1h-1.1zM348.4 295.8h1.1v1.1h-1.1zM346.9 315.5h1.1v1.1h-1.1zM345.9 307.7h1.1v1.1h-1.1zM348.7 291.5h1.1v1.1h-1.1zM351.3 293.3h1.1v1.1h-1.1zM350.1 310.0h1.1v1.1h-1.1zM349.6 305.9h1.1v1.1h-1.1zM349.8 300.7h1.1v1.1h-1.1zM353.0 296.6h1.1v1.1h-1.1zM352.2 300.6h1.1v1.1h-1.1zM344.1 290.3h1.1v1.1h-1.1zM349.6 305.7h1.1v1.1h-1.1zM350.2 316.4h1.1v1.1h-1.1zM348.2 315.9h1.1v1.1h-1.1zM348.8 303.6h1.1v1.1h-1.1zM345.6 296.3h1.1v1.1h-1.1zM346.9 307.3h1.1v1.1h-1.1zM350.3 294.1h1.1v1.1h-1.1zM348.6 317.2h1.1v1.1h-1.1zM352.7 314.3h1.1v1.1h-1.1zM343.9 297.0h1.1v1.1h-1.1zM355.7 312.0h1.1v1.1h-1.1zM346.9 293.9h1.1v1.1h-1.1zM350.7 295.0h1.1v1.1h-1.1zM351.4 314.7h1.1v1.1h-1.1zM345.2 295.4h1.1v1.1h-1.1zM344.3 307.3h1.1v1.1h-1.1zM349.0 293.7h1.1v1.1h-1.1zM350.7 296.5h1.1v1.1h-1.1zM345.8 301.8h1.1v1.1h-1.1zM354.6 291.4h1.1v1.1h-1.1zM349.8 306.4h1.1v1.1h-1.1zM348.6 306.0h1.1v1.1h-1.1zM354.7 313.7h1.1v1.1h-1.1zM357.5 302.9h1.1v1.1h-1.1zM351.8 298.8h1.1v1.1h-1.1zM349.0 319.1h1.1v1.1h-1.1zM344.1 305.2h1.1v1.1h-1.1zM347.7 293.2h1.1v1.1h-1.1zM346.8 295.9h1.1v1.1h-1.1zM349.8 309.3h1.1v1.1h-1.1zM337.9 310.4h1.1v1.1h-1.1zM349.8 305.3h1.1v1.1h-1.1zM350.2 302.5h1.1v1.1h-1.1zM348.8 301.8h1.1v1.1h-1.1zM349.6 290.7h1.1v1.1h-1.1zM350.7 291.9h1.1v1.1h-1.1zM348.8 302.6h1.1v1.1h-1.1zM350.1 295.0h1.1v1.1h-1.1zM353.1 319.7h1.1v1.1h-1.1zM345.0 298.4h1.1v1.1h-1.1zM349.6 315.3h1.1v1.1h-1.1zM352.4 293.4h1.1v1.1h-1.1zM348.6 302.8h1.1v1.1h-1.1zM348.2 309.8h1.1v1.1h-1.1zM346.4 308.5h1.1v1.1h-1.1zM348.2 291.6h1.1v1.1h-1.1zM352.1 310.2h1.1v1.1h-1.1zM347.0 299.3h1.1v1.1h-1.1zM351.8 317.2h1.1v1.1h-1.1zM352.6 317.8h1.1v1.1h-1.1zM349.3 305.1h1.1v1.1h-1.1zM348.0 295.2h1.1v1.1h-1.1zM343.5 302.3h1.1v1.1h-1.1zM355.0 317.3h1.1v1.1h-1.1zM345.4 300.7h1.1v1.1h-1.1zM349.9 315.9h1.1v1.1h-1.1zM349.5 292.3h1.1v1.1h-1.1zM345.9 295.3h1.1v1.1h-1.1zM353.1 317.8h1.1v1.1h-1.1zM351.4 304.7h1.1v1.1h-1.1zM344.9 318.0h1.1v1.1h-1.1zM342.1 311.3h1.1v1.1h-1.1zM352.0 311.5h1.1v1.1h-1.1zM351.6 293.5h1.1v1.1h-1.1zM347.4 303.0h1.1v1.1h-1.1zM354.3 305.5h1.1v1.1h-1.1zM356.4 304.4h1.1v1.1h-1.1zM352.2 288.6h1.1v1.1h-1.1zM341.0 296.3h1.1v1.1h-1.1zM349.1 287.3h1.1v1.1h-1.1zM350.1 316.4h1.1v1.1h-1.1zM348.7 299.6h1.1v1.1h-1.1zM360.6 293.1h1.1v1.1h-1.1zM348.4 287.7h1.1v1.1h-1.1zM353.6 308.7h1.1v1.1h-1.1zM347.5 296.4h1.1v1.1h-1.1zM350.3 290.3h1.1v1.1h-1.1zM348.9 302.7h1.1v1.1h-1.1zM350.5 314.0h1.1v1.1h-1.1zM352.5 307.9h1.1v1.1h-1.1zM356.0 301.0h1.1v1.1h-1.1zM350.8 311.5h1.1v1.1h-1.1zM355.0 289.5h1.1v1.1h-1.1zM343.1 293.0h1.1v1.1h-1.1zM349.4 306.3h1.1v1.1h-1.1zM351.5 292.1h1.1v1.1h-1.1zM344.1 305.3h1.1v1.1h-1.1zM350.1 293.7h1.1v1.1h-1.1zM357.3 296.3h1.1v1.1h-1.1zM341.5 292.8h1.1v1.1h-1.1zM349.2 306.4h1.1v1.1h-1.1zM345.1 305.4h1.1v1.1h-1.1zM351.3 306.1h1.1v1.1h-1.1zM350.4 310.4h1.1v1.1h-1.1zM344.8 297.0h1.1v1.1h-1.1zM348.3 302.3h1.1v1.1h-1.1zM346.4 292.3h1.1v1.1h-1.1zM351.5 297.8h1.1v1.1h-1.1zM347.6 319.8h1.1v1.1h-1.1zM353.5 306.2h1.1v1.1h-1.1zM350.1 313.9h1.1v1.1h-1.1zM345.3 295.4h1.1v1.1h-1.1zM347.2 302.3h1.1v1.1h-1.1zM349.2 294.0h1.1v1.1h-1.1zM344.9 295.6h1.1v1.1h-1.1zM356.9 299.6h1.1v1.1h-1.1zM348.4 319.2h1.1v1.1h-1.1zM348.9 290.0h1.1v1.1h-1.1zM346.3 315.5h1.1v1.1h-1.1zM347.4 302.1h1.1v1.1h-1.1zM343.8 300.7h1.1v1.1h-1.1zM351.1 308.4h1.1v1.1h-1.1zM350.6 299.3h1.1v1.1h-1.1zM347.2 309.2h1.1v1.1h-1.1zM350.4 315.9h1.1v1.1h-1.1zM351.5 292.7h1.1v1.1h-1.1zM349.5 306.0h1.1v1.1h-1.1zM346.2 292.8h1.1v1.1h-1.1zM346.6 306.7h1.1v1.1h-1.1zM350.7 293.9h1.1v1.1h-1.1zM345.7 306.3h1.1v1.1h-1.1zM351.7 285.6h1.1v1.1h-1.1zM350.1 308.9h1.1v1.1h-1.1zM348.8 316.7h1.1v1.1h-1.1zM345.9 314.9h1.1v1.1h-1.1zM347.9 309.6h1.1v1.1h-1.1zM346.2 304.0h1.1v1.1h-1.1zM344.9 294.8h1.1v1.1h-1.1zM351.4 290.6h1.1v1.1h-1.1zM344.1 316.5h1.1v1.1h-1.1zM348.4 290.3h1.1v1.1h-1.1zM353.0 300.3h1.1v1.1h-1.1zM344.8 287.9h1.1v1.1h-1.1zM348.0 317.9h1.1v1.1h-1.1zM347.1 312.2h1.1v1.1h-1.1zM352.5 307.0h1.1v1.1h-1.1zM349.0 296.2h1.1v1.1h-1.1zM349.7 316.0h1.1v1.1h-1.1zM345.3 309.3h1.1v1.1h-1.1zM352.5 294.3h1.1v1.1h-1.1zM353.3 296.8h1.1v1.1h-1.1zM350.8 311.2h1.1v1.1h-1.1zM356.2 319.7h1.1v1.1h-1.1zM351.8 300.1h1.1v1.1h-1.1zM348.3 316.8h1.1v1.1h-1.1zM346.4 309.5h1.1v1.1h-1.1zM349.2 308.7h1.1v1.1h-1.1zM351.9 312.1h1.1v1.1h-1.1zM347.6 313.9h1.1v1.1h-1.1zM349.7 309.5h1.1v1.1h-1.1zM350.0 308.1h1.1v1.1h-1.1zM349.3 293.7h1.1v1.1h-1.1zM355.9 311.7h1.1v1.1h-1.1zM344.2 298.3h1.1v1.1h-1.1zM346.4 307.9h1.1v1.1h-1.1zM347.8 312.3h1.1v1.1h-1.1zM353.5 315.7h1.1v1.1h-1.1zM353.2 303.5h1.1v1.1h-1.1zM349.8 308.1h1.1v1.1h-1.1zM351.1 318.7h1.1v1.1h-1.1zM348.5 308.4h1.1v1.1h-1.1zM355.2 297.0h1.1v1.1h-1.1zM346.3 303.2h1.1v1.1h-1.1zM354.1 319.6h1.1v1.1h-1.1zM350.7 290.9h1.1v1.1h-1.1zM347.7 307.8h1.1v1.1h-1.1zM358.4 299.2h1.1v1.1h-1.1zM343.2 292.0h1.1v1.1h-1.1zM347.8 293.0h1.1v1.1h-1.1zM351.9 298.4h1.1v1.1h-1.1zM343.4 308.3h1.1v1.1h-1.1zM349.9 302.2h1.1v1.1h-1.1zM348.2 308.9h1.1v1.1h-1.1zM347.3 292.0h1.1v1.1h-1.1zM349.1 304.9h1.1v1.1h-1.1zM351.4 311.3h1.1v1.1h-1.1zM355.0 314.2h1.1v1.1h-1.1zM344.7 318.7h1.1v1.1h-1.1zM344.3 316.2h1.1v1.1h-1.1zM352.7 310.9h1.1v1.1h-1.1zM344.2 300.9h1.1v1.1h-1.1zM349.4 298.3h1.1v1.1h-1.1zM350.9 289.7h1.1v1.1h-1.1zM352.5 318.1h1.1v1.1h-1.1zM348.4 313.4h1.1v1.1h-1.1zM351.9 297.7h1.1v1.1h-1.1zM348.8 294.9h1.1v1.1h-1.1zM353.2 294.1h1.1v1.1h-1.1zM350.1 313.7h1.1v1.1h-1.1zM347.7 288.8h1.1v1.1h-1.1zM352.6 293.6h1.1v1.1h-1.1zM351.4 300.6h1.1v1.1h-1.1zM359.0 304.2h1.1v1.1h-1.1zM353.1 296.0h1.1v1.1h-1.1zM348.4 299.5h1.1v1.1h-1.1zM356.2 307.3h1.1v1.1h-1.1zM350.9 296.3h1.1v1.1h-1.1zM355.2 305.0h1.1v1.1h-1.1zM346.4 301.2h1.1v1.1h-1.1zM347.3 300.1h1.1v1.1h-1.1zM350.2 308.8h1.1v1.1h-1.1zM351.5 292.5h1.1v1.1h-1.1zM346.5 293.1h1.1v1.1h-1.1zM352.4 318.1h1.1v1.1h-1.1zM354.2 295.9h1.1v1.1h-1.1zM356.6 307.1h1.1v1.1h-1.1zM351.8 307.8h1.1v1.1h-1.1zM350.1 308.9h1.1v1.1h-1.1zM348.2 301.9h1.1v1.1h-1.1zM353.0 312.0h1.1v1.1h-1.1zM352.2 315.2h1.1v1.1h-1.1zM352.2 304.9h1.1v1.1h-1.1zM345.2 291.3h1.1v1.1h-1.1zM348.8 319.4h1.1v1.1h-1.1zM348.3 296.3h1.1v1.1h-1.1zM346.6 306.8h1.1v1.1h-1.1zM353.4 303.6h1.1v1.1h-1.1zM355.0 300.0h1.1v1.1h-1.1zM347.2 308.2h1.1v1.1h-1.1zM356.7 306.4h1.1v1.1h-1.1zM345.5 293.4h1.1v1.1h-1.1zM351.7 300.8h1.1v1.1h-1.1zM347.1 305.8h1.1v1.1h-1.1zM356.1 292.9h1.1v1.1h-1.1zM348.8 295.3h1.1v1.1h-1.1zM345.1 290.1h1.1v1.1h-1.1zM351.1 287.0h1.1v1.1h-1.1zM348.1 299.0h1.1v1.1h-1.1zM351.7 308.7h1.1v1.1h-1.1zM352.1 306.2h1.1v1.1h-1.1zM346.5 297.7h1.1v1.1h-1.1zM346.5 298.5h1.1v1.1h-1.1zM350.8 297.8h1.1v1.1h-1.1zM349.2 293.0h1.1v1.1h-1.1zM354.4 290.2h1.1v1.1h-1.1zM349.2 311.2h1.1v1.1h-1.1zM350.3 310.2h1.1v1.1h-1.1zM348.6 304.5h1.1v1.1h-1.1zM349.9 314.2h1.1v1.1h-1.1zM351.8 303.7h1.1v1.1h-1.1zM347.2 294.9h1.1v1.1h-1.1zM345.4 308.4h1.1v1.1h-1.1zM355.2 318.5h1.1v1.1h-1.1zM345.0 304.0h1.1v1.1h-1.1zM347.7 311.9h1.1v1.1h-1.1zM344.2 300.5h1.1v1.1h-1.1zM345.4 316.4h1.1v1.1h-1.1zM344.0 301.9h1.1v1.1h-1.1zM348.8 306.2h1.1v1.1h-1.1zM349.9 287.6h1.1v1.1h-1.1zM353.7 319.3h1.1v1.1h-1.1zM352.8 293.2h1.1v1.1h-1.1zM352.4 242.4h1.1v1.1h-1.1zM340.6 298.0h1.1v1.1h-1.1zM329.0 260.1h1.1v1.1h-1.1zM339.6 278.5h1.1v1.1h-1.1zM342.0 286.1h1.1v1.1h-1.1zM350.2 268.7h1.1v1.1h-1.1zM343.9 226.3h1.1v1.1h-1.1zM352.9 248.8h1.1v1.1h-1.1zM349.3 289.0h1.1v1.1h-1.1zM362.4 297.1h1.1v1.1h-1.1zM366.6 245.7h1.1v1.1h-1.1zM358.8 318.0h1.1v1.1h-1.1zM356.0 253.2h1.1v1.1h-1.1zM356.0 267.5h1.1v1.1h-1.1zM345.8 305.8h1.1v1.1h-1.1zM350.4 253.0h1.1v1.1h-1.1zM343.9 296.4h1.1v1.1h-1.1zM353.9 308.3h1.1v1.1h-1.1zM349.4 257.2h1.1v1.1h-1.1zM345.9 255.2h1.1v1.1h-1.1zM377.5 284.8h1.1v1.1h-1.1zM349.0 310.5h1.1v1.1h-1.1zM358.6 275.7h1.1v1.1h-1.1zM358.2 286.6h1.1v1.1h-1.1zM363.2 320.0h1.1v1.1h-1.1zM349.1 279.2h1.1v1.1h-1.1zM350.4 309.6h1.1v1.1h-1.1zM355.9 299.0h1.1v1.1h-1.1zM361.0 264.7h1.1v1.1h-1.1z" fill="#333" fill-opacity="0.62"/>
<g clip-path="url(#cp3)"><ellipse cx="472.5" cy="306" rx="5" ry="13" fill="#555" fill-opacity="0.45" filter="url(#bl)"/></g>
<path d="M471.8 243.3h1.1v1.1h-1.1zM471.5 258.5h1.1v1.1h-1.1zM479.5 259.3h1.1v1.1h-1.1zM469.9 266.3h1.1v1.1h-1.1zM479.0 242.7h1.1v1.1h-1.1zM474.7 276.1h1.1v1.1h-1.1zM474.7 242.7h1.1v1.1h-1.1zM465.9 261.0h1.1v1.1h-1.1zM470.2 245.0h1.1v1.1h-1.1zM471.8 253.7h1.1v1.1h-1.1zM470.9 241.4h1.1v1.1h-1.1zM463.1 251.7h1.1v1.1h-1.1zM472.7 251.6h1.1v1.1h-1.1zM474.1 281.8h1.1v1.1h-1.1zM479.0 273.4h1.1v1.1h-1.1zM475.8 233.7h1.1v1.1h-1.1zM473.7 234.6h1.1v1.1h-1.1zM473.5 265.2h1.1v1.1h-1.1zM481.3 278.0h1.1v1.1h-1.1zM471.0 276.3h1.1v1.1h-1.1zM475.7 240.2h1.1v1.1h-1.1zM470.6 240.9h1.1v1.1h-1.1zM469.5 268.6h1.1v1.1h-1.1zM468.9 237.9h1.1v1.1h-1.1zM479.5 265.1h1.1v1.1h-1.1zM467.5 252.6h1.1v1.1h-1.1zM479.7 238.2h1.1v1.1h-1.1zM469.1 231.1h1.1v1.1h-1.1zM477.2 268.1h1.1v1.1h-1.1zM471.4 256.8h1.1v1.1h-1.1zM478.6 258.4h1.1v1.1h-1.1zM475.9 245.9h1.1v1.1h-1.1zM479.5 275.8h1.1v1.1h-1.1zM478.3 269.9h1.1v1.1h-1.1zM470.6 235.0h1.1v1.1h-1.1zM472.4 235.5h1.1v1.1h-1.1zM481.9 265.8h1.1v1.1h-1.1zM476.4 267.7h1.1v1.1h-1.1zM479.2 276.9h1.1v1.1h-1.1zM471.9 277.3h1.1v1.1h-1.1zM480.6 275.6h1.1v1.1h-1.1zM474.9 263.5h1.1v1.1h-1.1zM472.6 278.8h1.1v1.1h-1.1zM466.8 261.5h1.1v1.1h-1.1zM473.0 250.4h1.1v1.1h-1.1zM481.1 243.0h1.1v1.1h-1.1zM466.9 275.0h1.1v1.1h-1.1zM470.2 255.9h1.1v1.1h-1.1zM476.8 227.4h1.1v1.1h-1.1zM473.3 241.9h1.1v1.1h-1.1zM472.0 245.5h1.1v1.1h-1.1zM464.9 274.7h1.1v1.1h-1.1zM471.3 247.1h1.1v1.1h-1.1zM471.4 257.8h1.1v1.1h-1.1zM473.3 267.6h1.1v1.1h-1.1zM477.8 248.7h1.1v1.1h-1.1zM471.3 247.9h1.1v1.1h-1.1zM469.4 241.5h1.1v1.1h-1.1zM476.6 262.8h1.1v1.1h-1.1zM469.9 270.3h1.1v1.1h-1.1zM475.7 250.9h1.1v1.1h-1.1zM472.1 269.5h1.1v1.1h-1.1zM473.1 244.2h1.1v1.1h-1.1zM473.7 233.3h1.1v1.1h-1.1zM478.1 280.5h1.1v1.1h-1.1zM477.8 272.3h1.1v1.1h-1.1zM470.2 282.1h1.1v1.1h-1.1zM483.5 282.4h1.1v1.1h-1.1zM474.7 246.6h1.1v1.1h-1.1zM468.7 268.2h1.1v1.1h-1.1zM472.6 244.7h1.1v1.1h-1.1zM471.4 258.9h1.1v1.1h-1.1zM465.9 263.9h1.1v1.1h-1.1zM474.8 269.1h1.1v1.1h-1.1zM470.3 244.4h1.1v1.1h-1.1zM471.7 253.1h1.1v1.1h-1.1zM476.3 278.0h1.1v1.1h-1.1zM478.3 244.5h1.1v1.1h-1.1zM475.8 281.1h1.1v1.1h-1.1zM464.2 282.7h1.1v1.1h-1.1zM474.5 283.4h1.1v1.1h-1.1zM473.0 244.6h1.1v1.1h-1.1zM474.1 242.2h1.1v1.1h-1.1zM475.6 241.3h1.1v1.1h-1.1zM474.4 237.4h1.1v1.1h-1.1zM472.1 274.0h1.1v1.1h-1.1zM467.9 275.4h1.1v1.1h-1.1zM471.4 247.9h1.1v1.1h-1.1zM472.2 235.8h1.1v1.1h-1.1zM471.7 279.6h1.1v1.1h-1.1zM471.1 236.2h1.1v1.1h-1.1zM470.3 266.0h1.1v1.1h-1.1zM481.3 257.7h1.1v1.1h-1.1zM467.5 263.8h1.1v1.1h-1.1zM468.2 237.8h1.1v1.1h-1.1zM470.4 256.8h1.1v1.1h-1.1zM472.3 269.7h1.1v1.1h-1.1zM473.4 258.9h1.1v1.1h-1.1zM468.1 261.3h1.1v1.1h-1.1zM472.7 240.2h1.1v1.1h-1.1zM474.2 259.8h1.1v1.1h-1.1zM469.6 269.6h1.1v1.1h-1.1zM471.1 272.3h1.1v1.1h-1.1zM476.6 244.7h1.1v1.1h-1.1zM487.1 255.6h1.1v1.1h-1.1zM477.7 268.0h1.1v1.1h-1.1zM478.0 281.6h1.1v1.1h-1.1zM479.1 279.0h1.1v1.1h-1.1zM475.1 273.3h1.1v1.1h-1.1zM475.0 272.3h1.1v1.1h-1.1zM464.2 255.5h1.1v1.1h-1.1zM470.4 279.8h1.1v1.1h-1.1zM473.1 252.5h1.1v1.1h-1.1zM477.3 250.7h1.1v1.1h-1.1zM469.5 237.7h1.1v1.1h-1.1zM469.6 244.1h1.1v1.1h-1.1zM467.0 235.0h1.1v1.1h-1.1zM476.2 277.2h1.1v1.1h-1.1zM481.7 271.4h1.1v1.1h-1.1zM472.6 265.3h1.1v1.1h-1.1zM478.5 241.8h1.1v1.1h-1.1zM472.1 238.9h1.1v1.1h-1.1zM465.3 282.4h1.1v1.1h-1.1zM475.8 271.6h1.1v1.1h-1.1zM472.5 233.3h1.1v1.1h-1.1zM481.4 243.9h1.1v1.1h-1.1zM483.9 271.9h1.1v1.1h-1.1zM476.2 241.5h1.1v1.1h-1.1zM477.3 276.8h1.1v1.1h-1.1zM469.4 260.8h1.1v1.1h-1.1zM476.9 236.8h1.1v1.1h-1.1zM470.2 258.5h1.1v1.1h-1.1zM481.0 247.5h1.1v1.1h-1.1zM478.6 270.4h1.1v1.1h-1.1zM473.7 232.5h1.1v1.1h-1.1zM466.7 271.2h1.1v1.1h-1.1zM474.6 245.0h1.1v1.1h-1.1zM473.5 271.9h1.1v1.1h-1.1zM476.9 277.1h1.1v1.1h-1.1zM470.3 268.4h1.1v1.1h-1.1zM468.2 259.1h1.1v1.1h-1.1zM471.7 231.7h1.1v1.1h-1.1zM474.8 248.3h1.1v1.1h-1.1zM464.3 248.1h1.1v1.1h-1.1zM471.2 256.3h1.1v1.1h-1.1zM465.7 258.7h1.1v1.1h-1.1zM482.3 254.6h1.1v1.1h-1.1zM469.8 262.6h1.1v1.1h-1.1zM471.2 236.0h1.1v1.1h-1.1zM467.0 276.5h1.1v1.1h-1.1zM470.7 261.6h1.1v1.1h-1.1zM470.2 281.4h1.1v1.1h-1.1zM476.6 244.5h1.1v1.1h-1.1zM470.2 269.0h1.1v1.1h-1.1zM467.0 257.6h1.1v1.1h-1.1zM476.9 282.2h1.1v1.1h-1.1zM469.3 230.9h1.1v1.1h-1.1zM476.0 233.3h1.1v1.1h-1.1zM475.3 279.2h1.1v1.1h-1.1zM478.9 276.5h1.1v1.1h-1.1zM475.4 280.1h1.1v1.1h-1.1zM477.3 240.0h1.1v1.1h-1.1zM470.9 271.1h1.1v1.1h-1.1zM475.7 278.9h1.1v1.1h-1.1zM473.4 231.6h1.1v1.1h-1.1zM471.1 239.2h1.1v1.1h-1.1zM472.2 245.2h1.1v1.1h-1.1zM477.0 235.9h1.1v1.1h-1.1zM475.6 255.0h1.1v1.1h-1.1zM473.0 252.0h1.1v1.1h-1.1zM475.4 243.6h1.1v1.1h-1.1zM471.0 282.1h1.1v1.1h-1.1zM482.0 256.6h1.1v1.1h-1.1zM471.0 267.5h1.1v1.1h-1.1zM472.3 252.8h1.1v1.1h-1.1zM475.4 263.1h1.1v1.1h-1.1zM476.0 281.4h1.1v1.1h-1.1zM466.7 272.4h1.1v1.1h-1.1zM470.3 251.5h1.1v1.1h-1.1zM473.3 265.4h1.1v1.1h-1.1zM478.5 239.1h1.1v1.1h-1.1zM471.7 233.7h1.1v1.1h-1.1zM471.2 284.0h1.1v1.1h-1.1zM471.3 277.7h1.1v1.1h-1.1zM474.6 279.9h1.1v1.1h-1.1zM470.6 265.9h1.1v1.1h-1.1zM472.2 233.6h1.1v1.1h-1.1zM477.9 268.9h1.1v1.1h-1.1zM480.8 282.3h1.1v1.1h-1.1zM469.0 281.0h1.1v1.1h-1.1zM473.2 269.7h1.1v1.1h-1.1zM482.0 265.9h1.1v1.1h-1.1zM479.2 270.5h1.1v1.1h-1.1zM485.4 254.2h1.1v1.1h-1.1zM486.4 249.3h1.1v1.1h-1.1zM492.0 244.2h1.1v1.1h-1.1zM478.2 247.2h1.1v1.1h-1.1zM480.4 280.0h1.1v1.1h-1.1zM475.0 286.3h1.1v1.1h-1.1zM489.6 267.3h1.1v1.1h-1.1zM476.1 274.4h1.1v1.1h-1.1zM460.8 251.5h1.1v1.1h-1.1zM486.6 261.5h1.1v1.1h-1.1zM496.9 252.7h1.1v1.1h-1.1zM471.1 259.1h1.1v1.1h-1.1zM484.0 285.4h1.1v1.1h-1.1zM468.2 264.2h1.1v1.1h-1.1zM488.6 252.8h1.1v1.1h-1.1zM477.0 245.4h1.1v1.1h-1.1zM485.3 273.4h1.1v1.1h-1.1zM484.1 265.4h1.1v1.1h-1.1zM486.8 260.3h1.1v1.1h-1.1zM484.9 273.2h1.1v1.1h-1.1zM488.9 269.0h1.1v1.1h-1.1zM480.7 271.7h1.1v1.1h-1.1zM469.6 237.8h1.1v1.1h-1.1zM491.1 263.9h1.1v1.1h-1.1zM473.0 254.0h1.1v1.1h-1.1zM479.1 263.0h1.1v1.1h-1.1zM474.9 275.7h1.1v1.1h-1.1zM468.5 300.5h1.1v1.1h-1.1zM472.7 284.8h1.1v1.1h-1.1zM484.6 238.9h1.1v1.1h-1.1zM471.8 262.8h1.1v1.1h-1.1zM481.9 256.2h1.1v1.1h-1.1zM480.2 264.2h1.1v1.1h-1.1zM472.3 262.8h1.1v1.1h-1.1zM495.6 253.1h1.1v1.1h-1.1zM473.2 271.1h1.1v1.1h-1.1zM489.3 276.4h1.1v1.1h-1.1zM475.8 261.0h1.1v1.1h-1.1zM481.5 259.1h1.1v1.1h-1.1zM482.8 276.9h1.1v1.1h-1.1zM483.8 261.9h1.1v1.1h-1.1zM478.7 286.6h1.1v1.1h-1.1zM471.7 289.6h1.1v1.1h-1.1zM485.1 263.2h1.1v1.1h-1.1zM475.0 287.3h1.1v1.1h-1.1zM488.4 274.6h1.1v1.1h-1.1zM494.3 237.3h1.1v1.1h-1.1zM474.0 317.0h1.1v1.1h-1.1zM474.7 297.1h1.1v1.1h-1.1zM471.5 311.6h1.1v1.1h-1.1zM476.4 302.3h1.1v1.1h-1.1zM474.4 308.1h1.1v1.1h-1.1zM468.4 293.3h1.1v1.1h-1.1zM467.4 306.0h1.1v1.1h-1.1zM463.6 296.7h1.1v1.1h-1.1zM472.7 289.5h1.1v1.1h-1.1zM475.8 309.4h1.1v1.1h-1.1zM471.1 313.0h1.1v1.1h-1.1zM471.3 311.6h1.1v1.1h-1.1zM478.2 303.4h1.1v1.1h-1.1zM468.0 295.2h1.1v1.1h-1.1zM470.7 312.8h1.1v1.1h-1.1zM470.8 311.7h1.1v1.1h-1.1zM467.9 291.4h1.1v1.1h-1.1zM471.3 291.5h1.1v1.1h-1.1zM468.4 299.4h1.1v1.1h-1.1zM468.4 313.8h1.1v1.1h-1.1zM474.1 301.7h1.1v1.1h-1.1zM470.2 315.2h1.1v1.1h-1.1zM473.0 311.8h1.1v1.1h-1.1zM468.8 311.2h1.1v1.1h-1.1zM468.9 320.5h1.1v1.1h-1.1zM470.6 313.9h1.1v1.1h-1.1zM473.8 316.7h1.1v1.1h-1.1zM471.6 298.7h1.1v1.1h-1.1zM474.7 301.0h1.1v1.1h-1.1zM468.5 311.3h1.1v1.1h-1.1zM472.7 317.5h1.1v1.1h-1.1zM470.8 287.3h1.1v1.1h-1.1zM472.4 296.1h1.1v1.1h-1.1zM470.5 294.2h1.1v1.1h-1.1zM468.3 289.9h1.1v1.1h-1.1zM467.4 307.8h1.1v1.1h-1.1zM464.0 317.3h1.1v1.1h-1.1zM469.2 293.5h1.1v1.1h-1.1zM461.9 319.8h1.1v1.1h-1.1zM475.7 311.3h1.1v1.1h-1.1zM474.4 316.4h1.1v1.1h-1.1zM468.7 306.8h1.1v1.1h-1.1zM468.4 308.2h1.1v1.1h-1.1zM470.2 312.4h1.1v1.1h-1.1zM473.3 302.0h1.1v1.1h-1.1zM476.6 297.2h1.1v1.1h-1.1zM482.1 313.0h1.1v1.1h-1.1zM468.2 304.8h1.1v1.1h-1.1zM476.1 287.9h1.1v1.1h-1.1zM471.8 294.5h1.1v1.1h-1.1zM473.1 305.2h1.1v1.1h-1.1zM470.4 299.1h1.1v1.1h-1.1zM477.9 304.2h1.1v1.1h-1.1zM471.7 307.7h1.1v1.1h-1.1zM475.6 311.5h1.1v1.1h-1.1zM462.6 304.8h1.1v1.1h-1.1zM470.0 301.1h1.1v1.1h-1.1zM472.8 313.5h1.1v1.1h-1.1zM473.9 301.0h1.1v1.1h-1.1zM478.9 301.3h1.1v1.1h-1.1zM473.6 310.6h1.1v1.1h-1.1zM475.9 318.5h1.1v1.1h-1.1zM479.8 304.1h1.1v1.1h-1.1zM473.7 292.9h1.1v1.1h-1.1zM471.4 311.2h1.1v1.1h-1.1zM474.8 291.2h1.1v1.1h-1.1zM474.2 291.6h1.1v1.1h-1.1zM470.1 317.7h1.1v1.1h-1.1zM470.7 301.8h1.1v1.1h-1.1zM466.7 311.6h1.1v1.1h-1.1zM480.3 295.7h1.1v1.1h-1.1zM470.9 311.4h1.1v1.1h-1.1zM473.5 312.0h1.1v1.1h-1.1zM472.8 314.4h1.1v1.1h-1.1zM472.4 315.2h1.1v1.1h-1.1zM479.3 299.0h1.1v1.1h-1.1zM474.7 319.1h1.1v1.1h-1.1zM474.5 318.9h1.1v1.1h-1.1zM460.7 298.0h1.1v1.1h-1.1zM469.1 305.3h1.1v1.1h-1.1zM461.9 304.2h1.1v1.1h-1.1zM464.9 312.1h1.1v1.1h-1.1zM472.7 303.9h1.1v1.1h-1.1zM472.5 306.7h1.1v1.1h-1.1zM472.2 299.2h1.1v1.1h-1.1zM466.4 301.1h1.1v1.1h-1.1zM472.6 309.7h1.1v1.1h-1.1zM467.7 315.8h1.1v1.1h-1.1zM467.9 307.8h1.1v1.1h-1.1zM473.2 301.0h1.1v1.1h-1.1zM478.8 310.8h1.1v1.1h-1.1zM468.9 300.1h1.1v1.1h-1.1zM476.1 299.9h1.1v1.1h-1.1zM473.6 310.8h1.1v1.1h-1.1zM472.4 310.5h1.1v1.1h-1.1zM468.1 312.0h1.1v1.1h-1.1zM465.7 295.3h1.1v1.1h-1.1zM477.3 312.6h1.1v1.1h-1.1zM476.2 303.9h1.1v1.1h-1.1zM471.8 306.4h1.1v1.1h-1.1zM476.3 311.7h1.1v1.1h-1.1zM469.0 306.9h1.1v1.1h-1.1zM477.9 308.3h1.1v1.1h-1.1zM461.4 300.6h1.1v1.1h-1.1zM472.8 302.2h1.1v1.1h-1.1zM466.2 303.5h1.1v1.1h-1.1zM480.7 313.0h1.1v1.1h-1.1zM464.7 300.9h1.1v1.1h-1.1zM474.4 298.9h1.1v1.1h-1.1zM476.8 296.6h1.1v1.1h-1.1zM472.0 294.5h1.1v1.1h-1.1zM469.7 305.8h1.1v1.1h-1.1zM469.6 314.8h1.1v1.1h-1.1zM475.6 305.3h1.1v1.1h-1.1zM468.9 314.9h1.1v1.1h-1.1zM472.8 309.6h1.1v1.1h-1.1zM471.3 299.3h1.1v1.1h-1.1zM475.4 305.6h1.1v1.1h-1.1zM477.8 310.6h1.1v1.1h-1.1zM473.3 312.6h1.1v1.1h-1.1zM470.7 313.5h1.1v1.1h-1.1zM469.7 306.8h1.1v1.1h-1.1zM471.4 292.0h1.1v1.1h-1.1zM467.6 305.6h1.1v1.1h-1.1zM472.9 310.9h1.1v1.1h-1.1zM469.0 298.8h1.1v1.1h-1.1zM469.5 294.2h1.1v1.1h-1.1zM473.0 298.0h1.1v1.1h-1.1zM470.7 292.9h1.1v1.1h-1.1zM476.4 294.0h1.1v1.1h-1.1zM477.5 307.7h1.1v1.1h-1.1zM474.0 296.3h1.1v1.1h-1.1zM473.5 312.6h1.1v1.1h-1.1zM476.3 314.6h1.1v1.1h-1.1zM476.1 312.2h1.1v1.1h-1.1zM474.5 292.4h1.1v1.1h-1.1zM468.7 319.9h1.1v1.1h-1.1zM470.0 307.3h1.1v1.1h-1.1zM472.6 308.0h1.1v1.1h-1.1zM476.6 315.1h1.1v1.1h-1.1zM471.6 312.5h1.1v1.1h-1.1zM474.2 301.7h1.1v1.1h-1.1zM469.9 300.7h1.1v1.1h-1.1zM477.9 303.7h1.1v1.1h-1.1zM475.7 315.5h1.1v1.1h-1.1zM467.5 293.2h1.1v1.1h-1.1zM476.0 296.3h1.1v1.1h-1.1zM467.2 302.7h1.1v1.1h-1.1zM475.4 312.6h1.1v1.1h-1.1zM475.0 290.7h1.1v1.1h-1.1zM474.2 290.9h1.1v1.1h-1.1zM477.1 315.3h1.1v1.1h-1.1zM467.8 289.8h1.1v1.1h-1.1zM465.7 314.0h1.1v1.1h-1.1zM478.2 297.4h1.1v1.1h-1.1zM469.9 293.5h1.1v1.1h-1.1zM473.8 304.3h1.1v1.1h-1.1zM470.4 306.9h1.1v1.1h-1.1zM468.2 291.3h1.1v1.1h-1.1zM478.8 309.5h1.1v1.1h-1.1zM477.2 315.8h1.1v1.1h-1.1zM474.9 304.3h1.1v1.1h-1.1zM469.6 312.2h1.1v1.1h-1.1zM471.0 302.6h1.1v1.1h-1.1zM468.3 290.3h1.1v1.1h-1.1zM468.3 295.6h1.1v1.1h-1.1zM466.6 312.5h1.1v1.1h-1.1zM473.8 319.9h1.1v1.1h-1.1zM470.3 293.3h1.1v1.1h-1.1zM474.5 290.7h1.1v1.1h-1.1zM473.8 304.1h1.1v1.1h-1.1zM471.9 287.9h1.1v1.1h-1.1zM473.3 293.0h1.1v1.1h-1.1zM476.6 302.9h1.1v1.1h-1.1zM464.0 293.9h1.1v1.1h-1.1zM477.2 304.0h1.1v1.1h-1.1zM466.8 289.7h1.1v1.1h-1.1zM471.0 305.3h1.1v1.1h-1.1zM467.6 315.6h1.1v1.1h-1.1zM474.5 314.0h1.1v1.1h-1.1zM474.7 315.0h1.1v1.1h-1.1zM474.7 290.3h1.1v1.1h-1.1zM476.1 318.1h1.1v1.1h-1.1zM468.3 319.4h1.1v1.1h-1.1zM475.1 291.3h1.1v1.1h-1.1zM477.9 314.6h1.1v1.1h-1.1zM475.1 301.7h1.1v1.1h-1.1zM467.0 292.0h1.1v1.1h-1.1zM468.7 299.2h1.1v1.1h-1.1zM468.9 316.0h1.1v1.1h-1.1zM477.0 316.6h1.1v1.1h-1.1zM471.7 312.1h1.1v1.1h-1.1zM469.8 311.1h1.1v1.1h-1.1zM474.7 294.3h1.1v1.1h-1.1zM468.9 293.6h1.1v1.1h-1.1zM475.1 292.4h1.1v1.1h-1.1zM470.2 317.9h1.1v1.1h-1.1zM467.0 288.2h1.1v1.1h-1.1zM465.2 310.9h1.1v1.1h-1.1zM470.5 309.5h1.1v1.1h-1.1zM470.9 318.8h1.1v1.1h-1.1zM469.7 293.3h1.1v1.1h-1.1zM477.3 318.6h1.1v1.1h-1.1zM471.2 306.7h1.1v1.1h-1.1zM467.1 317.1h1.1v1.1h-1.1zM473.3 307.8h1.1v1.1h-1.1zM476.5 312.0h1.1v1.1h-1.1zM477.6 297.3h1.1v1.1h-1.1zM467.9 315.9h1.1v1.1h-1.1zM471.6 310.7h1.1v1.1h-1.1zM476.8 312.2h1.1v1.1h-1.1zM476.6 292.6h1.1v1.1h-1.1zM466.1 295.4h1.1v1.1h-1.1zM464.4 300.3h1.1v1.1h-1.1zM471.7 313.6h1.1v1.1h-1.1zM463.7 306.3h1.1v1.1h-1.1zM474.5 312.9h1.1v1.1h-1.1zM474.4 310.7h1.1v1.1h-1.1zM476.2 305.0h1.1v1.1h-1.1zM469.6 292.0h1.1v1.1h-1.1zM478.1 310.5h1.1v1.1h-1.1zM470.7 305.6h1.1v1.1h-1.1zM467.5 305.7h1.1v1.1h-1.1zM480.0 294.7h1.1v1.1h-1.1zM473.2 288.3h1.1v1.1h-1.1zM472.5 303.7h1.1v1.1h-1.1zM473.5 314.4h1.1v1.1h-1.1zM473.1 304.2h1.1v1.1h-1.1zM469.7 315.6h1.1v1.1h-1.1zM474.2 300.7h1.1v1.1h-1.1zM467.5 305.7h1.1v1.1h-1.1zM472.4 318.7h1.1v1.1h-1.1zM477.2 292.4h1.1v1.1h-1.1zM471.7 293.7h1.1v1.1h-1.1zM472.4 292.8h1.1v1.1h-1.1zM471.3 305.9h1.1v1.1h-1.1zM477.5 297.5h1.1v1.1h-1.1zM470.0 313.6h1.1v1.1h-1.1zM471.2 304.8h1.1v1.1h-1.1zM463.4 295.3h1.1v1.1h-1.1zM468.1 289.0h1.1v1.1h-1.1zM470.9 306.4h1.1v1.1h-1.1zM478.9 306.8h1.1v1.1h-1.1zM473.7 310.9h1.1v1.1h-1.1zM467.3 312.7h1.1v1.1h-1.1zM471.5 314.3h1.1v1.1h-1.1zM469.4 311.6h1.1v1.1h-1.1zM482.2 316.0h1.1v1.1h-1.1zM471.0 311.7h1.1v1.1h-1.1zM475.9 312.5h1.1v1.1h-1.1zM468.4 308.5h1.1v1.1h-1.1zM477.5 318.3h1.1v1.1h-1.1zM475.6 294.4h1.1v1.1h-1.1zM470.0 288.0h1.1v1.1h-1.1zM467.5 302.4h1.1v1.1h-1.1zM474.4 312.4h1.1v1.1h-1.1zM479.4 291.8h1.1v1.1h-1.1zM470.2 291.7h1.1v1.1h-1.1zM466.8 313.1h1.1v1.1h-1.1zM471.3 295.7h1.1v1.1h-1.1zM468.5 294.5h1.1v1.1h-1.1zM474.8 306.3h1.1v1.1h-1.1zM468.1 301.5h1.1v1.1h-1.1zM471.2 312.4h1.1v1.1h-1.1zM471.5 290.8h1.1v1.1h-1.1zM474.2 313.9h1.1v1.1h-1.1zM475.0 287.0h1.1v1.1h-1.1zM472.7 292.4h1.1v1.1h-1.1zM469.3 317.2h1.1v1.1h-1.1zM475.8 299.2h1.1v1.1h-1.1zM476.4 296.7h1.1v1.1h-1.1zM475.5 293.6h1.1v1.1h-1.1zM473.8 306.9h1.1v1.1h-1.1zM476.6 307.5h1.1v1.1h-1.1zM474.5 306.1h1.1v1.1h-1.1zM470.7 289.7h1.1v1.1h-1.1zM466.3 299.2h1.1v1.1h-1.1zM473.5 300.5h1.1v1.1h-1.1zM468.4 314.4h1.1v1.1h-1.1zM478.2 300.1h1.1v1.1h-1.1zM471.2 308.2h1.1v1.1h-1.1zM464.0 298.4h1.1v1.1h-1.1zM470.5 304.2h1.1v1.1h-1.1zM478.2 308.0h1.1v1.1h-1.1zM475.6 299.1h1.1v1.1h-1.1zM463.5 311.1h1.1v1.1h-1.1zM475.6 305.6h1.1v1.1h-1.1zM467.7 296.7h1.1v1.1h-1.1zM473.1 304.6h1.1v1.1h-1.1zM474.7 308.9h1.1v1.1h-1.1zM470.0 309.2h1.1v1.1h-1.1zM475.5 287.1h1.1v1.1h-1.1zM470.8 291.5h1.1v1.1h-1.1zM476.6 307.3h1.1v1.1h-1.1zM475.0 303.6h1.1v1.1h-1.1zM471.3 309.8h1.1v1.1h-1.1zM476.2 296.5h1.1v1.1h-1.1zM475.8 320.0h1.1v1.1h-1.1zM476.4 308.9h1.1v1.1h-1.1zM467.8 305.9h1.1v1.1h-1.1zM474.2 306.1h1.1v1.1h-1.1zM474.2 313.3h1.1v1.1h-1.1zM474.0 312.2h1.1v1.1h-1.1zM475.3 312.5h1.1v1.1h-1.1zM477.6 316.2h1.1v1.1h-1.1zM471.1 298.2h1.1v1.1h-1.1zM469.6 302.7h1.1v1.1h-1.1zM476.6 319.8h1.1v1.1h-1.1zM469.5 302.0h1.1v1.1h-1.1zM477.2 311.9h1.1v1.1h-1.1zM470.4 299.3h1.1v1.1h-1.1zM470.9 317.8h1.1v1.1h-1.1zM469.8 309.4h1.1v1.1h-1.1zM470.1 312.8h1.1v1.1h-1.1zM467.3 294.9h1.1v1.1h-1.1zM479.2 308.6h1.1v1.1h-1.1zM484.3 303.2h1.1v1.1h-1.1zM465.3 312.1h1.1v1.1h-1.1zM479.4 307.5h1.1v1.1h-1.1zM468.6 317.0h1.1v1.1h-1.1zM475.0 309.0h1.1v1.1h-1.1zM469.9 313.7h1.1v1.1h-1.1zM473.1 316.7h1.1v1.1h-1.1zM470.0 295.6h1.1v1.1h-1.1zM469.9 310.1h1.1v1.1h-1.1zM473.2 296.5h1.1v1.1h-1.1zM472.9 303.5h1.1v1.1h-1.1zM472.5 296.6h1.1v1.1h-1.1zM476.8 289.5h1.1v1.1h-1.1zM478.5 307.8h1.1v1.1h-1.1zM472.3 310.3h1.1v1.1h-1.1zM474.6 299.8h1.1v1.1h-1.1zM473.9 299.4h1.1v1.1h-1.1zM464.8 297.7h1.1v1.1h-1.1zM473.4 317.1h1.1v1.1h-1.1zM468.3 314.4h1.1v1.1h-1.1zM467.8 303.7h1.1v1.1h-1.1zM472.6 298.0h1.1v1.1h-1.1zM465.5 293.2h1.1v1.1h-1.1zM472.8 312.0h1.1v1.1h-1.1zM476.2 315.1h1.1v1.1h-1.1zM471.7 309.1h1.1v1.1h-1.1zM470.1 289.2h1.1v1.1h-1.1zM471.5 305.1h1.1v1.1h-1.1zM471.4 295.9h1.1v1.1h-1.1zM478.6 318.2h1.1v1.1h-1.1zM466.3 300.2h1.1v1.1h-1.1zM471.0 304.1h1.1v1.1h-1.1zM470.2 303.7h1.1v1.1h-1.1zM480.1 315.6h1.1v1.1h-1.1zM476.4 295.5h1.1v1.1h-1.1zM473.5 295.5h1.1v1.1h-1.1zM466.1 311.9h1.1v1.1h-1.1zM474.1 295.8h1.1v1.1h-1.1zM467.3 291.1h1.1v1.1h-1.1zM466.9 320.0h1.1v1.1h-1.1zM472.3 313.8h1.1v1.1h-1.1zM466.5 290.1h1.1v1.1h-1.1zM472.2 307.0h1.1v1.1h-1.1zM474.1 317.6h1.1v1.1h-1.1zM463.6 319.7h1.1v1.1h-1.1zM473.4 319.5h1.1v1.1h-1.1zM472.8 302.8h1.1v1.1h-1.1zM483.6 314.2h1.1v1.1h-1.1zM480.2 295.0h1.1v1.1h-1.1zM469.2 296.2h1.1v1.1h-1.1zM473.1 300.6h1.1v1.1h-1.1zM469.0 319.6h1.1v1.1h-1.1zM473.2 296.2h1.1v1.1h-1.1zM469.4 307.8h1.1v1.1h-1.1zM469.5 320.0h1.1v1.1h-1.1zM474.2 303.7h1.1v1.1h-1.1zM475.0 312.5h1.1v1.1h-1.1zM468.8 308.5h1.1v1.1h-1.1zM473.8 291.2h1.1v1.1h-1.1zM474.7 313.1h1.1v1.1h-1.1zM476.9 316.4h1.1v1.1h-1.1zM477.4 319.5h1.1v1.1h-1.1zM477.6 308.3h1.1v1.1h-1.1zM467.8 303.7h1.1v1.1h-1.1zM469.6 309.5h1.1v1.1h-1.1zM475.7 302.6h1.1v1.1h-1.1zM473.1 302.8h1.1v1.1h-1.1zM473.3 302.7h1.1v1.1h-1.1zM477.2 293.4h1.1v1.1h-1.1zM468.8 291.9h1.1v1.1h-1.1zM475.4 296.9h1.1v1.1h-1.1zM459.8 302.6h1.1v1.1h-1.1zM471.9 309.7h1.1v1.1h-1.1zM470.4 303.0h1.1v1.1h-1.1zM475.8 308.9h1.1v1.1h-1.1zM479.7 318.9h1.1v1.1h-1.1zM469.2 296.8h1.1v1.1h-1.1zM471.4 308.1h1.1v1.1h-1.1zM472.0 314.4h1.1v1.1h-1.1zM470.2 295.7h1.1v1.1h-1.1zM473.8 296.0h1.1v1.1h-1.1zM476.6 306.5h1.1v1.1h-1.1zM476.6 310.5h1.1v1.1h-1.1zM468.7 291.4h1.1v1.1h-1.1zM470.5 296.0h1.1v1.1h-1.1zM469.7 315.8h1.1v1.1h-1.1zM479.2 311.1h1.1v1.1h-1.1zM477.0 306.4h1.1v1.1h-1.1zM469.8 312.7h1.1v1.1h-1.1zM472.3 320.5h1.1v1.1h-1.1zM477.4 295.2h1.1v1.1h-1.1zM479.3 293.9h1.1v1.1h-1.1zM469.7 288.0h1.1v1.1h-1.1zM477.3 311.6h1.1v1.1h-1.1zM473.3 299.8h1.1v1.1h-1.1zM481.9 299.4h1.1v1.1h-1.1zM471.9 299.8h1.1v1.1h-1.1zM467.0 304.8h1.1v1.1h-1.1zM470.9 316.4h1.1v1.1h-1.1zM476.9 292.7h1.1v1.1h-1.1zM477.4 304.3h1.1v1.1h-1.1zM469.8 294.4h1.1v1.1h-1.1zM469.9 293.7h1.1v1.1h-1.1zM468.0 314.8h1.1v1.1h-1.1zM474.7 303.8h1.1v1.1h-1.1zM476.4 309.5h1.1v1.1h-1.1zM475.0 300.7h1.1v1.1h-1.1zM473.5 312.3h1.1v1.1h-1.1zM475.0 317.8h1.1v1.1h-1.1zM469.8 290.8h1.1v1.1h-1.1zM469.5 292.8h1.1v1.1h-1.1zM474.6 313.7h1.1v1.1h-1.1zM481.0 291.7h1.1v1.1h-1.1zM467.9 301.2h1.1v1.1h-1.1zM475.9 319.8h1.1v1.1h-1.1zM475.4 315.1h1.1v1.1h-1.1zM471.4 287.2h1.1v1.1h-1.1zM478.4 295.6h1.1v1.1h-1.1zM464.2 295.4h1.1v1.1h-1.1zM476.5 304.2h1.1v1.1h-1.1zM476.5 300.9h1.1v1.1h-1.1zM475.6 306.7h1.1v1.1h-1.1zM470.5 313.8h1.1v1.1h-1.1zM477.1 308.1h1.1v1.1h-1.1zM477.9 306.6h1.1v1.1h-1.1zM473.1 307.3h1.1v1.1h-1.1zM476.7 303.8h1.1v1.1h-1.1zM466.3 305.0h1.1v1.1h-1.1zM470.4 308.6h1.1v1.1h-1.1zM470.1 319.4h1.1v1.1h-1.1zM471.1 313.5h1.1v1.1h-1.1zM473.3 291.0h1.1v1.1h-1.1zM469.4 316.3h1.1v1.1h-1.1zM473.1 319.0h1.1v1.1h-1.1zM470.7 299.3h1.1v1.1h-1.1zM473.6 299.6h1.1v1.1h-1.1zM468.1 296.7h1.1v1.1h-1.1zM471.6 289.9h1.1v1.1h-1.1zM472.1 296.8h1.1v1.1h-1.1zM469.0 291.3h1.1v1.1h-1.1zM471.2 309.5h1.1v1.1h-1.1zM471.6 288.7h1.1v1.1h-1.1zM477.8 298.4h1.1v1.1h-1.1zM467.4 297.2h1.1v1.1h-1.1zM470.8 299.4h1.1v1.1h-1.1zM478.6 299.7h1.1v1.1h-1.1zM474.1 310.5h1.1v1.1h-1.1zM477.0 306.7h1.1v1.1h-1.1zM472.5 310.6h1.1v1.1h-1.1zM471.2 315.8h1.1v1.1h-1.1zM476.0 292.8h1.1v1.1h-1.1zM472.0 299.7h1.1v1.1h-1.1zM463.3 319.3h1.1v1.1h-1.1zM470.0 304.4h1.1v1.1h-1.1zM463.2 298.4h1.1v1.1h-1.1zM477.0 293.2h1.1v1.1h-1.1zM470.3 309.2h1.1v1.1h-1.1zM475.4 304.1h1.1v1.1h-1.1zM481.4 316.7h1.1v1.1h-1.1zM471.0 313.2h1.1v1.1h-1.1zM477.8 291.8h1.1v1.1h-1.1zM474.0 317.2h1.1v1.1h-1.1zM466.8 319.4h1.1v1.1h-1.1zM474.2 299.1h1.1v1.1h-1.1zM477.6 298.4h1.1v1.1h-1.1zM480.9 299.9h1.1v1.1h-1.1zM472.5 301.1h1.1v1.1h-1.1zM473.5 309.2h1.1v1.1h-1.1zM473.6 287.1h1.1v1.1h-1.1zM480.3 307.1h1.1v1.1h-1.1zM476.4 318.4h1.1v1.1h-1.1zM470.0 302.5h1.1v1.1h-1.1zM474.1 293.9h1.1v1.1h-1.1zM471.2 302.1h1.1v1.1h-1.1zM467.8 302.5h1.1v1.1h-1.1zM466.0 295.6h1.1v1.1h-1.1zM471.0 318.4h1.1v1.1h-1.1zM466.2 309.4h1.1v1.1h-1.1zM476.9 308.2h1.1v1.1h-1.1zM474.4 300.4h1.1v1.1h-1.1zM475.5 307.5h1.1v1.1h-1.1zM475.6 297.1h1.1v1.1h-1.1zM471.6 317.7h1.1v1.1h-1.1zM470.2 298.3h1.1v1.1h-1.1zM472.2 303.9h1.1v1.1h-1.1zM474.3 295.1h1.1v1.1h-1.1zM473.6 300.1h1.1v1.1h-1.1zM477.2 309.9h1.1v1.1h-1.1zM469.4 301.9h1.1v1.1h-1.1zM470.6 314.0h1.1v1.1h-1.1zM479.4 306.3h1.1v1.1h-1.1zM473.6 300.9h1.1v1.1h-1.1zM465.9 301.4h1.1v1.1h-1.1zM474.1 319.8h1.1v1.1h-1.1zM472.6 297.5h1.1v1.1h-1.1zM471.3 309.6h1.1v1.1h-1.1zM468.9 299.6h1.1v1.1h-1.1zM473.1 302.4h1.1v1.1h-1.1zM471.5 295.4h1.1v1.1h-1.1zM472.2 305.1h1.1v1.1h-1.1zM475.5 295.9h1.1v1.1h-1.1zM468.5 311.6h1.1v1.1h-1.1zM469.2 298.3h1.1v1.1h-1.1zM471.5 316.1h1.1v1.1h-1.1zM473.0 308.0h1.1v1.1h-1.1zM463.6 304.4h1.1v1.1h-1.1zM472.9 293.4h1.1v1.1h-1.1zM471.3 313.5h1.1v1.1h-1.1zM474.7 292.9h1.1v1.1h-1.1zM477.3 302.7h1.1v1.1h-1.1zM476.2 309.7h1.1v1.1h-1.1zM475.5 312.2h1.1v1.1h-1.1zM473.6 287.3h1.1v1.1h-1.1zM469.5 299.9h1.1v1.1h-1.1zM474.2 292.7h1.1v1.1h-1.1zM468.1 318.0h1.1v1.1h-1.1zM477.0 299.3h1.1v1.1h-1.1zM473.6 312.8h1.1v1.1h-1.1zM465.5 297.0h1.1v1.1h-1.1zM469.8 303.3h1.1v1.1h-1.1zM481.0 290.9h1.1v1.1h-1.1zM474.3 313.0h1.1v1.1h-1.1zM472.6 301.2h1.1v1.1h-1.1zM471.9 317.0h1.1v1.1h-1.1zM468.3 285.8h1.1v1.1h-1.1zM465.9 314.6h1.1v1.1h-1.1zM473.8 311.9h1.1v1.1h-1.1zM474.0 306.4h1.1v1.1h-1.1zM467.8 293.1h1.1v1.1h-1.1zM474.1 294.6h1.1v1.1h-1.1zM470.3 292.6h1.1v1.1h-1.1zM462.8 319.5h1.1v1.1h-1.1zM472.3 299.5h1.1v1.1h-1.1zM469.3 305.3h1.1v1.1h-1.1zM470.1 311.9h1.1v1.1h-1.1zM469.2 318.9h1.1v1.1h-1.1zM470.2 300.1h1.1v1.1h-1.1zM474.4 297.5h1.1v1.1h-1.1zM466.1 305.1h1.1v1.1h-1.1zM472.2 302.1h1.1v1.1h-1.1zM475.8 295.7h1.1v1.1h-1.1zM475.6 310.2h1.1v1.1h-1.1zM463.0 317.9h1.1v1.1h-1.1zM477.1 314.7h1.1v1.1h-1.1zM469.7 316.2h1.1v1.1h-1.1zM472.2 304.2h1.1v1.1h-1.1zM466.3 296.6h1.1v1.1h-1.1zM470.3 301.1h1.1v1.1h-1.1zM476.0 302.9h1.1v1.1h-1.1zM475.4 310.6h1.1v1.1h-1.1zM465.4 314.2h1.1v1.1h-1.1zM465.7 304.0h1.1v1.1h-1.1zM471.6 291.4h1.1v1.1h-1.1zM476.0 311.4h1.1v1.1h-1.1zM466.9 298.8h1.1v1.1h-1.1zM469.8 298.5h1.1v1.1h-1.1zM468.1 312.0h1.1v1.1h-1.1zM471.9 311.8h1.1v1.1h-1.1zM469.6 301.7h1.1v1.1h-1.1zM479.6 296.9h1.1v1.1h-1.1zM471.1 318.1h1.1v1.1h-1.1zM476.5 302.7h1.1v1.1h-1.1zM470.1 312.9h1.1v1.1h-1.1zM473.8 301.2h1.1v1.1h-1.1zM478.0 254.1h1.1v1.1h-1.1zM473.4 285.1h1.1v1.1h-1.1zM454.6 281.6h1.1v1.1h-1.1zM476.8 243.3h1.1v1.1h-1.1zM469.8 269.3h1.1v1.1h-1.1zM469.9 250.5h1.1v1.1h-1.1zM487.8 273.8h1.1v1.1h-1.1zM469.5 263.9h1.1v1.1h-1.1zM472.6 268.4h1.1v1.1h-1.1zM458.5 290.3h1.1v1.1h-1.1zM478.5 307.5h1.1v1.1h-1.1zM467.8 265.7h1.1v1.1h-1.1zM470.8 291.4h1.1v1.1h-1.1zM479.8 317.1h1.1v1.1h-1.1zM474.2 290.9h1.1v1.1h-1.1zM467.7 298.0h1.1v1.1h-1.1zM485.8 278.2h1.1v1.1h-1.1zM454.0 318.2h1.1v1.1h-1.1zM474.0 252.8h1.1v1.1h-1.1zM470.3 290.7h1.1v1.1h-1.1z" fill="#333" fill-opacity="0.62"/>
</svg>
</body></html>
